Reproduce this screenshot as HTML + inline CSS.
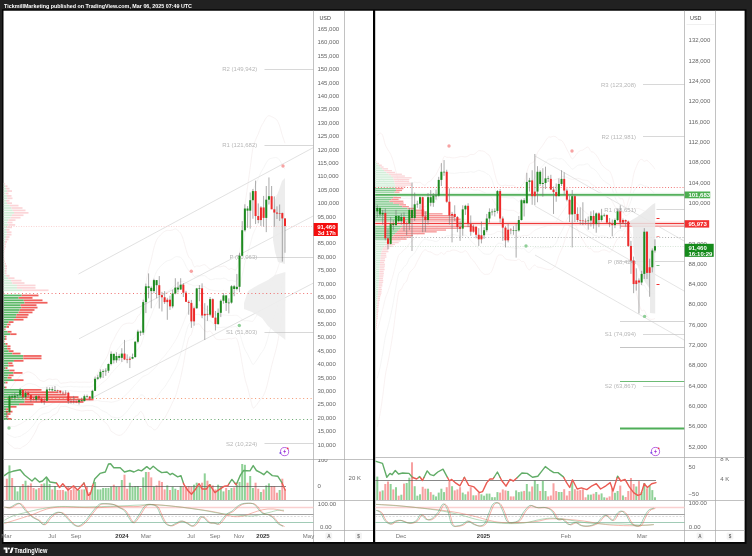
<!DOCTYPE html>
<html><head><meta charset="utf-8"><title>chart</title>
<style>html,body{margin:0;padding:0;background:#212121;}svg{display:block;font-family:"Liberation Sans",sans-serif;filter:blur(0.3px);}</style></head>
<body><svg width="752" height="556" viewBox="0 0 752 556">
<rect x="0" y="0" width="752" height="556" fill="#212121"/>
<rect x="2.0" y="9.25" width="744.5" height="534.55" fill="#060606"/>
<rect x="3.5" y="10.75" width="369.5" height="531.25" fill="#fff"/>
<rect x="375.1" y="10.75" width="369.5" height="531.25" fill="#fff"/>
<rect x="373.0" y="10.75" width="2.1000000000000227" height="531.25" fill="#000"/>
<text x="4" y="8" font-size="5.6" fill="#fff" font-weight="bold" text-anchor="start" textLength="188" lengthAdjust="spacingAndGlyphs">TickmillMarketing published on TradingView.com, Mar 06, 2025 07:49 UTC</text>
<clipPath id="cl"><rect x="3.5" y="10.75" width="310.1" height="448.25"/></clipPath>
<g clip-path="url(#cl)">
<path d="M6.8,395.36 C7.25,394.47 8.58,391.57 9.47,390.04 C10.37,388.52 11.26,387.48 12.15,386.21 C13.04,384.93 13.93,383.52 14.82,382.39 C15.72,381.26 16.61,380.58 17.5,379.43 C18.39,378.27 19.28,376.3 20.18,375.45 C21.07,374.6 21.96,374.83 22.85,374.34 C23.74,373.85 24.63,372.94 25.52,372.52 C26.42,372.1 27.31,371.81 28.2,371.82 C29.09,371.83 29.98,372.2 30.88,372.58 C31.77,372.96 32.66,373.5 33.55,374.1 C34.44,374.69 35.33,375.28 36.22,376.18 C37.12,377.08 38.01,378.73 38.9,379.51 C39.79,380.28 40.68,380.52 41.57,380.83 C42.47,381.14 43.36,381.55 44.25,381.38 C45.14,381.2 46.03,380.21 46.92,379.8 C47.82,379.39 48.71,378.94 49.6,378.91 C50.49,378.88 51.38,379.56 52.27,379.61 C53.17,379.66 54.06,379.19 54.95,379.2 C55.84,379.21 56.73,379.02 57.62,379.68 C58.52,380.34 59.41,382.59 60.3,383.14 C61.19,383.69 62.08,383.03 62.97,382.98 C63.87,382.92 64.76,382.92 65.65,382.82 C66.54,382.71 67.43,382.5 68.33,382.36 C69.22,382.21 70.11,381.95 71,381.95 C71.89,381.96 72.78,382.37 73.67,382.38 C74.57,382.39 75.46,382.02 76.35,382 C77.24,381.98 78.13,382.21 79.02,382.25 C79.92,382.29 80.81,382.25 81.7,382.24 C82.59,382.23 83.48,382.21 84.37,382.2 C85.27,382.2 86.16,382.21 87.05,382.22 C87.94,382.22 88.83,382.37 89.72,382.25 C90.62,382.14 91.51,382.37 92.4,381.5 C93.29,380.64 94.18,378.46 95.07,377.05 C95.97,375.64 96.86,374.6 97.75,373.05 C98.64,371.51 99.53,369.43 100.42,367.77 C101.32,366.12 102.21,364.59 103.1,363.13 C103.99,361.66 104.88,360.65 105.77,358.99 C106.67,357.32 107.56,355.57 108.45,353.15 C109.34,350.73 110.23,346.76 111.12,344.48 C112.02,342.19 112.91,341.21 113.8,339.46 C114.69,337.7 115.58,335.55 116.47,333.93 C117.37,332.3 118.26,331.08 119.15,329.71 C120.04,328.34 120.93,326.66 121.82,325.72 C122.72,324.78 123.61,324.47 124.5,324.06 C125.39,323.65 126.28,323.39 127.17,323.24 C128.07,323.09 128.96,323.13 129.85,323.14 C130.74,323.14 131.63,323.64 132.53,323.29 C133.42,322.93 134.31,322.24 135.2,321 C136.09,319.76 136.98,317.18 137.88,315.86 C138.77,314.54 139.66,315.63 140.55,313.06 C141.44,310.5 142.33,305.45 143.22,300.46 C144.12,295.46 145.01,288.27 145.9,283.08 C146.79,277.89 147.68,273.23 148.57,269.31 C149.47,265.4 150.36,263.17 151.25,259.6 C152.14,256.03 153.03,251.14 153.93,247.87 C154.82,244.61 155.71,241.95 156.6,240.03 C157.49,238.11 158.38,237.44 159.28,236.36 C160.17,235.28 161.06,234.36 161.95,233.54 C162.84,232.71 163.73,231.95 164.62,231.42 C165.52,230.89 166.41,230.51 167.3,230.37 C168.19,230.22 169.08,230.6 169.97,230.53 C170.87,230.46 171.76,230.25 172.65,229.97 C173.54,229.68 174.43,228.73 175.32,228.83 C176.22,228.92 177.11,229.77 178,230.54 C178.89,231.31 179.78,231.89 180.68,233.42 C181.57,234.96 182.46,237.05 183.35,239.75 C184.24,242.46 185.13,246.79 186.03,249.66 C186.92,252.52 187.81,255.25 188.7,256.95 C189.59,258.66 190.48,258.28 191.38,259.89 C192.27,261.51 193.16,265.65 194.05,266.65 C194.94,267.66 195.83,265.99 196.72,265.93 C197.62,265.87 198.51,266.39 199.4,266.28 C200.29,266.16 201.18,265.53 202.07,265.26 C202.97,265 203.86,264.41 204.75,264.7 C205.64,264.98 206.53,266.24 207.43,266.99 C208.32,267.74 209.21,268.94 210.1,269.19 C210.99,269.45 211.88,268.91 212.78,268.51 C213.67,268.11 214.56,267.08 215.45,266.78 C216.34,266.48 217.23,266.7 218.12,266.7 C219.02,266.71 219.91,266.92 220.8,266.8 C221.69,266.67 222.58,265.94 223.47,265.97 C224.37,266 225.26,266.42 226.15,266.98 C227.04,267.54 227.93,269.08 228.82,269.33 C229.72,269.59 230.61,268.46 231.5,268.51 C232.39,268.57 233.28,269.71 234.17,269.67 C235.07,269.64 235.96,270.91 236.85,268.31 C237.74,265.71 238.63,260.23 239.53,254.09 C240.42,247.95 241.31,239.5 242.2,231.47 C243.09,223.44 243.98,213.33 244.88,205.89 C245.77,198.45 246.66,193.22 247.55,186.82 C248.44,180.41 249.33,173.9 250.22,167.45 C251.12,160.99 252.01,152.69 252.9,148.09 C253.79,143.48 254.68,142.18 255.57,139.83 C256.47,137.48 257.36,136.13 258.25,134 C259.14,131.87 260.03,128.98 260.92,127.04 C261.82,125.1 262.71,123.93 263.6,122.35 C264.49,120.77 265.38,118.67 266.27,117.55 C267.17,116.43 268.06,115.8 268.95,115.66 C269.84,115.53 270.73,116.34 271.62,116.74 C272.52,117.13 273.41,117.46 274.3,118.04 C275.19,118.61 276.08,118.86 276.97,120.18 C277.87,121.51 278.76,123.46 279.65,125.99 C280.54,128.52 281.43,132.5 282.32,135.37 C283.22,138.25 284.55,141.95 285,143.27" fill="none" stroke="#f3eded" stroke-width="0.7" />
<path d="M6.8,403.04 C7.25,402.39 8.58,400.25 9.47,399.12 C10.37,397.99 11.26,397.21 12.15,396.26 C13.04,395.31 13.93,394.3 14.82,393.4 C15.72,392.51 16.61,391.86 17.5,390.89 C18.39,389.93 19.28,388.39 20.18,387.64 C21.07,386.89 21.96,386.89 22.85,386.39 C23.74,385.89 24.63,385.09 25.52,384.64 C26.42,384.18 27.31,383.82 28.2,383.67 C29.09,383.51 29.98,383.62 30.88,383.73 C31.77,383.83 32.66,384.05 33.55,384.29 C34.44,384.53 35.33,384.73 36.22,385.17 C37.12,385.61 38.01,386.54 38.9,386.94 C39.79,387.35 40.68,387.46 41.57,387.6 C42.47,387.75 43.36,388 44.25,387.8 C45.14,387.61 46.03,386.83 46.92,386.45 C47.82,386.07 48.71,385.65 49.6,385.51 C50.49,385.37 51.38,385.68 52.27,385.61 C53.17,385.53 54.06,385.15 54.95,385.06 C55.84,384.98 56.73,384.76 57.62,385.09 C58.52,385.43 59.41,386.77 60.3,387.07 C61.19,387.38 62.08,386.97 62.97,386.92 C63.87,386.86 64.76,386.8 65.65,386.73 C66.54,386.66 67.43,386.58 68.33,386.51 C69.22,386.45 70.11,386.29 71,386.34 C71.89,386.39 72.78,386.77 73.67,386.82 C74.57,386.87 75.46,386.63 76.35,386.65 C77.24,386.67 78.13,386.87 79.02,386.93 C79.92,387 80.81,387.02 81.7,387.03 C82.59,387.03 83.48,386.97 84.37,386.95 C85.27,386.93 86.16,386.9 87.05,386.91 C87.94,386.91 88.83,387.07 89.72,386.97 C90.62,386.88 91.51,387 92.4,386.34 C93.29,385.68 94.18,384.06 95.07,382.99 C95.97,381.92 96.86,381.08 97.75,379.93 C98.64,378.79 99.53,377.32 100.42,376.12 C101.32,374.92 102.21,373.8 103.1,372.72 C103.99,371.64 104.88,370.87 105.77,369.63 C106.67,368.4 107.56,367.09 108.45,365.3 C109.34,363.52 110.23,360.62 111.12,358.91 C112.02,357.2 112.91,356.39 113.8,355.02 C114.69,353.66 115.58,352 116.47,350.72 C117.37,349.43 118.26,348.47 119.15,347.32 C120.04,346.18 120.93,344.75 121.82,343.87 C122.72,343 123.61,342.58 124.5,342.07 C125.39,341.56 126.28,341.17 127.17,340.83 C128.07,340.49 128.96,340.27 129.85,340.03 C130.74,339.8 131.63,339.94 132.53,339.41 C133.42,338.89 134.31,338.07 135.2,336.9 C136.09,335.73 136.98,333.63 137.88,332.4 C138.77,331.16 139.66,331.63 140.55,329.47 C141.44,327.31 142.33,323.35 143.22,319.46 C144.12,315.57 145.01,310.13 145.9,306.13 C146.79,302.13 147.68,298.54 148.57,295.44 C149.47,292.34 150.36,290.4 151.25,287.52 C152.14,284.65 153.03,280.84 153.93,278.18 C154.82,275.51 155.71,273.24 156.6,271.52 C157.49,269.79 158.38,268.93 159.28,267.81 C160.17,266.7 161.06,265.69 161.95,264.82 C162.84,263.94 163.73,263.21 164.62,262.54 C165.52,261.88 166.41,261.24 167.3,260.83 C168.19,260.43 169.08,260.47 169.97,260.11 C170.87,259.75 171.76,259.22 172.65,258.66 C173.54,258.11 174.43,257.12 175.32,256.81 C176.22,256.49 177.11,256.67 178,256.78 C178.89,256.89 179.78,256.82 180.68,257.45 C181.57,258.08 182.46,259.11 183.35,260.57 C184.24,262.04 185.13,264.61 186.03,266.26 C186.92,267.91 187.81,269.47 188.7,270.47 C189.59,271.47 190.48,271.28 191.38,272.26 C192.27,273.24 193.16,275.8 194.05,276.36 C194.94,276.93 195.83,275.73 196.72,275.65 C197.62,275.58 198.51,275.91 199.4,275.92 C200.29,275.92 201.18,275.74 202.07,275.7 C202.97,275.66 203.86,275.35 204.75,275.7 C205.64,276.05 206.53,277.17 207.43,277.81 C208.32,278.44 209.21,279.24 210.1,279.51 C210.99,279.78 211.88,279.56 212.78,279.43 C213.67,279.3 214.56,278.82 215.45,278.72 C216.34,278.63 217.23,278.82 218.12,278.85 C219.02,278.89 219.91,279.04 220.8,278.93 C221.69,278.82 222.58,278.18 223.47,278.2 C224.37,278.21 225.26,278.59 226.15,279.03 C227.04,279.47 227.93,280.64 228.82,280.85 C229.72,281.05 230.61,280.2 231.5,280.25 C232.39,280.29 233.28,281.12 234.17,281.09 C235.07,281.06 235.96,281.96 236.85,280.08 C237.74,278.21 238.63,274.25 239.53,269.83 C240.42,265.41 241.31,259.41 242.2,253.54 C243.09,247.67 243.98,240.15 244.88,234.61 C245.77,229.06 246.66,225.05 247.55,220.27 C248.44,215.48 249.33,210.7 250.22,205.88 C251.12,201.06 252.01,194.97 252.9,191.36 C253.79,187.74 254.68,186.3 255.57,184.19 C256.47,182.09 257.36,180.72 258.25,178.74 C259.14,176.76 260.03,174.13 260.92,172.31 C261.82,170.5 262.71,169.45 263.6,167.84 C264.49,166.23 265.38,164.1 266.27,162.67 C267.17,161.24 268.06,160.01 268.95,159.28 C269.84,158.55 270.73,158.54 271.62,158.27 C272.52,158 273.41,157.76 274.3,157.67 C275.19,157.58 276.08,157.33 276.97,157.74 C277.87,158.14 278.76,158.91 279.65,160.11 C280.54,161.32 281.43,163.45 282.32,164.96 C283.22,166.48 284.55,168.51 285,169.22" fill="none" stroke="#f0f0f0" stroke-width="0.7" />
<path d="M6.8,410.73 C7.25,410.3 8.58,408.94 9.47,408.2 C10.37,407.47 11.26,406.94 12.15,406.31 C13.04,405.68 13.93,405.08 14.82,404.42 C15.72,403.76 16.61,403.13 17.5,402.36 C18.39,401.59 19.28,400.47 20.18,399.82 C21.07,399.17 21.96,398.96 22.85,398.45 C23.74,397.94 24.63,397.25 25.52,396.76 C26.42,396.27 27.31,395.83 28.2,395.51 C29.09,395.2 29.98,395.04 30.88,394.87 C31.77,394.7 32.66,394.6 33.55,394.49 C34.44,394.37 35.33,394.18 36.22,394.16 C37.12,394.14 38.01,394.34 38.9,394.38 C39.79,394.41 40.68,394.4 41.57,394.37 C42.47,394.35 43.36,394.44 44.25,394.23 C45.14,394.02 46.03,393.45 46.92,393.1 C47.82,392.75 48.71,392.37 49.6,392.12 C50.49,391.87 51.38,391.8 52.27,391.6 C53.17,391.4 54.06,391.11 54.95,390.93 C55.84,390.75 56.73,390.49 57.62,390.51 C58.52,390.52 59.41,390.95 60.3,391.01 C61.19,391.07 62.08,390.92 62.97,390.86 C63.87,390.79 64.76,390.67 65.65,390.64 C66.54,390.61 67.43,390.65 68.33,390.67 C69.22,390.68 70.11,390.63 71,390.73 C71.89,390.83 72.78,391.16 73.67,391.26 C74.57,391.35 75.46,391.23 76.35,391.29 C77.24,391.35 78.13,391.53 79.02,391.62 C79.92,391.7 80.81,391.8 81.7,391.81 C82.59,391.82 83.48,391.73 84.37,391.7 C85.27,391.66 86.16,391.6 87.05,391.59 C87.94,391.59 88.83,391.76 89.72,391.69 C90.62,391.62 91.51,391.64 92.4,391.18 C93.29,390.72 94.18,389.65 95.07,388.93 C95.97,388.2 96.86,387.56 97.75,386.82 C98.64,386.07 99.53,385.22 100.42,384.47 C101.32,383.71 102.21,383.01 103.1,382.31 C103.99,381.61 104.88,381.09 105.77,380.28 C106.67,379.47 107.56,378.62 108.45,377.46 C109.34,376.3 110.23,374.49 111.12,373.34 C112.02,372.2 112.91,371.56 113.8,370.59 C114.69,369.62 115.58,368.45 116.47,367.5 C117.37,366.56 118.26,365.85 119.15,364.94 C120.04,364.02 120.93,362.83 121.82,362.03 C122.72,361.22 123.61,360.68 124.5,360.08 C125.39,359.48 126.28,358.94 127.17,358.41 C128.07,357.89 128.96,357.41 129.85,356.93 C130.74,356.45 131.63,356.23 132.53,355.54 C133.42,354.85 134.31,353.9 135.2,352.8 C136.09,351.7 136.98,350.09 137.88,348.93 C138.77,347.78 139.66,347.62 140.55,345.88 C141.44,344.13 142.33,341.24 143.22,338.46 C144.12,335.67 145.01,331.99 145.9,329.18 C146.79,326.36 147.68,323.85 148.57,321.56 C149.47,319.27 150.36,317.63 151.25,315.45 C152.14,313.27 153.03,310.55 153.93,308.48 C154.82,306.41 155.71,304.54 156.6,303 C157.49,301.47 158.38,300.41 159.28,299.26 C160.17,298.11 161.06,297.03 161.95,296.1 C162.84,295.16 163.73,294.47 164.62,293.66 C165.52,292.86 166.41,291.96 167.3,291.29 C168.19,290.63 169.08,290.35 169.97,289.7 C170.87,289.04 171.76,288.18 172.65,287.36 C173.54,286.54 174.43,285.51 175.32,284.78 C176.22,284.06 177.11,283.57 178,283.02 C178.89,282.47 179.78,281.75 180.68,281.48 C181.57,281.21 182.46,281.17 183.35,281.39 C184.24,281.62 185.13,282.42 186.03,282.85 C186.92,283.29 187.81,283.69 188.7,283.99 C189.59,284.29 190.48,284.28 191.38,284.63 C192.27,284.98 193.16,285.95 194.05,286.07 C194.94,286.19 195.83,285.46 196.72,285.37 C197.62,285.29 198.51,285.43 199.4,285.56 C200.29,285.68 201.18,285.95 202.07,286.14 C202.97,286.33 203.86,286.3 204.75,286.71 C205.64,287.12 206.53,288.11 207.43,288.63 C208.32,289.15 209.21,289.54 210.1,289.83 C210.99,290.11 211.88,290.21 212.78,290.35 C213.67,290.49 214.56,290.56 215.45,290.67 C216.34,290.77 217.23,290.93 218.12,291 C219.02,291.07 219.91,291.16 220.8,291.07 C221.69,290.97 222.58,290.42 223.47,290.42 C224.37,290.43 225.26,290.75 226.15,291.07 C227.04,291.4 227.93,292.21 228.82,292.36 C229.72,292.51 230.61,291.95 231.5,291.98 C232.39,292 233.28,292.53 234.17,292.51 C235.07,292.49 235.96,293.01 236.85,291.86 C237.74,290.7 238.63,288.28 239.53,285.58 C240.42,282.87 241.31,279.33 242.2,275.62 C243.09,271.91 243.98,266.98 244.88,263.33 C245.77,259.68 246.66,256.89 247.55,253.72 C248.44,250.55 249.33,247.5 250.22,244.32 C251.12,241.14 252.01,237.25 252.9,234.63 C253.79,232 254.68,230.42 255.57,228.56 C256.47,226.7 257.36,225.32 258.25,223.49 C259.14,221.66 260.03,219.29 260.92,217.59 C261.82,215.9 262.71,214.96 263.6,213.32 C264.49,211.69 265.38,209.53 266.27,207.79 C267.17,206.05 268.06,204.23 268.95,202.9 C269.84,201.57 270.73,200.74 271.62,199.81 C272.52,198.87 273.41,198.05 274.3,197.3 C275.19,196.55 276.08,195.8 276.97,195.29 C277.87,194.78 278.76,194.36 279.65,194.23 C280.54,194.11 281.43,194.4 282.32,194.55 C283.22,194.71 284.55,195.07 285,195.18" fill="none" stroke="#f4f0f0" stroke-width="0.7" />
<path d="M6.8,426.09 C7.25,426.14 8.58,426.31 9.47,426.36 C10.37,426.42 11.26,426.39 12.15,426.41 C13.04,426.42 13.93,426.63 14.82,426.45 C15.72,426.26 16.61,425.67 17.5,425.29 C18.39,424.91 19.28,424.64 20.18,424.18 C21.07,423.73 21.96,423.09 22.85,422.55 C23.74,422.02 24.63,421.56 25.52,421 C26.42,420.44 27.31,419.85 28.2,419.21 C29.09,418.57 29.98,417.87 30.88,417.15 C31.77,416.43 32.66,415.71 33.55,414.88 C34.44,414.04 35.33,413.08 36.22,412.15 C37.12,411.21 38.01,409.95 38.9,409.25 C39.79,408.54 40.68,408.27 41.57,407.91 C42.47,407.55 43.36,407.34 44.25,407.09 C45.14,406.84 46.03,406.7 46.92,406.4 C47.82,406.11 48.71,405.79 49.6,405.32 C50.49,404.85 51.38,404.03 52.27,403.58 C53.17,403.14 54.06,403.03 54.95,402.66 C55.84,402.28 56.73,401.97 57.62,401.34 C58.52,400.71 59.41,399.31 60.3,398.88 C61.19,398.45 62.08,398.81 62.97,398.74 C63.87,398.67 64.76,398.43 65.65,398.47 C66.54,398.51 67.43,398.81 68.33,398.98 C69.22,399.15 70.11,399.31 71,399.51 C71.89,399.7 72.78,399.95 73.67,400.13 C74.57,400.31 75.46,400.44 76.35,400.58 C77.24,400.72 78.13,400.85 79.02,400.98 C79.92,401.11 80.81,401.34 81.7,401.38 C82.59,401.41 83.48,401.26 84.37,401.19 C85.27,401.13 86.16,400.99 87.05,400.97 C87.94,400.96 88.83,401.14 89.72,401.12 C90.62,401.1 91.51,400.91 92.4,400.85 C93.29,400.8 94.18,400.85 95.07,400.8 C95.97,400.76 96.86,400.52 97.75,400.58 C98.64,400.64 99.53,401.01 100.42,401.16 C101.32,401.31 102.21,401.42 103.1,401.49 C103.99,401.56 104.88,401.52 105.77,401.57 C106.67,401.61 107.56,401.66 108.45,401.77 C109.34,401.88 110.23,402.22 111.12,402.21 C112.02,402.2 112.91,401.91 113.8,401.72 C114.69,401.54 115.58,401.34 116.47,401.08 C117.37,400.82 118.26,400.62 119.15,400.16 C120.04,399.71 120.93,399.01 121.82,398.33 C122.72,397.65 123.61,396.89 124.5,396.1 C125.39,395.3 126.28,394.48 127.17,393.58 C128.07,392.68 128.96,391.69 129.85,390.72 C130.74,389.76 131.63,388.81 132.53,387.79 C133.42,386.77 134.31,385.57 135.2,384.6 C136.09,383.64 136.98,383 137.88,382.01 C138.77,381.03 139.66,379.61 140.55,378.69 C141.44,377.76 142.33,377.03 143.22,376.46 C144.12,375.89 145.01,375.72 145.9,375.28 C146.79,374.84 147.68,374.47 148.57,373.81 C149.47,373.14 150.36,372.08 151.25,371.29 C152.14,370.5 153.03,369.97 153.93,369.09 C154.82,368.2 155.71,367.14 156.6,365.98 C157.49,364.83 158.38,363.39 159.28,362.16 C160.17,360.94 161.06,359.7 161.95,358.66 C162.84,357.61 163.73,356.98 164.62,355.91 C165.52,354.84 166.41,353.4 167.3,352.22 C168.19,351.05 169.08,350.11 169.97,348.86 C170.87,347.62 171.76,346.11 172.65,344.76 C173.54,343.41 174.43,342.29 175.32,340.74 C176.22,339.2 177.11,337.37 178,335.51 C178.89,333.64 179.78,331.62 180.68,329.54 C181.57,327.46 182.46,325.28 183.35,323.04 C184.24,320.79 185.13,318.05 186.03,316.05 C186.92,314.05 187.81,312.14 188.7,311.03 C189.59,309.92 190.48,310.29 191.38,309.37 C192.27,308.45 193.16,306.25 194.05,305.49 C194.94,304.73 195.83,304.93 196.72,304.82 C197.62,304.71 198.51,304.47 199.4,304.84 C200.29,305.2 201.18,306.37 202.07,307.02 C202.97,307.66 203.86,308.18 204.75,308.72 C205.64,309.27 206.53,309.98 207.43,310.27 C208.32,310.56 209.21,310.14 210.1,310.46 C210.99,310.78 211.88,311.51 212.78,312.19 C213.67,312.87 214.56,314.04 215.45,314.55 C216.34,315.07 217.23,315.16 218.12,315.29 C219.02,315.42 219.91,315.4 220.8,315.33 C221.69,315.26 222.58,314.9 223.47,314.88 C224.37,314.85 225.26,315.08 226.15,315.16 C227.04,315.25 227.93,315.34 228.82,315.38 C229.72,315.43 230.61,315.45 231.5,315.44 C232.39,315.43 233.28,315.35 234.17,315.34 C235.07,315.33 235.96,315.11 236.85,315.4 C237.74,315.69 238.63,316.34 239.53,317.07 C240.42,317.8 241.31,319.15 242.2,319.76 C243.09,320.38 243.98,320.62 244.88,320.77 C245.77,320.91 246.66,320.55 247.55,320.62 C248.44,320.69 249.33,321.1 250.22,321.19 C251.12,321.29 252.01,321.82 252.9,321.17 C253.79,320.52 254.68,318.65 255.57,317.29 C256.47,315.92 257.36,314.5 258.25,312.98 C259.14,311.45 260.03,309.6 260.92,308.15 C261.82,306.7 262.71,305.98 263.6,304.29 C264.49,302.61 265.38,300.39 266.27,298.03 C267.17,295.67 268.06,292.66 268.95,290.14 C269.84,287.61 270.73,285.14 271.62,282.88 C272.52,280.62 273.41,278.64 274.3,276.56 C275.19,274.48 276.08,272.75 276.97,270.4 C277.87,268.05 278.76,265.25 279.65,262.47 C280.54,259.7 281.43,256.3 282.32,253.73 C283.22,251.17 284.55,248.2 285,247.09" fill="none" stroke="#f4f0f0" stroke-width="0.7" />
<path d="M6.8,433.78 C7.25,434.05 8.58,435 9.47,435.44 C10.37,435.89 11.26,436.12 12.15,436.46 C13.04,436.79 13.93,437.41 14.82,437.46 C15.72,437.51 16.61,436.94 17.5,436.76 C18.39,436.57 19.28,436.72 20.18,436.37 C21.07,436.01 21.96,435.15 22.85,434.61 C23.74,434.07 24.63,433.71 25.52,433.12 C26.42,432.53 27.31,431.86 28.2,431.06 C29.09,430.26 29.98,429.29 30.88,428.29 C31.77,427.3 32.66,426.27 33.55,425.07 C34.44,423.88 35.33,422.53 36.22,421.14 C37.12,419.74 38.01,417.76 38.9,416.69 C39.79,415.61 40.68,415.21 41.57,414.68 C42.47,414.16 43.36,413.79 44.25,413.52 C45.14,413.25 46.03,413.32 46.92,413.05 C47.82,412.78 48.71,412.5 49.6,411.92 C50.49,411.34 51.38,410.14 52.27,409.58 C53.17,409.01 54.06,409 54.95,408.52 C55.84,408.05 56.73,407.7 57.62,406.75 C58.52,405.8 59.41,403.49 60.3,402.81 C61.19,402.13 62.08,402.75 62.97,402.68 C63.87,402.6 64.76,402.3 65.65,402.38 C66.54,402.46 67.43,402.88 68.33,403.13 C69.22,403.39 70.11,403.65 71,403.89 C71.89,404.13 72.78,404.35 73.67,404.57 C74.57,404.79 75.46,405.04 76.35,405.22 C77.24,405.41 78.13,405.51 79.02,405.66 C79.92,405.82 80.81,406.11 81.7,406.16 C82.59,406.21 83.48,406.02 84.37,405.94 C85.27,405.86 86.16,405.68 87.05,405.66 C87.94,405.65 88.83,405.83 89.72,405.84 C90.62,405.84 91.51,405.54 92.4,405.69 C93.29,405.84 94.18,406.44 95.07,406.74 C95.97,407.03 96.86,407 97.75,407.46 C98.64,407.92 99.53,408.9 100.42,409.51 C101.32,410.11 102.21,410.63 103.1,411.08 C103.99,411.53 104.88,411.74 105.77,412.21 C106.67,412.69 107.56,413.19 108.45,413.93 C109.34,414.67 110.23,416.09 111.12,416.65 C112.02,417.21 112.91,417.09 113.8,417.29 C114.69,417.49 115.58,417.79 116.47,417.87 C117.37,417.95 118.26,418.01 119.15,417.78 C120.04,417.55 120.93,417.1 121.82,416.48 C122.72,415.87 123.61,414.99 124.5,414.1 C125.39,413.22 126.28,412.25 127.17,411.17 C128.07,410.08 128.96,408.82 129.85,407.62 C130.74,406.41 131.63,405.1 132.53,403.92 C133.42,402.73 134.31,401.4 135.2,400.51 C136.09,399.61 136.98,399.45 137.88,398.55 C138.77,397.65 139.66,395.61 140.55,395.09 C141.44,394.58 142.33,394.92 143.22,395.46 C144.12,396 145.01,397.58 145.9,398.33 C146.79,399.07 147.68,399.78 148.57,399.93 C149.47,400.08 150.36,399.3 151.25,399.21 C152.14,399.12 153.03,399.68 153.93,399.39 C154.82,399.1 155.71,398.43 156.6,397.47 C157.49,396.51 158.38,394.87 159.28,393.61 C160.17,392.36 161.06,391.03 161.95,389.94 C162.84,388.84 163.73,388.24 164.62,387.04 C165.52,385.83 166.41,384.12 167.3,382.69 C168.19,381.26 169.08,379.98 169.97,378.45 C170.87,376.91 171.76,375.08 172.65,373.46 C173.54,371.84 174.43,370.67 175.32,368.72 C176.22,366.77 177.11,364.27 178,361.75 C178.89,359.22 179.78,356.55 180.68,353.57 C181.57,350.59 182.46,347.34 183.35,343.86 C184.24,340.37 185.13,335.87 186.03,332.65 C186.92,329.43 187.81,326.37 188.7,324.55 C189.59,322.73 190.48,323.3 191.38,321.74 C192.27,320.18 193.16,316.4 194.05,315.2 C194.94,314 195.83,314.66 196.72,314.54 C197.62,314.42 198.51,313.99 199.4,314.48 C200.29,314.96 201.18,316.58 202.07,317.46 C202.97,318.33 203.86,319.13 204.75,319.73 C205.64,320.34 206.53,320.91 207.43,321.09 C208.32,321.26 209.21,320.44 210.1,320.78 C210.99,321.12 211.88,322.16 212.78,323.11 C213.67,324.06 214.56,325.78 215.45,326.5 C216.34,327.22 217.23,327.28 218.12,327.44 C219.02,327.6 219.91,327.52 220.8,327.47 C221.69,327.41 222.58,327.15 223.47,327.1 C224.37,327.06 225.26,327.24 226.15,327.21 C227.04,327.18 227.93,326.9 228.82,326.89 C229.72,326.89 230.61,327.2 231.5,327.17 C232.39,327.15 233.28,326.76 234.17,326.76 C235.07,326.76 235.96,326.17 236.85,327.18 C237.74,328.18 238.63,330.37 239.53,332.81 C240.42,335.26 241.31,339.06 242.2,341.84 C243.09,344.62 243.98,347.45 244.88,349.48 C245.77,351.52 246.66,352.38 247.55,354.07 C248.44,355.76 249.33,357.9 250.22,359.63 C251.12,361.36 252.01,364.1 252.9,364.44 C253.79,364.78 254.68,362.77 255.57,361.65 C256.47,360.54 257.36,359.09 258.25,357.72 C259.14,356.35 260.03,354.75 260.92,353.43 C261.82,352.1 262.71,351.49 263.6,349.78 C264.49,348.07 265.38,345.82 266.27,343.15 C267.17,340.48 268.06,336.88 268.95,333.75 C269.84,330.63 270.73,327.34 271.62,324.41 C272.52,321.49 273.41,318.94 274.3,316.2 C275.19,313.45 276.08,311.22 276.97,307.95 C277.87,304.68 278.76,300.7 279.65,296.59 C280.54,292.49 281.43,287.25 282.32,283.32 C283.22,279.4 284.55,274.76 285,273.04" fill="none" stroke="#f0f0f0" stroke-width="0.7" />
<path d="M6.8,441.46 C7.25,441.97 8.58,443.68 9.47,444.52 C10.37,445.36 11.26,445.85 12.15,446.51 C13.04,447.17 13.93,448.19 14.82,448.48 C15.72,448.76 16.61,448.21 17.5,448.22 C18.39,448.23 19.28,448.81 20.18,448.55 C21.07,448.29 21.96,447.22 22.85,446.66 C23.74,446.11 24.63,445.87 25.52,445.24 C26.42,444.61 27.31,443.88 28.2,442.91 C29.09,441.94 29.98,440.71 30.88,439.44 C31.77,438.16 32.66,436.82 33.55,435.27 C34.44,433.72 35.33,431.99 36.22,430.13 C37.12,428.27 38.01,425.57 38.9,424.12 C39.79,422.68 40.68,422.15 41.57,421.45 C42.47,420.76 43.36,420.24 44.25,419.95 C45.14,419.65 46.03,419.94 46.92,419.7 C47.82,419.46 48.71,419.21 49.6,418.52 C50.49,417.83 51.38,416.26 52.27,415.57 C53.17,414.88 54.06,414.96 54.95,414.39 C55.84,413.82 56.73,413.44 57.62,412.16 C58.52,410.89 59.41,407.67 60.3,406.75 C61.19,405.82 62.08,406.69 62.97,406.62 C63.87,406.54 64.76,406.18 65.65,406.29 C66.54,406.41 67.43,406.96 68.33,407.29 C69.22,407.62 70.11,408 71,408.28 C71.89,408.57 72.78,408.75 73.67,409.01 C74.57,409.28 75.46,409.65 76.35,409.87 C77.24,410.09 78.13,410.16 79.02,410.34 C79.92,410.52 80.81,410.89 81.7,410.94 C82.59,411 83.48,410.79 84.37,410.69 C85.27,410.59 86.16,410.37 87.05,410.35 C87.94,410.33 88.83,410.53 89.72,410.55 C90.62,410.58 91.51,410.18 92.4,410.53 C93.29,410.88 94.18,412.04 95.07,412.68 C95.97,413.31 96.86,413.48 97.75,414.34 C98.64,415.2 99.53,416.8 100.42,417.85 C101.32,418.91 102.21,419.84 103.1,420.67 C103.99,421.51 104.88,421.96 105.77,422.86 C106.67,423.76 107.56,424.71 108.45,426.08 C109.34,427.45 110.23,429.95 111.12,431.08 C112.02,432.21 112.91,432.26 113.8,432.86 C114.69,433.45 115.58,434.24 116.47,434.66 C117.37,435.08 118.26,435.39 119.15,435.39 C120.04,435.39 120.93,435.18 121.82,434.64 C122.72,434.09 123.61,433.09 124.5,432.11 C125.39,431.13 126.28,430.02 127.17,428.75 C128.07,427.48 128.96,425.96 129.85,424.51 C130.74,423.06 131.63,421.39 132.53,420.04 C133.42,418.69 134.31,417.23 135.2,416.41 C136.09,415.58 136.98,415.91 137.88,415.09 C138.77,414.27 139.66,411.61 140.55,411.5 C141.44,411.4 142.33,412.81 143.22,414.46 C144.12,416.1 145.01,419.45 145.9,421.38 C146.79,423.31 147.68,425.1 148.57,426.06 C149.47,427.01 150.36,426.53 151.25,427.13 C152.14,427.74 153.03,429.39 153.93,429.69 C154.82,430 155.71,429.73 156.6,428.96 C157.49,428.19 158.38,426.36 159.28,425.06 C160.17,423.77 161.06,422.37 161.95,421.22 C162.84,420.06 163.73,419.5 164.62,418.16 C165.52,416.82 166.41,414.84 167.3,413.15 C168.19,411.46 169.08,409.86 169.97,408.03 C170.87,406.2 171.76,404.05 172.65,402.16 C173.54,400.27 174.43,399.06 175.32,396.7 C176.22,394.34 177.11,391.17 178,387.99 C178.89,384.81 179.78,381.49 180.68,377.6 C181.57,373.72 182.46,369.4 183.35,364.68 C184.24,359.95 185.13,353.68 186.03,349.25 C186.92,344.81 187.81,340.59 188.7,338.07 C189.59,335.54 190.48,336.3 191.38,334.11 C192.27,331.91 193.16,326.55 194.05,324.91 C194.94,323.27 195.83,324.39 196.72,324.26 C197.62,324.13 198.51,323.51 199.4,324.12 C200.29,324.72 201.18,326.79 202.07,327.89 C202.97,329 203.86,330.07 204.75,330.74 C205.64,331.41 206.53,331.85 207.43,331.91 C208.32,331.97 209.21,330.74 210.1,331.1 C210.99,331.45 211.88,332.8 212.78,334.03 C213.67,335.25 214.56,337.51 215.45,338.44 C216.34,339.37 217.23,339.39 218.12,339.59 C219.02,339.78 219.91,339.65 220.8,339.6 C221.69,339.56 222.58,339.39 223.47,339.33 C224.37,339.27 225.26,339.41 226.15,339.26 C227.04,339.1 227.93,338.46 228.82,338.41 C229.72,338.35 230.61,338.94 231.5,338.91 C232.39,338.87 233.28,338.17 234.17,338.17 C235.07,338.18 235.96,337.22 236.85,338.95 C237.74,340.68 238.63,344.4 239.53,348.56 C240.42,352.72 241.31,358.97 242.2,363.91 C243.09,368.85 243.98,374.27 244.88,378.2 C245.77,382.14 246.66,384.21 247.55,387.52 C248.44,390.83 249.33,394.7 250.22,398.07 C251.12,401.43 252.01,406.38 252.9,407.71 C253.79,409.03 254.68,406.89 255.57,406.02 C256.47,405.15 257.36,403.69 258.25,402.47 C259.14,401.25 260.03,399.91 260.92,398.71 C261.82,397.51 262.71,397 263.6,395.26 C264.49,393.53 265.38,391.25 266.27,388.27 C267.17,385.29 268.06,381.09 268.95,377.37 C269.84,373.65 270.73,369.54 271.62,365.95 C272.52,362.36 273.41,359.23 274.3,355.83 C275.19,352.42 276.08,349.69 276.97,345.5 C277.87,341.32 278.76,336.15 279.65,330.71 C280.54,325.28 281.43,318.2 282.32,312.91 C283.22,307.63 284.55,301.32 285,299" fill="none" stroke="#f3eded" stroke-width="0.7" />
<line x1="78.5" y1="274" x2="313.5" y2="147.5" stroke="#d9d9d9" stroke-width="0.8" />
<line x1="79" y1="338.8" x2="313.5" y2="215.8" stroke="#dcdcdc" stroke-width="0.8" />
<line x1="92" y1="398" x2="313.5" y2="283" stroke="#d9d9d9" stroke-width="0.8" />
<rect x="3.5" y="182.95" width="0.67" height="1.7" fill="#d3eed9"/>
<rect x="4.17" y="182.95" width="0.93" height="1.7" fill="#fbd5d8"/>
<rect x="3.5" y="185.37" width="1.68" height="1.7" fill="#d3eed9"/>
<rect x="5.18" y="185.37" width="2.32" height="1.7" fill="#fbd5d8"/>
<rect x="3.5" y="187.79" width="2.52" height="1.7" fill="#d3eed9"/>
<rect x="6.02" y="187.79" width="3.48" height="1.7" fill="#fbd5d8"/>
<rect x="3.5" y="190.21" width="3.57" height="1.7" fill="#d3eed9"/>
<rect x="7.07" y="190.21" width="4.93" height="1.7" fill="#fbd5d8"/>
<rect x="3.5" y="192.63" width="2.1" height="1.7" fill="#d3eed9"/>
<rect x="5.6" y="192.63" width="2.9" height="1.7" fill="#fbd5d8"/>
<rect x="3.5" y="195.05" width="3.36" height="1.7" fill="#d3eed9"/>
<rect x="6.86" y="195.05" width="4.64" height="1.7" fill="#fbd5d8"/>
<rect x="3.5" y="197.47" width="3.78" height="1.7" fill="#d3eed9"/>
<rect x="7.28" y="197.47" width="5.22" height="1.7" fill="#fbd5d8"/>
<rect x="3.5" y="199.89" width="2.52" height="1.7" fill="#d3eed9"/>
<rect x="6.02" y="199.89" width="3.48" height="1.7" fill="#fbd5d8"/>
<rect x="3.5" y="202.31" width="3.57" height="1.7" fill="#d3eed9"/>
<rect x="7.07" y="202.31" width="4.93" height="1.7" fill="#fbd5d8"/>
<rect x="3.5" y="204.73" width="6.3" height="1.7" fill="#d3eed9"/>
<rect x="9.8" y="204.73" width="8.7" height="1.7" fill="#fbd5d8"/>
<rect x="3.5" y="207.15" width="7.98" height="1.7" fill="#d3eed9"/>
<rect x="11.48" y="207.15" width="11.02" height="1.7" fill="#fbd5d8"/>
<rect x="3.5" y="209.57" width="9.24" height="1.7" fill="#d3eed9"/>
<rect x="12.74" y="209.57" width="12.76" height="1.7" fill="#fbd5d8"/>
<rect x="3.5" y="211.99" width="10.5" height="1.7" fill="#d3eed9"/>
<rect x="14" y="211.99" width="14.5" height="1.7" fill="#fbd5d8"/>
<rect x="3.5" y="214.41" width="8.4" height="1.7" fill="#d3eed9"/>
<rect x="11.9" y="214.41" width="11.6" height="1.7" fill="#fbd5d8"/>
<rect x="3.5" y="216.83" width="7.14" height="1.7" fill="#d3eed9"/>
<rect x="10.64" y="216.83" width="9.86" height="1.7" fill="#fbd5d8"/>
<rect x="3.5" y="219.25" width="5.04" height="1.7" fill="#d3eed9"/>
<rect x="8.54" y="219.25" width="6.96" height="1.7" fill="#fbd5d8"/>
<rect x="3.5" y="221.67" width="3.78" height="1.7" fill="#d3eed9"/>
<rect x="7.28" y="221.67" width="5.22" height="1.7" fill="#fbd5d8"/>
<rect x="3.5" y="224.09" width="4.91" height="1.7" fill="#d3eed9"/>
<rect x="8.41" y="224.09" width="6.79" height="1.7" fill="#fbd5d8"/>
<rect x="3.5" y="226.51" width="3.57" height="1.7" fill="#d3eed9"/>
<rect x="7.07" y="226.51" width="4.93" height="1.7" fill="#fbd5d8"/>
<rect x="3.5" y="228.93" width="2.52" height="1.7" fill="#d3eed9"/>
<rect x="6.02" y="228.93" width="3.48" height="1.7" fill="#fbd5d8"/>
<rect x="3.5" y="231.35" width="3.36" height="1.7" fill="#d3eed9"/>
<rect x="6.86" y="231.35" width="4.64" height="1.7" fill="#fbd5d8"/>
<rect x="3.5" y="233.77" width="3.36" height="1.7" fill="#d3eed9"/>
<rect x="6.86" y="233.77" width="4.64" height="1.7" fill="#fbd5d8"/>
<rect x="3.5" y="236.19" width="2.52" height="1.7" fill="#d3eed9"/>
<rect x="6.02" y="236.19" width="3.48" height="1.7" fill="#fbd5d8"/>
<rect x="3.5" y="238.61" width="2.1" height="1.7" fill="#d3eed9"/>
<rect x="5.6" y="238.61" width="2.9" height="1.7" fill="#fbd5d8"/>
<rect x="3.5" y="241.03" width="1.47" height="1.7" fill="#d3eed9"/>
<rect x="4.97" y="241.03" width="2.03" height="1.7" fill="#fbd5d8"/>
<rect x="3.5" y="243.45" width="0.97" height="1.7" fill="#d3eed9"/>
<rect x="4.47" y="243.45" width="1.33" height="1.7" fill="#fbd5d8"/>
<rect x="3.5" y="245.87" width="0.97" height="1.7" fill="#d3eed9"/>
<rect x="4.47" y="245.87" width="1.33" height="1.7" fill="#fbd5d8"/>
<rect x="3.5" y="248.29" width="0.63" height="1.7" fill="#d3eed9"/>
<rect x="4.13" y="248.29" width="0.87" height="1.7" fill="#fbd5d8"/>
<rect x="3.5" y="250.71" width="0.42" height="1.7" fill="#d3eed9"/>
<rect x="3.92" y="250.71" width="0.58" height="1.7" fill="#fbd5d8"/>
<rect x="3.5" y="253.13" width="0.34" height="1.7" fill="#d3eed9"/>
<rect x="3.84" y="253.13" width="0.46" height="1.7" fill="#fbd5d8"/>
<rect x="3.5" y="255.55" width="0.34" height="1.7" fill="#d3eed9"/>
<rect x="3.84" y="255.55" width="0.46" height="1.7" fill="#fbd5d8"/>
<rect x="3.5" y="257.97" width="0.42" height="1.7" fill="#d3eed9"/>
<rect x="3.92" y="257.97" width="0.58" height="1.7" fill="#fbd5d8"/>
<rect x="3.5" y="260.39" width="0.63" height="1.7" fill="#d3eed9"/>
<rect x="4.13" y="260.39" width="0.87" height="1.7" fill="#fbd5d8"/>
<rect x="3.5" y="262.81" width="1.05" height="1.7" fill="#d3eed9"/>
<rect x="4.55" y="262.81" width="1.45" height="1.7" fill="#fbd5d8"/>
<rect x="3.5" y="265.23" width="1.47" height="1.7" fill="#d3eed9"/>
<rect x="4.97" y="265.23" width="2.03" height="1.7" fill="#fbd5d8"/>
<rect x="3.5" y="267.65" width="1.47" height="1.7" fill="#d3eed9"/>
<rect x="4.97" y="267.65" width="2.03" height="1.7" fill="#fbd5d8"/>
<rect x="3.5" y="270.07" width="1.26" height="1.7" fill="#d3eed9"/>
<rect x="4.76" y="270.07" width="1.74" height="1.7" fill="#fbd5d8"/>
<rect x="3.5" y="272.49" width="1.26" height="1.7" fill="#d3eed9"/>
<rect x="4.76" y="272.49" width="1.74" height="1.7" fill="#fbd5d8"/>
<rect x="3.5" y="274.91" width="2.52" height="1.7" fill="#d3eed9"/>
<rect x="6.02" y="274.91" width="3.48" height="1.7" fill="#fbd5d8"/>
<rect x="3.5" y="277.33" width="4.62" height="1.7" fill="#d3eed9"/>
<rect x="8.12" y="277.33" width="6.38" height="1.7" fill="#fbd5d8"/>
<rect x="3.5" y="279.75" width="7.56" height="1.7" fill="#d3eed9"/>
<rect x="11.06" y="279.75" width="10.44" height="1.7" fill="#fbd5d8"/>
<rect x="3.5" y="282.17" width="8.82" height="1.7" fill="#d3eed9"/>
<rect x="12.32" y="282.17" width="12.18" height="1.7" fill="#fbd5d8"/>
<rect x="3.5" y="284.59" width="13.44" height="1.7" fill="#d3eed9"/>
<rect x="16.94" y="284.59" width="18.56" height="1.7" fill="#fbd5d8"/>
<rect x="3.5" y="287.01" width="13.44" height="1.7" fill="#d3eed9"/>
<rect x="16.94" y="287.01" width="18.56" height="1.7" fill="#fbd5d8"/>
<rect x="3.5" y="289.43" width="18.9" height="1.7" fill="#d3eed9"/>
<rect x="22.4" y="289.43" width="26.1" height="1.7" fill="#fbd5d8"/>
<rect x="3.5" y="294.6" width="18.2" height="1.75" fill="#5cb868"/>
<rect x="21.7" y="294.6" width="16.8" height="1.75" fill="#f0605c"/>
<rect x="3.5" y="297.02" width="15.08" height="1.75" fill="#5cb868"/>
<rect x="18.58" y="297.02" width="13.92" height="1.75" fill="#f0605c"/>
<rect x="3.5" y="299.44" width="20.28" height="1.75" fill="#5cb868"/>
<rect x="23.78" y="299.44" width="18.72" height="1.75" fill="#f0605c"/>
<rect x="3.5" y="301.86" width="21" height="1.75" fill="#5cb868"/>
<rect x="24.5" y="301.86" width="23" height="1.75" fill="#f0605c"/>
<rect x="3.5" y="304.28" width="17.16" height="1.75" fill="#5cb868"/>
<rect x="20.66" y="304.28" width="15.84" height="1.75" fill="#f0605c"/>
<rect x="3.5" y="306.7" width="17.68" height="1.75" fill="#5cb868"/>
<rect x="21.18" y="306.7" width="16.32" height="1.75" fill="#f0605c"/>
<rect x="3.5" y="309.12" width="16.12" height="1.75" fill="#5cb868"/>
<rect x="19.62" y="309.12" width="14.88" height="1.75" fill="#f0605c"/>
<rect x="3.5" y="311.54" width="15.08" height="1.75" fill="#5cb868"/>
<rect x="18.58" y="311.54" width="13.92" height="1.75" fill="#f0605c"/>
<rect x="3.5" y="313.96" width="13" height="1.75" fill="#5cb868"/>
<rect x="16.5" y="313.96" width="12" height="1.75" fill="#f0605c"/>
<rect x="3.5" y="316.38" width="12.48" height="1.75" fill="#5cb868"/>
<rect x="15.98" y="316.38" width="11.52" height="1.75" fill="#f0605c"/>
<rect x="3.5" y="318.8" width="10.4" height="1.75" fill="#5cb868"/>
<rect x="13.9" y="318.8" width="9.6" height="1.75" fill="#f0605c"/>
<rect x="3.5" y="321.22" width="5.2" height="1.75" fill="#5cb868"/>
<rect x="8.7" y="321.22" width="4.8" height="1.75" fill="#f0605c"/>
<rect x="3.5" y="323.64" width="3.64" height="1.75" fill="#5cb868"/>
<rect x="7.14" y="323.64" width="3.36" height="1.75" fill="#f0605c"/>
<rect x="3.5" y="326.06" width="2.86" height="1.75" fill="#5cb868"/>
<rect x="6.36" y="326.06" width="2.64" height="1.75" fill="#f0605c"/>
<rect x="3.5" y="328.48" width="1.04" height="1.75" fill="#5cb868"/>
<rect x="4.54" y="328.48" width="0.96" height="1.75" fill="#f0605c"/>
<rect x="3.5" y="330.9" width="4.16" height="1.75" fill="#5cb868"/>
<rect x="7.66" y="330.9" width="3.84" height="1.75" fill="#f0605c"/>
<rect x="3.5" y="333.32" width="6.76" height="1.75" fill="#5cb868"/>
<rect x="10.26" y="333.32" width="6.24" height="1.75" fill="#f0605c"/>
<rect x="3.5" y="335.74" width="1.56" height="1.75" fill="#5cb868"/>
<rect x="5.06" y="335.74" width="1.44" height="1.75" fill="#f0605c"/>
<rect x="3.5" y="338.16" width="1.56" height="1.75" fill="#5cb868"/>
<rect x="5.06" y="338.16" width="1.44" height="1.75" fill="#f0605c"/>
<rect x="3.5" y="340.58" width="0.52" height="1.75" fill="#5cb868"/>
<rect x="4.02" y="340.58" width="0.48" height="1.75" fill="#f0605c"/>
<rect x="3.5" y="343" width="2.08" height="1.75" fill="#5cb868"/>
<rect x="5.58" y="343" width="1.92" height="1.75" fill="#f0605c"/>
<rect x="3.5" y="345.42" width="3.64" height="1.75" fill="#5cb868"/>
<rect x="7.14" y="345.42" width="3.36" height="1.75" fill="#f0605c"/>
<rect x="3.5" y="347.84" width="3.64" height="1.75" fill="#5cb868"/>
<rect x="7.14" y="347.84" width="3.36" height="1.75" fill="#f0605c"/>
<rect x="3.5" y="350.26" width="5.2" height="1.75" fill="#5cb868"/>
<rect x="8.7" y="350.26" width="4.8" height="1.75" fill="#f0605c"/>
<rect x="3.5" y="352.68" width="8.84" height="1.75" fill="#5cb868"/>
<rect x="12.34" y="352.68" width="8.16" height="1.75" fill="#f0605c"/>
<rect x="3.5" y="355.1" width="19.76" height="1.75" fill="#5cb868"/>
<rect x="23.26" y="355.1" width="18.24" height="1.75" fill="#f0605c"/>
<rect x="3.5" y="357.52" width="19.76" height="1.75" fill="#5cb868"/>
<rect x="23.26" y="357.52" width="18.24" height="1.75" fill="#f0605c"/>
<rect x="3.5" y="359.94" width="10.4" height="1.75" fill="#5cb868"/>
<rect x="13.9" y="359.94" width="9.6" height="1.75" fill="#f0605c"/>
<rect x="3.5" y="362.36" width="4.68" height="1.75" fill="#5cb868"/>
<rect x="8.18" y="362.36" width="4.32" height="1.75" fill="#f0605c"/>
<rect x="3.5" y="364.78" width="5.2" height="1.75" fill="#5cb868"/>
<rect x="8.7" y="364.78" width="4.8" height="1.75" fill="#f0605c"/>
<rect x="3.5" y="367.2" width="2.08" height="1.75" fill="#5cb868"/>
<rect x="5.58" y="367.2" width="1.92" height="1.75" fill="#f0605c"/>
<rect x="3.5" y="369.62" width="5.72" height="1.75" fill="#5cb868"/>
<rect x="9.22" y="369.62" width="5.28" height="1.75" fill="#f0605c"/>
<rect x="3.5" y="372.04" width="9.88" height="1.75" fill="#5cb868"/>
<rect x="13.38" y="372.04" width="9.12" height="1.75" fill="#f0605c"/>
<rect x="3.5" y="374.46" width="5.2" height="1.75" fill="#5cb868"/>
<rect x="8.7" y="374.46" width="4.8" height="1.75" fill="#f0605c"/>
<rect x="3.5" y="376.88" width="4.16" height="1.75" fill="#5cb868"/>
<rect x="7.66" y="376.88" width="3.84" height="1.75" fill="#f0605c"/>
<rect x="3.5" y="379.3" width="10.4" height="1.75" fill="#5cb868"/>
<rect x="13.9" y="379.3" width="9.6" height="1.75" fill="#f0605c"/>
<rect x="3.5" y="381.72" width="2.08" height="1.75" fill="#5cb868"/>
<rect x="5.58" y="381.72" width="1.92" height="1.75" fill="#f0605c"/>
<rect x="3.5" y="384.14" width="0.31" height="1.75" fill="#5cb868"/>
<rect x="3.81" y="384.14" width="0.29" height="1.75" fill="#f0605c"/>
<rect x="3.5" y="386.56" width="1.56" height="1.75" fill="#5cb868"/>
<rect x="5.06" y="386.56" width="1.44" height="1.75" fill="#f0605c"/>
<rect x="3.5" y="388.98" width="19.76" height="1.75" fill="#5cb868"/>
<rect x="23.26" y="388.98" width="18.24" height="1.75" fill="#f0605c"/>
<rect x="3.5" y="391.4" width="21" height="1.75" fill="#5cb868"/>
<rect x="24.5" y="391.4" width="34" height="1.75" fill="#f0605c"/>
<rect x="3.5" y="393.82" width="21" height="1.75" fill="#5cb868"/>
<rect x="24.5" y="393.82" width="42" height="1.75" fill="#f0605c"/>
<rect x="3.5" y="396.24" width="21" height="1.75" fill="#5cb868"/>
<rect x="24.5" y="396.24" width="54" height="1.75" fill="#f0605c"/>
<rect x="3.5" y="398.66" width="21" height="1.75" fill="#5cb868"/>
<rect x="24.5" y="398.66" width="69" height="1.75" fill="#f0605c"/>
<rect x="3.5" y="401.08" width="21" height="1.75" fill="#5cb868"/>
<rect x="24.5" y="401.08" width="59" height="1.75" fill="#f0605c"/>
<rect x="3.5" y="403.5" width="15.6" height="1.75" fill="#5cb868"/>
<rect x="19.1" y="403.5" width="14.4" height="1.75" fill="#f0605c"/>
<rect x="3.5" y="405.92" width="6.76" height="1.75" fill="#5cb868"/>
<rect x="10.26" y="405.92" width="6.24" height="1.75" fill="#f0605c"/>
<rect x="3.5" y="408.34" width="2.6" height="1.75" fill="#5cb868"/>
<rect x="6.1" y="408.34" width="2.4" height="1.75" fill="#f0605c"/>
<rect x="3.5" y="410.76" width="4.68" height="1.75" fill="#5cb868"/>
<rect x="8.18" y="410.76" width="4.32" height="1.75" fill="#f0605c"/>
<rect x="3.5" y="413.18" width="3.64" height="1.75" fill="#5cb868"/>
<rect x="7.14" y="413.18" width="3.36" height="1.75" fill="#f0605c"/>
<rect x="3.5" y="415.6" width="2.6" height="1.75" fill="#5cb868"/>
<rect x="6.1" y="415.6" width="2.4" height="1.75" fill="#f0605c"/>
<rect x="3.5" y="418.02" width="4.16" height="1.75" fill="#5cb868"/>
<rect x="7.66" y="418.02" width="3.84" height="1.75" fill="#f0605c"/>
<polygon points="285.3,272 275,275 268,280 258,285 248,291 246,297 244,303 244,309 252,312 262,318 268,326 276,333 283,338 285.3,340" fill="#ededed" opacity="0.9"/>
<polygon points="285,178 282,181 279,190 275,200 273.5,210 273,240 275,252 278,262 285,264" fill="#ebebeb" opacity="0.9"/>
<line x1="3.5" y1="226.5" x2="313.6" y2="226.5" stroke="#f8c4c4" stroke-width="0.75" stroke-dasharray="1 1.5"/>
<line x1="3.5" y1="293.5" x2="313.6" y2="293.5" stroke="#ee5f5f" stroke-width="0.9" stroke-dasharray="1 2.7"/>
<line x1="3.5" y1="398.5" x2="313.6" y2="398.5" stroke="#f28a60" stroke-width="0.9" stroke-dasharray="1 2.7"/>
<line x1="3.5" y1="419.5" x2="313.6" y2="419.5" stroke="#4f9858" stroke-width="0.9" stroke-dasharray="1 2.7"/>
<line x1="264.5" y1="69.5" x2="313.6" y2="69.5" stroke="#bdbdbd" stroke-width="0.6" />
<text x="257.3" y="71.37" font-size="6" fill="#b7b7b7" font-weight="normal" text-anchor="end" >R2 (149,942)</text>
<line x1="264.5" y1="145.5" x2="313.6" y2="145.5" stroke="#bdbdbd" stroke-width="0.6" />
<text x="257.3" y="147.14" font-size="6" fill="#b7b7b7" font-weight="normal" text-anchor="end" >R1 (121,682)</text>
<line x1="246" y1="257.5" x2="313.6" y2="257.5" stroke="#bdbdbd" stroke-width="0.6" />
<text x="257.3" y="259.42" font-size="6" fill="#b7b7b7" font-weight="normal" text-anchor="end" >P (80,063)</text>
<line x1="264.5" y1="332.5" x2="313.6" y2="332.5" stroke="#bdbdbd" stroke-width="0.6" />
<text x="257.3" y="334.48" font-size="6" fill="#b7b7b7" font-weight="normal" text-anchor="end" >S1 (51,803)</text>
<line x1="264.5" y1="443.5" x2="313.6" y2="443.5" stroke="#bdbdbd" stroke-width="0.6" />
<text x="257.3" y="445.95" font-size="6" fill="#b7b7b7" font-weight="normal" text-anchor="end" >S2 (10,224)</text>
<line x1="6.8" y1="410.67" x2="6.8" y2="418.99" stroke="#727272" stroke-width="0.6" />
<rect x="5.8" y="411.21" width="2" height="1.07" fill="#ee2a2a"/>
<line x1="9.47" y1="395.12" x2="9.47" y2="412.55" stroke="#727272" stroke-width="0.6" />
<rect x="8.47" y="396.2" width="2" height="16.09" fill="#1d8a1f"/>
<line x1="12.15" y1="393.78" x2="12.15" y2="399.95" stroke="#727272" stroke-width="0.6" />
<rect x="11.15" y="396.2" width="2" height="1.34" fill="#1d8a1f"/>
<line x1="14.82" y1="392.98" x2="14.82" y2="400.22" stroke="#727272" stroke-width="0.6" />
<rect x="13.82" y="395.66" width="2" height="1.88" fill="#1d8a1f"/>
<line x1="17.5" y1="394.05" x2="17.5" y2="398.34" stroke="#727272" stroke-width="0.6" />
<rect x="16.5" y="395.39" width="2" height="0.6" fill="#1d8a1f"/>
<line x1="20.18" y1="388.15" x2="20.18" y2="395.66" stroke="#727272" stroke-width="0.6" />
<rect x="19.18" y="390.03" width="2" height="5.36" fill="#1d8a1f"/>
<line x1="22.85" y1="389.49" x2="22.85" y2="398.61" stroke="#727272" stroke-width="0.6" />
<rect x="21.85" y="390.03" width="2" height="7.24" fill="#ee2a2a"/>
<line x1="25.52" y1="390.83" x2="25.52" y2="398.88" stroke="#727272" stroke-width="0.6" />
<rect x="24.52" y="392.98" width="2" height="4.29" fill="#1d8a1f"/>
<line x1="28.2" y1="391.37" x2="28.2" y2="397" stroke="#727272" stroke-width="0.6" />
<rect x="27.2" y="392.98" width="2" height="2.14" fill="#ee2a2a"/>
<line x1="30.88" y1="394.59" x2="30.88" y2="402.1" stroke="#727272" stroke-width="0.6" />
<rect x="29.88" y="395.12" width="2" height="4.02" fill="#ee2a2a"/>
<line x1="33.55" y1="397" x2="33.55" y2="400.49" stroke="#727272" stroke-width="0.6" />
<rect x="32.55" y="399.15" width="2" height="0.6" fill="#ee2a2a"/>
<line x1="36.22" y1="395.12" x2="36.22" y2="401.83" stroke="#727272" stroke-width="0.6" />
<rect x="35.22" y="396.2" width="2" height="3.49" fill="#1d8a1f"/>
<line x1="38.9" y1="395.12" x2="38.9" y2="400.22" stroke="#727272" stroke-width="0.6" />
<rect x="37.9" y="396.2" width="2" height="2.41" fill="#ee2a2a"/>
<line x1="41.57" y1="397.81" x2="41.57" y2="403.17" stroke="#727272" stroke-width="0.6" />
<rect x="40.57" y="398.61" width="2" height="3.22" fill="#ee2a2a"/>
<line x1="44.25" y1="399.41" x2="44.25" y2="404.78" stroke="#727272" stroke-width="0.6" />
<rect x="43.25" y="400.75" width="2" height="1.07" fill="#ee2a2a"/>
<line x1="46.92" y1="387.08" x2="46.92" y2="401.02" stroke="#727272" stroke-width="0.6" />
<rect x="45.92" y="389.49" width="2" height="11.26" fill="#1d8a1f"/>
<line x1="49.6" y1="387.35" x2="49.6" y2="391.1" stroke="#727272" stroke-width="0.6" />
<rect x="48.6" y="389.23" width="2" height="0.6" fill="#1d8a1f"/>
<line x1="52.27" y1="386.81" x2="52.27" y2="391.64" stroke="#727272" stroke-width="0.6" />
<rect x="51.27" y="389.23" width="2" height="1.07" fill="#1d8a1f"/>
<line x1="54.95" y1="386.01" x2="54.95" y2="391.1" stroke="#727272" stroke-width="0.6" />
<rect x="53.95" y="390.16" width="2" height="0.6" fill="#1d8a1f"/>
<line x1="57.62" y1="389.76" x2="57.62" y2="392.18" stroke="#727272" stroke-width="0.6" />
<rect x="56.62" y="390.16" width="2" height="0.6" fill="#ee2a2a"/>
<line x1="60.3" y1="390.57" x2="60.3" y2="393.78" stroke="#727272" stroke-width="0.6" />
<rect x="59.3" y="390.57" width="2" height="2.14" fill="#ee2a2a"/>
<line x1="62.97" y1="390.83" x2="62.97" y2="394.59" stroke="#727272" stroke-width="0.6" />
<rect x="61.97" y="392.71" width="2" height="0.6" fill="#ee2a2a"/>
<line x1="65.65" y1="390.3" x2="65.65" y2="394.32" stroke="#727272" stroke-width="0.6" />
<rect x="64.65" y="392.71" width="2" height="0.6" fill="#ee2a2a"/>
<line x1="68.33" y1="391.64" x2="68.33" y2="403.7" stroke="#727272" stroke-width="0.6" />
<rect x="67.33" y="392.71" width="2" height="8.31" fill="#ee2a2a"/>
<line x1="71" y1="399.41" x2="71" y2="403.44" stroke="#727272" stroke-width="0.6" />
<rect x="70" y="401.02" width="2" height="0.6" fill="#ee2a2a"/>
<line x1="73.67" y1="395.93" x2="73.67" y2="403.44" stroke="#727272" stroke-width="0.6" />
<rect x="72.67" y="401.29" width="2" height="0.6" fill="#ee2a2a"/>
<line x1="76.35" y1="400.49" x2="76.35" y2="403.17" stroke="#727272" stroke-width="0.6" />
<rect x="75.35" y="401.56" width="2" height="0.6" fill="#ee2a2a"/>
<line x1="79.02" y1="399.15" x2="79.02" y2="404.51" stroke="#727272" stroke-width="0.6" />
<rect x="78.02" y="400.22" width="2" height="1.88" fill="#1d8a1f"/>
<line x1="81.7" y1="397.54" x2="81.7" y2="401.56" stroke="#727272" stroke-width="0.6" />
<rect x="80.7" y="400.22" width="2" height="0.8" fill="#1d8a1f"/>
<line x1="84.37" y1="394.59" x2="84.37" y2="401.56" stroke="#727272" stroke-width="0.6" />
<rect x="83.37" y="396.2" width="2" height="4.83" fill="#1d8a1f"/>
<line x1="87.05" y1="394.59" x2="87.05" y2="398.34" stroke="#727272" stroke-width="0.6" />
<rect x="86.05" y="396.2" width="2" height="0.6" fill="#1d8a1f"/>
<line x1="89.72" y1="396.2" x2="89.72" y2="400.22" stroke="#727272" stroke-width="0.6" />
<rect x="88.72" y="396.47" width="2" height="2.14" fill="#ee2a2a"/>
<line x1="92.4" y1="389.76" x2="92.4" y2="398.61" stroke="#727272" stroke-width="0.6" />
<rect x="91.4" y="390.83" width="2" height="7.77" fill="#1d8a1f"/>
<line x1="95.07" y1="376.63" x2="95.07" y2="391.1" stroke="#727272" stroke-width="0.6" />
<rect x="94.07" y="378.77" width="2" height="12.06" fill="#1d8a1f"/>
<line x1="97.75" y1="374.75" x2="97.75" y2="379.84" stroke="#727272" stroke-width="0.6" />
<rect x="96.75" y="377.43" width="2" height="1.34" fill="#1d8a1f"/>
<line x1="100.42" y1="369.39" x2="100.42" y2="378.77" stroke="#727272" stroke-width="0.6" />
<rect x="99.42" y="371.8" width="2" height="5.63" fill="#1d8a1f"/>
<line x1="103.1" y1="369.39" x2="103.1" y2="377.97" stroke="#727272" stroke-width="0.6" />
<rect x="102.1" y="371" width="2" height="0.8" fill="#1d8a1f"/>
<line x1="105.77" y1="368.31" x2="105.77" y2="375.82" stroke="#727272" stroke-width="0.6" />
<rect x="104.77" y="370.73" width="2" height="0.6" fill="#1d8a1f"/>
<line x1="108.45" y1="363.49" x2="108.45" y2="372.87" stroke="#727272" stroke-width="0.6" />
<rect x="107.45" y="364.02" width="2" height="6.7" fill="#1d8a1f"/>
<line x1="111.12" y1="351.42" x2="111.12" y2="365.37" stroke="#727272" stroke-width="0.6" />
<rect x="110.12" y="353.84" width="2" height="10.19" fill="#1d8a1f"/>
<line x1="113.8" y1="353.84" x2="113.8" y2="363.49" stroke="#727272" stroke-width="0.6" />
<rect x="112.8" y="353.84" width="2" height="6.43" fill="#1d8a1f"/>
<line x1="116.47" y1="352.23" x2="116.47" y2="362.68" stroke="#727272" stroke-width="0.6" />
<rect x="115.47" y="355.98" width="2" height="4.29" fill="#1d8a1f"/>
<line x1="119.15" y1="353.84" x2="119.15" y2="360.54" stroke="#727272" stroke-width="0.6" />
<rect x="118.15" y="355.98" width="2" height="1.88" fill="#1d8a1f"/>
<line x1="121.82" y1="348.21" x2="121.82" y2="361.88" stroke="#727272" stroke-width="0.6" />
<rect x="120.82" y="353.57" width="2" height="4.29" fill="#1d8a1f"/>
<line x1="124.5" y1="339.9" x2="124.5" y2="360" stroke="#727272" stroke-width="0.6" />
<rect x="123.5" y="353.57" width="2" height="5.9" fill="#ee2a2a"/>
<line x1="127.17" y1="354.37" x2="127.17" y2="363.22" stroke="#727272" stroke-width="0.6" />
<rect x="126.17" y="359.47" width="2" height="0.6" fill="#ee2a2a"/>
<line x1="129.85" y1="356.52" x2="129.85" y2="368.05" stroke="#727272" stroke-width="0.6" />
<rect x="128.85" y="358.66" width="2" height="1.07" fill="#ee2a2a"/>
<line x1="132.53" y1="353.57" x2="132.53" y2="359.2" stroke="#727272" stroke-width="0.6" />
<rect x="131.53" y="357.05" width="2" height="1.61" fill="#1d8a1f"/>
<line x1="135.2" y1="340.97" x2="135.2" y2="357.86" stroke="#727272" stroke-width="0.6" />
<rect x="134.2" y="341.77" width="2" height="15.28" fill="#1d8a1f"/>
<line x1="137.88" y1="329.71" x2="137.88" y2="343.38" stroke="#727272" stroke-width="0.6" />
<rect x="136.88" y="331.58" width="2" height="10.19" fill="#1d8a1f"/>
<line x1="140.55" y1="330.51" x2="140.55" y2="335.87" stroke="#727272" stroke-width="0.6" />
<rect x="139.55" y="331.58" width="2" height="1.07" fill="#1d8a1f"/>
<line x1="143.22" y1="299.68" x2="143.22" y2="334.8" stroke="#727272" stroke-width="0.6" />
<rect x="142.22" y="302.09" width="2" height="30.56" fill="#1d8a1f"/>
<line x1="145.9" y1="283.59" x2="145.9" y2="313.09" stroke="#727272" stroke-width="0.6" />
<rect x="144.9" y="286.28" width="2" height="15.82" fill="#1d8a1f"/>
<line x1="148.57" y1="273.41" x2="148.57" y2="298.34" stroke="#727272" stroke-width="0.6" />
<rect x="147.57" y="286.28" width="2" height="1.61" fill="#1d8a1f"/>
<line x1="151.25" y1="286.54" x2="151.25" y2="308.26" stroke="#727272" stroke-width="0.6" />
<rect x="150.25" y="287.88" width="2" height="3.22" fill="#1d8a1f"/>
<line x1="153.93" y1="278.77" x2="153.93" y2="293.25" stroke="#727272" stroke-width="0.6" />
<rect x="152.93" y="280.11" width="2" height="10.99" fill="#1d8a1f"/>
<line x1="156.6" y1="280.11" x2="156.6" y2="298.34" stroke="#727272" stroke-width="0.6" />
<rect x="155.6" y="280.11" width="2" height="5.09" fill="#1d8a1f"/>
<line x1="159.28" y1="276.09" x2="159.28" y2="308.53" stroke="#727272" stroke-width="0.6" />
<rect x="158.28" y="285.2" width="2" height="9.92" fill="#ee2a2a"/>
<line x1="161.95" y1="291.91" x2="161.95" y2="311.48" stroke="#727272" stroke-width="0.6" />
<rect x="160.95" y="295.12" width="2" height="2.14" fill="#ee2a2a"/>
<line x1="164.62" y1="291.1" x2="164.62" y2="303.97" stroke="#727272" stroke-width="0.6" />
<rect x="163.62" y="297.27" width="2" height="4.83" fill="#ee2a2a"/>
<line x1="167.3" y1="297.8" x2="167.3" y2="319.79" stroke="#727272" stroke-width="0.6" />
<rect x="166.3" y="299.68" width="2" height="2.41" fill="#ee2a2a"/>
<line x1="169.97" y1="295.66" x2="169.97" y2="309.87" stroke="#727272" stroke-width="0.6" />
<rect x="168.97" y="299.68" width="2" height="6.7" fill="#ee2a2a"/>
<line x1="172.65" y1="289.76" x2="172.65" y2="308.26" stroke="#727272" stroke-width="0.6" />
<rect x="171.65" y="293.51" width="2" height="12.87" fill="#1d8a1f"/>
<line x1="175.32" y1="278.23" x2="175.32" y2="294.32" stroke="#727272" stroke-width="0.6" />
<rect x="174.32" y="287.62" width="2" height="5.9" fill="#1d8a1f"/>
<line x1="178" y1="281.72" x2="178" y2="292.44" stroke="#727272" stroke-width="0.6" />
<rect x="177" y="287.62" width="2" height="1.88" fill="#1d8a1f"/>
<line x1="180.68" y1="278.23" x2="180.68" y2="290.03" stroke="#727272" stroke-width="0.6" />
<rect x="179.68" y="284.67" width="2" height="4.83" fill="#1d8a1f"/>
<line x1="183.35" y1="283.06" x2="183.35" y2="297" stroke="#727272" stroke-width="0.6" />
<rect x="182.35" y="284.67" width="2" height="8.04" fill="#ee2a2a"/>
<line x1="186.03" y1="290.83" x2="186.03" y2="301.83" stroke="#727272" stroke-width="0.6" />
<rect x="185.03" y="292.71" width="2" height="9.12" fill="#ee2a2a"/>
<line x1="188.7" y1="300.22" x2="188.7" y2="314.69" stroke="#727272" stroke-width="0.6" />
<rect x="187.7" y="301.83" width="2" height="1.07" fill="#ee2a2a"/>
<line x1="191.38" y1="299.95" x2="191.38" y2="327.83" stroke="#727272" stroke-width="0.6" />
<rect x="190.38" y="302.9" width="2" height="18.5" fill="#ee2a2a"/>
<line x1="194.05" y1="306.65" x2="194.05" y2="325.69" stroke="#727272" stroke-width="0.6" />
<rect x="193.05" y="308.26" width="2" height="13.14" fill="#ee2a2a"/>
<line x1="196.72" y1="287.88" x2="196.72" y2="308.8" stroke="#727272" stroke-width="0.6" />
<rect x="195.72" y="288.42" width="2" height="19.84" fill="#1d8a1f"/>
<line x1="199.4" y1="285.2" x2="199.4" y2="301.29" stroke="#727272" stroke-width="0.6" />
<rect x="198.4" y="288.29" width="2" height="0.6" fill="#1d8a1f"/>
<line x1="202.07" y1="283.33" x2="202.07" y2="318.18" stroke="#727272" stroke-width="0.6" />
<rect x="201.07" y="288.29" width="2" height="27.21" fill="#ee2a2a"/>
<line x1="204.75" y1="303.17" x2="204.75" y2="339.9" stroke="#727272" stroke-width="0.6" />
<rect x="203.75" y="313.89" width="2" height="1.61" fill="#ee2a2a"/>
<line x1="207.43" y1="305.58" x2="207.43" y2="320.86" stroke="#727272" stroke-width="0.6" />
<rect x="206.43" y="313.89" width="2" height="0.8" fill="#ee2a2a"/>
<line x1="210.1" y1="297" x2="210.1" y2="316.3" stroke="#727272" stroke-width="0.6" />
<rect x="209.1" y="299.14" width="2" height="15.55" fill="#1d8a1f"/>
<line x1="212.78" y1="298.34" x2="212.78" y2="317.91" stroke="#727272" stroke-width="0.6" />
<rect x="211.78" y="299.14" width="2" height="18.5" fill="#ee2a2a"/>
<line x1="215.45" y1="310.94" x2="215.45" y2="330.51" stroke="#727272" stroke-width="0.6" />
<rect x="214.45" y="317.64" width="2" height="6.43" fill="#ee2a2a"/>
<line x1="218.12" y1="308.53" x2="218.12" y2="324.88" stroke="#727272" stroke-width="0.6" />
<rect x="217.12" y="312.82" width="2" height="11.26" fill="#1d8a1f"/>
<line x1="220.8" y1="299.41" x2="220.8" y2="317.11" stroke="#727272" stroke-width="0.6" />
<rect x="219.8" y="300.75" width="2" height="12.06" fill="#1d8a1f"/>
<line x1="223.47" y1="292.98" x2="223.47" y2="303.7" stroke="#727272" stroke-width="0.6" />
<rect x="222.47" y="295.39" width="2" height="5.36" fill="#1d8a1f"/>
<line x1="226.15" y1="295.39" x2="226.15" y2="310.94" stroke="#727272" stroke-width="0.6" />
<rect x="225.15" y="295.39" width="2" height="7.51" fill="#1d8a1f"/>
<line x1="228.82" y1="298.34" x2="228.82" y2="313.35" stroke="#727272" stroke-width="0.6" />
<rect x="227.82" y="302.63" width="2" height="0.6" fill="#1d8a1f"/>
<line x1="231.5" y1="285.2" x2="231.5" y2="303.7" stroke="#727272" stroke-width="0.6" />
<rect x="230.5" y="286.28" width="2" height="16.35" fill="#1d8a1f"/>
<line x1="234.17" y1="284.94" x2="234.17" y2="296.2" stroke="#727272" stroke-width="0.6" />
<rect x="233.17" y="286.28" width="2" height="2.68" fill="#1d8a1f"/>
<line x1="236.85" y1="273.94" x2="236.85" y2="290.3" stroke="#727272" stroke-width="0.6" />
<rect x="235.85" y="286.81" width="2" height="2.14" fill="#1d8a1f"/>
<line x1="239.53" y1="252.76" x2="239.53" y2="292.17" stroke="#727272" stroke-width="0.6" />
<rect x="238.53" y="255.71" width="2" height="31.1" fill="#1d8a1f"/>
<line x1="242.2" y1="221.13" x2="242.2" y2="256.25" stroke="#727272" stroke-width="0.6" />
<rect x="241.2" y="230.24" width="2" height="25.47" fill="#1d8a1f"/>
<line x1="244.88" y1="204.24" x2="244.88" y2="231.58" stroke="#727272" stroke-width="0.6" />
<rect x="243.88" y="208.53" width="2" height="21.72" fill="#1d8a1f"/>
<line x1="247.55" y1="206.11" x2="247.55" y2="227.83" stroke="#727272" stroke-width="0.6" />
<rect x="246.55" y="208.53" width="2" height="2.14" fill="#1d8a1f"/>
<line x1="250.22" y1="192.44" x2="250.22" y2="228.63" stroke="#727272" stroke-width="0.6" />
<rect x="249.22" y="200.22" width="2" height="10.46" fill="#1d8a1f"/>
<line x1="252.9" y1="188.96" x2="252.9" y2="218.71" stroke="#727272" stroke-width="0.6" />
<rect x="251.9" y="191.1" width="2" height="9.12" fill="#1d8a1f"/>
<line x1="255.57" y1="180.64" x2="255.57" y2="224.08" stroke="#727272" stroke-width="0.6" />
<rect x="254.57" y="191.1" width="2" height="24.93" fill="#ee2a2a"/>
<line x1="258.25" y1="203.43" x2="258.25" y2="223.27" stroke="#727272" stroke-width="0.6" />
<rect x="257.25" y="216.03" width="2" height="4.02" fill="#ee2a2a"/>
<line x1="260.92" y1="206.11" x2="260.92" y2="225.95" stroke="#727272" stroke-width="0.6" />
<rect x="259.92" y="207.45" width="2" height="12.6" fill="#ee2a2a"/>
<line x1="263.6" y1="195.93" x2="263.6" y2="226.76" stroke="#727272" stroke-width="0.6" />
<rect x="262.6" y="207.45" width="2" height="10.46" fill="#ee2a2a"/>
<line x1="266.27" y1="186.01" x2="266.27" y2="232.12" stroke="#727272" stroke-width="0.6" />
<rect x="265.27" y="199.68" width="2" height="18.23" fill="#1d8a1f"/>
<line x1="268.95" y1="177.43" x2="268.95" y2="204.51" stroke="#727272" stroke-width="0.6" />
<rect x="267.95" y="196.19" width="2" height="3.49" fill="#1d8a1f"/>
<line x1="271.62" y1="186.01" x2="271.62" y2="209.06" stroke="#727272" stroke-width="0.6" />
<rect x="270.62" y="196.19" width="2" height="13.14" fill="#ee2a2a"/>
<line x1="274.3" y1="196.46" x2="274.3" y2="226.76" stroke="#727272" stroke-width="0.6" />
<rect x="273.3" y="209.33" width="2" height="3.22" fill="#ee2a2a"/>
<line x1="276.97" y1="206.38" x2="276.97" y2="218.98" stroke="#727272" stroke-width="0.6" />
<rect x="275.97" y="212.55" width="2" height="1.07" fill="#ee2a2a"/>
<line x1="279.65" y1="204.51" x2="279.65" y2="220.86" stroke="#727272" stroke-width="0.6" />
<rect x="278.65" y="213.08" width="2" height="0.6" fill="#ee2a2a"/>
<line x1="282.32" y1="212.55" x2="282.32" y2="261.61" stroke="#727272" stroke-width="0.6" />
<rect x="281.32" y="213.08" width="2" height="5.36" fill="#ee2a2a"/>
<line x1="285" y1="218.18" x2="285" y2="252.76" stroke="#727272" stroke-width="0.6" />
<rect x="284" y="218.45" width="2" height="7.61" fill="#ee2a2a"/>
<circle cx="283" cy="166" r="1.7" fill="#f7a3a3"/>
<circle cx="191.3" cy="271.3" r="1.7" fill="#f7a3a3"/>
<circle cx="239.3" cy="325.5" r="1.7" fill="#8fce97"/>
<circle cx="9" cy="428" r="1.7" fill="#8fce97"/>
<g transform="translate(284.6,451.6)"><circle r="4.1" fill="none" stroke="#a032d8" stroke-width="0.75"/><path d="M0.7,-2.5 L-1.5,0.5 L-0.1,0.5 L-0.7,2.5 L1.5,-0.5 L0.1,-0.5 Z" fill="#a032d8"/><circle cx="3.1" cy="-3.2" r="0.9" fill="#f0334a"/><circle cx="-4.2" cy="1.3" r="1" fill="#7a4de8"/></g>
</g>
<text x="319.4" y="20.4" font-size="5.4" fill="#444" font-weight="normal" text-anchor="start" >USD</text>
<text x="317.4" y="446.56" font-size="6" fill="#666" font-weight="normal" text-anchor="start" >10,000</text>
<text x="317.4" y="433.15" font-size="6" fill="#666" font-weight="normal" text-anchor="start" >15,000</text>
<text x="317.4" y="419.75" font-size="6" fill="#666" font-weight="normal" text-anchor="start" >20,000</text>
<text x="317.4" y="406.34" font-size="6" fill="#666" font-weight="normal" text-anchor="start" >25,000</text>
<text x="317.4" y="392.94" font-size="6" fill="#666" font-weight="normal" text-anchor="start" >30,000</text>
<text x="317.4" y="379.53" font-size="6" fill="#666" font-weight="normal" text-anchor="start" >35,000</text>
<text x="317.4" y="366.12" font-size="6" fill="#666" font-weight="normal" text-anchor="start" >40,000</text>
<text x="317.4" y="352.72" font-size="6" fill="#666" font-weight="normal" text-anchor="start" >45,000</text>
<text x="317.4" y="339.31" font-size="6" fill="#666" font-weight="normal" text-anchor="start" >50,000</text>
<text x="317.4" y="325.91" font-size="6" fill="#666" font-weight="normal" text-anchor="start" >55,000</text>
<text x="317.4" y="312.5" font-size="6" fill="#666" font-weight="normal" text-anchor="start" >60,000</text>
<text x="317.4" y="299.1" font-size="6" fill="#666" font-weight="normal" text-anchor="start" >65,000</text>
<text x="317.4" y="285.69" font-size="6" fill="#666" font-weight="normal" text-anchor="start" >70,000</text>
<text x="317.4" y="272.29" font-size="6" fill="#666" font-weight="normal" text-anchor="start" >75,000</text>
<text x="317.4" y="258.88" font-size="6" fill="#666" font-weight="normal" text-anchor="start" >80,000</text>
<text x="317.4" y="245.48" font-size="6" fill="#666" font-weight="normal" text-anchor="start" >85,000</text>
<text x="317.4" y="232.08" font-size="6" fill="#666" font-weight="normal" text-anchor="start" >90,000</text>
<text x="317.4" y="218.67" font-size="6" fill="#666" font-weight="normal" text-anchor="start" >95,000</text>
<text x="317.4" y="205.27" font-size="6" fill="#666" font-weight="normal" text-anchor="start" >100,000</text>
<text x="317.4" y="191.86" font-size="6" fill="#666" font-weight="normal" text-anchor="start" >105,000</text>
<text x="317.4" y="178.46" font-size="6" fill="#666" font-weight="normal" text-anchor="start" >110,000</text>
<text x="317.4" y="165.05" font-size="6" fill="#666" font-weight="normal" text-anchor="start" >115,000</text>
<text x="317.4" y="151.64" font-size="6" fill="#666" font-weight="normal" text-anchor="start" >120,000</text>
<text x="317.4" y="138.24" font-size="6" fill="#666" font-weight="normal" text-anchor="start" >125,000</text>
<text x="317.4" y="124.84" font-size="6" fill="#666" font-weight="normal" text-anchor="start" >130,000</text>
<text x="317.4" y="111.43" font-size="6" fill="#666" font-weight="normal" text-anchor="start" >135,000</text>
<text x="317.4" y="98.03" font-size="6" fill="#666" font-weight="normal" text-anchor="start" >140,000</text>
<text x="317.4" y="84.62" font-size="6" fill="#666" font-weight="normal" text-anchor="start" >145,000</text>
<text x="317.4" y="71.22" font-size="6" fill="#666" font-weight="normal" text-anchor="start" >150,000</text>
<text x="317.4" y="57.81" font-size="6" fill="#666" font-weight="normal" text-anchor="start" >155,000</text>
<text x="317.4" y="44.41" font-size="6" fill="#666" font-weight="normal" text-anchor="start" >160,000</text>
<text x="317.4" y="31" font-size="6" fill="#666" font-weight="normal" text-anchor="start" >165,000</text>
<rect x="313.1" y="223" width="24.7" height="13" fill="#f40d0d"/>
<text x="317.2" y="228.6" font-size="6" fill="#fff" font-weight="bold" text-anchor="start" >91,460</text>
<text x="317.8" y="235" font-size="5.7" fill="#fff" font-weight="bold" text-anchor="start" >3d 17h</text>
<clipPath id="cr"><rect x="375.1" y="10.75" width="309.6" height="448.25"/></clipPath>
<g clip-path="url(#cr)">
<path d="M377.3,135.55 C377.75,135.14 379.08,133.12 379.97,133.1 C380.86,133.08 381.75,133.47 382.64,135.43 C383.53,137.39 384.42,142.44 385.31,144.84 C386.2,147.25 387.09,148.31 387.98,149.87 C388.87,151.44 389.76,152.29 390.65,154.23 C391.54,156.16 392.43,158.58 393.32,161.49 C394.21,164.4 395.1,168.43 395.99,171.69 C396.88,174.95 397.77,179.68 398.66,181.05 C399.55,182.42 400.44,179.86 401.33,179.92 C402.22,179.98 403.11,181.16 404,181.41 C404.89,181.66 405.78,181.1 406.67,181.42 C407.56,181.74 408.45,182.99 409.34,183.35 C410.23,183.71 411.12,183.79 412.01,183.58 C412.9,183.38 413.79,182.26 414.68,182.12 C415.57,181.98 416.46,182.73 417.35,182.75 C418.24,182.77 419.13,181.98 420.02,182.25 C420.91,182.53 421.8,183.91 422.69,184.39 C423.58,184.86 424.47,185.5 425.36,185.1 C426.25,184.69 427.14,182.64 428.03,181.95 C428.92,181.26 429.81,181.7 430.7,180.96 C431.59,180.22 432.48,178.58 433.37,177.5 C434.26,176.42 435.15,175.9 436.04,174.48 C436.93,173.06 437.82,170.75 438.71,168.96 C439.6,167.18 440.49,165.84 441.38,163.79 C442.27,161.73 443.16,157.69 444.05,156.61 C444.94,155.53 445.83,157.18 446.72,157.3 C447.61,157.41 448.5,157.23 449.39,157.32 C450.28,157.42 451.17,157.79 452.06,157.88 C452.95,157.98 453.84,157.96 454.73,157.88 C455.62,157.8 456.51,157.61 457.4,157.4 C458.29,157.19 459.18,156.73 460.07,156.6 C460.96,156.46 461.85,156.55 462.74,156.6 C463.63,156.65 464.52,156.99 465.41,156.89 C466.3,156.8 467.19,156.46 468.08,156.04 C468.97,155.61 469.86,154.61 470.75,154.36 C471.64,154.12 472.53,154.82 473.42,154.57 C474.31,154.31 475.2,153.48 476.09,152.83 C476.98,152.18 477.87,150.98 478.76,150.67 C479.65,150.35 480.54,150.79 481.43,150.92 C482.32,151.04 483.21,150.96 484.1,151.4 C484.99,151.85 485.88,152.89 486.77,153.61 C487.66,154.33 488.55,154.27 489.44,155.72 C490.33,157.17 491.22,159.34 492.11,162.3 C493,165.27 493.89,170.16 494.78,173.51 C495.67,176.87 496.56,180.47 497.45,182.43 C498.34,184.39 499.23,184.74 500.12,185.28 C501.01,185.83 501.9,185.74 502.79,185.71 C503.68,185.68 504.57,185.14 505.46,185.12 C506.35,185.1 507.24,185.53 508.13,185.6 C509.02,185.67 509.91,185.56 510.8,185.53 C511.69,185.51 512.58,185.15 513.47,185.47 C514.36,185.79 515.25,186.64 516.14,187.43 C517.03,188.22 517.92,190.52 518.81,190.2 C519.7,189.87 520.59,186.78 521.48,185.47 C522.37,184.15 523.26,184.49 524.15,182.31 C525.04,180.13 525.93,175.38 526.82,172.38 C527.71,169.39 528.6,165.95 529.49,164.35 C530.38,162.76 531.27,163.47 532.16,162.83 C533.05,162.18 533.94,162.19 534.83,160.48 C535.72,158.78 536.61,154.55 537.5,152.6 C538.39,150.66 539.28,150.04 540.17,148.81 C541.06,147.58 541.95,146.52 542.84,145.21 C543.73,143.9 544.62,142.28 545.51,140.96 C546.4,139.65 547.29,137.95 548.18,137.3 C549.07,136.66 549.96,137.27 550.85,137.09 C551.74,136.91 552.63,136.26 553.52,136.24 C554.41,136.23 555.3,136.44 556.19,137.01 C557.08,137.58 557.97,139.12 558.86,139.68 C559.75,140.24 560.64,139.65 561.53,140.37 C562.42,141.08 563.31,142.47 564.2,143.98 C565.09,145.49 565.98,147.7 566.87,149.43 C567.76,151.16 568.65,152.79 569.54,154.37 C570.43,155.95 571.32,158.6 572.21,158.93 C573.1,159.26 573.99,157.35 574.88,156.33 C575.77,155.31 576.66,153.71 577.55,152.78 C578.44,151.85 579.33,151.21 580.22,150.75 C581.11,150.29 582,150.45 582.89,150.02 C583.78,149.59 584.67,148.62 585.56,148.15 C586.45,147.68 587.34,146.66 588.23,147.2 C589.12,147.74 590.01,150.56 590.9,151.4 C591.79,152.25 592.68,151.66 593.57,152.27 C594.46,152.88 595.35,153.89 596.24,155.05 C597.13,156.21 598.02,157.66 598.91,159.23 C599.8,160.8 600.69,163.14 601.58,164.49 C602.47,165.84 603.36,166.48 604.25,167.32 C605.14,168.16 606.03,168.9 606.92,169.54 C607.81,170.18 608.7,169.9 609.59,171.16 C610.48,172.42 611.37,174.31 612.26,177.1 C613.15,179.89 614.04,184.97 614.93,187.9 C615.82,190.83 616.71,192.84 617.6,194.67 C618.49,196.5 619.38,198.13 620.27,198.89 C621.16,199.66 622.05,197.75 622.94,199.27 C623.83,200.8 624.72,207.79 625.61,208.04 C626.5,208.3 627.39,203.75 628.28,200.78 C629.17,197.8 630.06,194.54 630.95,190.18 C631.84,185.83 632.73,178.53 633.62,174.64 C634.51,170.74 635.4,169.06 636.29,166.81 C637.18,164.57 638.07,162.4 638.96,161.17 C639.85,159.93 640.74,159.37 641.63,159.38 C642.52,159.4 643.41,161.09 644.3,161.25 C645.19,161.42 646.08,160.11 646.97,160.37 C647.86,160.63 648.75,161.95 649.64,162.8 C650.53,163.65 651.42,164.38 652.31,165.45 C653.2,166.52 654.53,168.6 654.98,169.23" fill="none" stroke="#f6ecec" stroke-width="0.7" />
<path d="M377.3,184.09 C377.75,183.41 379.08,180.85 379.97,180 C380.86,179.15 381.75,178.45 382.64,179 C383.53,179.54 384.42,182.23 385.31,183.28 C386.2,184.32 387.09,184.72 387.98,185.25 C388.87,185.78 389.76,185.72 390.65,186.46 C391.54,187.2 392.43,188.3 393.32,189.68 C394.21,191.06 395.1,193.07 395.99,194.73 C396.88,196.38 397.77,199.05 398.66,199.62 C399.55,200.18 400.44,198.33 401.33,198.14 C402.22,197.95 403.11,198.5 404,198.47 C404.89,198.45 405.78,198.04 406.67,198.02 C407.56,197.99 408.45,198.35 409.34,198.34 C410.23,198.34 411.12,198.34 412.01,197.99 C412.9,197.64 413.79,196.61 414.68,196.25 C415.57,195.89 416.46,196.1 417.35,195.83 C418.24,195.56 419.13,194.64 420.02,194.6 C420.91,194.56 421.8,195.39 422.69,195.6 C423.58,195.81 424.47,196.22 425.36,195.88 C426.25,195.54 427.14,194.05 428.03,193.54 C428.92,193.03 429.81,193.36 430.7,192.8 C431.59,192.24 432.48,191 433.37,190.18 C434.26,189.36 435.15,189.04 436.04,187.88 C436.93,186.72 437.82,184.78 438.71,183.23 C439.6,181.67 440.49,180.29 441.38,178.57 C442.27,176.86 443.16,173.86 444.05,172.93 C444.94,172 445.83,172.98 446.72,172.99 C447.61,173 448.5,172.96 449.39,173 C450.28,173.05 451.17,173.22 452.06,173.26 C452.95,173.3 453.84,173.3 454.73,173.26 C455.62,173.21 456.51,173.11 457.4,172.99 C458.29,172.87 459.18,172.61 460.07,172.54 C460.96,172.46 461.85,172.53 462.74,172.53 C463.63,172.52 464.52,172.56 465.41,172.52 C466.3,172.48 467.19,172.43 468.08,172.28 C468.97,172.13 469.86,171.63 470.75,171.63 C471.64,171.62 472.53,172.3 473.42,172.26 C474.31,172.22 475.2,171.73 476.09,171.4 C476.98,171.08 477.87,170.34 478.76,170.28 C479.65,170.23 480.54,170.82 481.43,171.09 C482.32,171.35 483.21,171.43 484.1,171.87 C484.99,172.31 485.88,173.13 486.77,173.72 C487.66,174.31 488.55,174.3 489.44,175.39 C490.33,176.49 491.22,178.14 492.11,180.31 C493,182.49 493.89,186.04 494.78,188.44 C495.67,190.84 496.56,193.3 497.45,194.71 C498.34,196.11 499.23,196.44 500.12,196.89 C501.01,197.33 501.9,197.29 502.79,197.37 C503.68,197.46 504.57,197.32 505.46,197.42 C506.35,197.52 507.24,197.86 508.13,197.95 C509.02,198.04 509.91,197.96 510.8,197.96 C511.69,197.96 512.58,197.68 513.47,197.95 C514.36,198.23 515.25,198.99 516.14,199.61 C517.03,200.23 517.92,201.94 518.81,201.69 C519.7,201.45 520.59,199.16 521.48,198.14 C522.37,197.12 523.26,197.22 524.15,195.56 C525.04,193.9 525.93,190.47 526.82,188.2 C527.71,185.93 528.6,183.27 529.49,181.94 C530.38,180.61 531.27,180.87 532.16,180.2 C533.05,179.53 533.94,179.33 534.83,177.91 C535.72,176.49 536.61,173.24 537.5,171.69 C538.39,170.13 539.28,169.58 540.17,168.58 C541.06,167.58 541.95,166.74 542.84,165.7 C543.73,164.65 544.62,163.37 545.51,162.31 C546.4,161.25 547.29,159.86 548.18,159.34 C549.07,158.81 549.96,159.37 550.85,159.17 C551.74,158.98 552.63,158.34 553.52,158.17 C554.41,158 555.3,158.01 556.19,158.15 C557.08,158.29 557.97,158.92 558.86,158.99 C559.75,159.07 560.64,158.38 561.53,158.6 C562.42,158.83 563.31,159.54 564.2,160.35 C565.09,161.16 565.98,162.44 566.87,163.47 C567.76,164.49 568.65,165.55 569.54,166.49 C570.43,167.44 571.32,168.95 572.21,169.14 C573.1,169.33 573.99,168.23 574.88,167.63 C575.77,167.03 576.66,166.01 577.55,165.55 C578.44,165.08 579.33,164.92 580.22,164.83 C581.11,164.75 582,165.13 582.89,165.02 C583.78,164.92 584.67,164.35 585.56,164.19 C586.45,164.03 587.34,163.48 588.23,164.04 C589.12,164.61 590.01,166.78 590.9,167.58 C591.79,168.37 592.68,168.22 593.57,168.82 C594.46,169.43 595.35,170.21 596.24,171.19 C597.13,172.16 598.02,173.4 598.91,174.67 C599.8,175.93 600.69,177.71 601.58,178.78 C602.47,179.85 603.36,180.38 604.25,181.09 C605.14,181.81 606.03,182.49 606.92,183.08 C607.81,183.67 608.7,183.6 609.59,184.63 C610.48,185.66 611.37,187.18 612.26,189.27 C613.15,191.36 614.04,195.04 614.93,197.16 C615.82,199.28 616.71,200.67 617.6,202.02 C618.49,203.36 619.38,204.62 620.27,205.22 C621.16,205.81 622.05,204.46 622.94,205.56 C623.83,206.67 624.72,211.51 625.61,211.83 C626.5,212.16 627.39,209.3 628.28,207.52 C629.17,205.74 630.06,203.75 630.95,201.14 C631.84,198.52 632.73,194.08 633.62,191.83 C634.51,189.58 635.4,188.77 636.29,187.61 C637.18,186.45 638.07,185.38 638.96,184.87 C639.85,184.36 640.74,184.37 641.63,184.57 C642.52,184.77 643.41,185.79 644.3,186.08 C645.19,186.37 646.08,185.84 646.97,186.3 C647.86,186.76 648.75,188.02 649.64,188.82 C650.53,189.62 651.42,190.21 652.31,191.09 C653.2,191.98 654.53,193.62 654.98,194.13" fill="none" stroke="#f0f0f0" stroke-width="0.7" />
<path d="M377.3,232.63 C377.75,231.68 379.08,228.58 379.97,226.9 C380.86,225.23 381.75,223.43 382.64,222.57 C383.53,221.7 384.42,222.03 385.31,221.71 C386.2,221.38 387.09,221.13 387.98,220.62 C388.87,220.12 389.76,219.15 390.65,218.69 C391.54,218.23 392.43,218.03 393.32,217.87 C394.21,217.72 395.1,217.72 395.99,217.77 C396.88,217.82 397.77,218.41 398.66,218.18 C399.55,217.95 400.44,216.8 401.33,216.36 C402.22,215.92 403.11,215.83 404,215.54 C404.89,215.25 405.78,214.98 406.67,214.61 C407.56,214.25 408.45,213.71 409.34,213.34 C410.23,212.97 411.12,212.9 412.01,212.4 C412.9,211.91 413.79,210.96 414.68,210.37 C415.57,209.79 416.46,209.48 417.35,208.91 C418.24,208.34 419.13,207.3 420.02,206.95 C420.91,206.6 421.8,206.86 422.69,206.81 C423.58,206.76 424.47,206.94 425.36,206.66 C426.25,206.38 427.14,205.47 428.03,205.14 C428.92,204.8 429.81,205.02 430.7,204.64 C431.59,204.26 432.48,203.42 433.37,202.86 C434.26,202.3 435.15,202.17 436.04,201.28 C436.93,200.38 437.82,198.81 438.71,197.49 C439.6,196.17 440.49,194.73 441.38,193.36 C442.27,191.98 443.16,190.02 444.05,189.24 C444.94,188.46 445.83,188.78 446.72,188.69 C447.61,188.6 448.5,188.69 449.39,188.68 C450.28,188.67 451.17,188.64 452.06,188.63 C452.95,188.62 453.84,188.64 454.73,188.63 C455.62,188.62 456.51,188.6 457.4,188.57 C458.29,188.55 459.18,188.49 460.07,188.47 C460.96,188.45 461.85,188.51 462.74,188.46 C463.63,188.4 464.52,188.14 465.41,188.15 C466.3,188.16 467.19,188.4 468.08,188.52 C468.97,188.65 469.86,188.66 470.75,188.9 C471.64,189.13 472.53,189.77 473.42,189.95 C474.31,190.13 475.2,189.99 476.09,189.98 C476.98,189.97 477.87,189.69 478.76,189.9 C479.65,190.11 480.54,190.85 481.43,191.25 C482.32,191.66 483.21,191.9 484.1,192.33 C484.99,192.76 485.88,193.37 486.77,193.83 C487.66,194.28 488.55,194.32 489.44,195.07 C490.33,195.82 491.22,196.94 492.11,198.32 C493,199.71 493.89,201.92 494.78,203.37 C495.67,204.81 496.56,206.13 497.45,206.98 C498.34,207.84 499.23,208.15 500.12,208.49 C501.01,208.83 501.9,208.83 502.79,209.04 C503.68,209.25 504.57,209.51 505.46,209.72 C506.35,209.94 507.24,210.2 508.13,210.31 C509.02,210.42 509.91,210.37 510.8,210.39 C511.69,210.41 512.58,210.2 513.47,210.43 C514.36,210.67 515.25,211.33 516.14,211.79 C517.03,212.25 517.92,213.35 518.81,213.19 C519.7,213.02 520.59,211.54 521.48,210.81 C522.37,210.08 523.26,209.95 524.15,208.81 C525.04,207.68 525.93,205.56 526.82,204.01 C527.71,202.47 528.6,200.6 529.49,199.53 C530.38,198.45 531.27,198.28 532.16,197.58 C533.05,196.88 533.94,196.47 534.83,195.34 C535.72,194.2 536.61,191.93 537.5,190.77 C538.39,189.6 539.28,189.11 540.17,188.35 C541.06,187.59 541.95,186.97 542.84,186.19 C543.73,185.4 544.62,184.46 545.51,183.66 C546.4,182.86 547.29,181.77 548.18,181.37 C549.07,180.97 549.96,181.47 550.85,181.25 C551.74,181.04 552.63,180.41 553.52,180.09 C554.41,179.76 555.3,179.59 556.19,179.29 C557.08,179 557.97,178.71 558.86,178.31 C559.75,177.9 560.64,177.1 561.53,176.84 C562.42,176.58 563.31,176.61 564.2,176.72 C565.09,176.83 565.98,177.19 566.87,177.51 C567.76,177.82 568.65,178.31 569.54,178.62 C570.43,178.93 571.32,179.29 572.21,179.35 C573.1,179.4 573.99,179.11 574.88,178.94 C575.77,178.76 576.66,178.31 577.55,178.31 C578.44,178.31 579.33,178.63 580.22,178.92 C581.11,179.21 582,179.81 582.89,180.02 C583.78,180.24 584.67,180.09 585.56,180.23 C586.45,180.37 587.34,180.29 588.23,180.88 C589.12,181.47 590.01,183 590.9,183.75 C591.79,184.5 592.68,184.78 593.57,185.38 C594.46,185.97 595.35,186.54 596.24,187.32 C597.13,188.11 598.02,189.15 598.91,190.1 C599.8,191.06 600.69,192.28 601.58,193.08 C602.47,193.87 603.36,194.28 604.25,194.87 C605.14,195.46 606.03,196.08 606.92,196.62 C607.81,197.16 608.7,197.29 609.59,198.09 C610.48,198.9 611.37,200.06 612.26,201.44 C613.15,202.83 614.04,205.1 614.93,206.42 C615.82,207.74 616.71,208.51 617.6,209.37 C618.49,210.22 619.38,211.12 620.27,211.54 C621.16,211.95 622.05,211.17 622.94,211.85 C623.83,212.53 624.72,215.22 625.61,215.62 C626.5,216.02 627.39,214.85 628.28,214.27 C629.17,213.68 630.06,212.96 630.95,212.09 C631.84,211.22 632.73,209.64 633.62,209.02 C634.51,208.41 635.4,208.48 636.29,208.41 C637.18,208.33 638.07,208.35 638.96,208.57 C639.85,208.8 640.74,209.37 641.63,209.75 C642.52,210.14 643.41,210.49 644.3,210.9 C645.19,211.32 646.08,211.58 646.97,212.23 C647.86,212.89 648.75,214.09 649.64,214.84 C650.53,215.59 651.42,216.04 652.31,216.74 C653.2,217.44 654.53,218.64 654.98,219.02" fill="none" stroke="#f5efef" stroke-width="0.7" />
<path d="M377.3,329.71 C377.75,328.21 379.08,324.04 379.97,320.7 C380.86,317.37 381.75,313.39 382.64,309.7 C383.53,306.01 384.42,301.62 385.31,298.57 C386.2,295.52 387.09,293.94 387.98,291.37 C388.87,288.8 389.76,286 390.65,283.15 C391.54,280.3 392.43,277.48 393.32,274.26 C394.21,271.04 395.1,267.01 395.99,263.85 C396.88,260.69 397.77,257.15 398.66,255.31 C399.55,253.47 400.44,253.75 401.33,252.81 C402.22,251.87 403.11,250.5 404,249.67 C404.89,248.84 405.78,248.86 406.67,247.8 C407.56,246.75 408.45,244.43 409.34,243.33 C410.23,242.24 411.12,242.01 412.01,241.22 C412.9,240.44 413.79,239.66 414.68,238.63 C415.57,237.6 416.46,236.23 417.35,235.07 C418.24,233.9 419.13,232.61 420.02,231.64 C420.91,230.67 421.8,229.81 422.69,229.24 C423.58,228.67 424.47,228.37 425.36,228.22 C426.25,228.07 427.14,228.31 428.03,228.32 C428.92,228.34 429.81,228.33 430.7,228.32 C431.59,228.3 432.48,228.26 433.37,228.22 C434.26,228.18 435.15,228.44 436.04,228.07 C436.93,227.7 437.82,226.87 438.71,226.01 C439.6,225.16 440.49,223.62 441.38,222.93 C442.27,222.24 443.16,222.34 444.05,221.87 C444.94,221.39 445.83,220.39 446.72,220.08 C447.61,219.78 448.5,220.16 449.39,220.04 C450.28,219.92 451.17,219.49 452.06,219.38 C452.95,219.27 453.84,219.32 454.73,219.38 C455.62,219.44 456.51,219.58 457.4,219.74 C458.29,219.9 459.18,220.25 460.07,220.35 C460.96,220.44 461.85,220.47 462.74,220.31 C463.63,220.16 464.52,219.29 465.41,219.4 C466.3,219.52 467.19,220.34 468.08,221.01 C468.97,221.68 469.86,222.71 470.75,223.43 C471.64,224.15 472.53,224.71 473.42,225.33 C474.31,225.94 475.2,226.49 476.09,227.12 C476.98,227.76 477.87,228.39 478.76,229.13 C479.65,229.88 480.54,230.9 481.43,231.59 C482.32,232.28 483.21,232.85 484.1,233.26 C484.99,233.67 485.88,233.85 486.77,234.04 C487.66,234.24 488.55,234.38 489.44,234.43 C490.33,234.48 491.22,234.55 492.11,234.35 C493,234.15 493.89,233.69 494.78,233.22 C495.67,232.75 496.56,231.79 497.45,231.53 C498.34,231.28 499.23,231.56 500.12,231.7 C501.01,231.84 501.9,231.93 502.79,232.37 C503.68,232.81 504.57,233.89 505.46,234.33 C506.35,234.77 507.24,234.86 508.13,235.01 C509.02,235.17 509.91,235.18 510.8,235.24 C511.69,235.3 512.58,235.25 513.47,235.4 C514.36,235.55 515.25,236.02 516.14,236.15 C517.03,236.28 517.92,236.17 518.81,236.17 C519.7,236.18 520.59,236.3 521.48,236.16 C522.37,236.02 523.26,235.4 524.15,235.32 C525.04,235.23 525.93,235.75 526.82,235.64 C527.71,235.54 528.6,235.25 529.49,234.7 C530.38,234.14 531.27,233.08 532.16,232.33 C533.05,231.58 533.94,230.76 534.83,230.2 C535.72,229.63 536.61,229.31 537.5,228.93 C538.39,228.54 539.28,228.18 540.17,227.89 C541.06,227.59 541.95,227.41 542.84,227.16 C543.73,226.9 544.62,226.64 545.51,226.36 C546.4,226.07 547.29,225.6 548.18,225.44 C549.07,225.29 549.96,225.66 550.85,225.41 C551.74,225.16 552.63,224.57 553.52,223.93 C554.41,223.29 555.3,222.75 556.19,221.58 C557.08,220.41 557.97,218.3 558.86,216.93 C559.75,215.55 560.64,214.56 561.53,213.31 C562.42,212.07 563.31,210.75 564.2,209.47 C565.09,208.18 565.98,206.68 566.87,205.59 C567.76,204.49 568.65,203.84 569.54,202.87 C570.43,201.9 571.32,199.98 572.21,199.76 C573.1,199.54 573.99,200.86 574.88,201.54 C575.77,202.22 576.66,202.92 577.55,203.84 C578.44,204.77 579.33,206.06 580.22,207.09 C581.11,208.12 582,209.16 582.89,210.03 C583.78,210.9 584.67,211.56 585.56,212.31 C586.45,213.07 587.34,213.92 588.23,214.56 C589.12,215.19 590.01,215.45 590.9,216.1 C591.79,216.76 592.68,217.91 593.57,218.49 C594.46,219.07 595.35,219.18 596.24,219.59 C597.13,220.01 598.02,220.63 598.91,220.98 C599.8,221.32 600.69,221.42 601.58,221.66 C602.47,221.9 603.36,222.07 604.25,222.41 C605.14,222.75 606.03,223.27 606.92,223.71 C607.81,224.14 608.7,224.68 609.59,225.03 C610.48,225.38 611.37,225.81 612.26,225.79 C613.15,225.78 614.04,225.22 614.93,224.93 C615.82,224.65 616.71,224.19 617.6,224.07 C618.49,223.94 619.38,224.12 620.27,224.18 C621.16,224.24 622.05,224.59 622.94,224.43 C623.83,224.26 624.72,222.64 625.61,223.2 C626.5,223.75 627.39,225.95 628.28,227.75 C629.17,229.55 630.06,231.39 630.95,233.99 C631.84,236.6 632.73,240.74 633.62,243.41 C634.51,246.08 635.4,247.9 636.29,250 C637.18,252.09 638.07,254.29 638.96,255.98 C639.85,257.67 640.74,259.37 641.63,260.13 C642.52,260.89 643.41,259.89 644.3,260.55 C645.19,261.22 646.08,263.05 646.97,264.1 C647.86,265.15 648.75,266.23 649.64,266.88 C650.53,267.53 651.42,267.71 652.31,268.03 C653.2,268.35 654.53,268.68 654.98,268.81" fill="none" stroke="#f5efef" stroke-width="0.7" />
<path d="M377.3,378.25 C377.75,376.48 379.08,371.77 379.97,367.61 C380.86,363.44 381.75,358.37 382.64,353.27 C383.53,348.17 384.42,341.42 385.31,337 C386.2,332.58 387.09,330.35 387.98,326.75 C388.87,323.14 389.76,319.43 390.65,315.38 C391.54,311.33 392.43,307.2 393.32,302.45 C394.21,297.71 395.1,291.65 395.99,286.89 C396.88,282.13 397.77,276.52 398.66,273.87 C399.55,271.23 400.44,272.22 401.33,271.03 C402.22,269.84 403.11,267.84 404,266.74 C404.89,265.63 405.78,265.8 406.67,264.4 C407.56,263 408.45,259.79 409.34,258.33 C410.23,256.87 411.12,256.56 412.01,255.63 C412.9,254.7 413.79,254.01 414.68,252.76 C415.57,251.51 416.46,249.61 417.35,248.15 C418.24,246.68 419.13,245.27 420.02,243.99 C420.91,242.71 421.8,241.28 422.69,240.45 C423.58,239.62 424.47,239.09 425.36,239 C426.25,238.91 427.14,239.73 428.03,239.92 C428.92,240.11 429.81,239.99 430.7,240.16 C431.59,240.32 432.48,240.68 433.37,240.9 C434.26,241.11 435.15,241.57 436.04,241.47 C436.93,241.36 437.82,240.9 438.71,240.28 C439.6,239.65 440.49,238.07 441.38,237.72 C442.27,237.37 443.16,238.51 444.05,238.18 C444.94,237.86 445.83,236.19 446.72,235.78 C447.61,235.37 448.5,235.89 449.39,235.72 C450.28,235.55 451.17,234.91 452.06,234.75 C452.95,234.59 453.84,234.66 454.73,234.75 C455.62,234.85 456.51,235.07 457.4,235.33 C458.29,235.58 459.18,236.13 460.07,236.29 C460.96,236.44 461.85,236.45 462.74,236.24 C463.63,236.03 464.52,234.86 465.41,235.03 C466.3,235.2 467.19,236.31 468.08,237.25 C468.97,238.2 469.86,239.74 470.75,240.7 C471.64,241.66 472.53,242.18 473.42,243.02 C474.31,243.85 475.2,244.74 476.09,245.7 C476.98,246.65 477.87,247.74 478.76,248.75 C479.65,249.76 480.54,250.93 481.43,251.76 C482.32,252.59 483.21,253.32 484.1,253.72 C484.99,254.12 485.88,254.09 486.77,254.15 C487.66,254.22 488.55,254.4 489.44,254.1 C490.33,253.8 491.22,253.35 492.11,252.36 C493,251.37 493.89,249.57 494.78,248.14 C495.67,246.72 496.56,244.61 497.45,243.81 C498.34,243 499.23,243.27 500.12,243.3 C501.01,243.34 501.9,243.48 502.79,244.04 C503.68,244.59 504.57,246.07 505.46,246.63 C506.35,247.19 507.24,247.19 508.13,247.37 C509.02,247.54 509.91,247.58 510.8,247.67 C511.69,247.75 512.58,247.77 513.47,247.88 C514.36,247.99 515.25,248.36 516.14,248.33 C517.03,248.29 517.92,247.58 518.81,247.67 C519.7,247.75 520.59,248.68 521.48,248.83 C522.37,248.98 523.26,248.13 524.15,248.57 C525.04,249.01 525.93,250.84 526.82,251.46 C527.71,252.08 528.6,252.58 529.49,252.28 C530.38,251.99 531.27,250.48 532.16,249.7 C533.05,248.92 533.94,247.91 534.83,247.62 C535.72,247.34 536.61,248 537.5,248.01 C538.39,248.01 539.28,247.72 540.17,247.66 C541.06,247.6 541.95,247.64 542.84,247.64 C543.73,247.65 544.62,247.73 545.51,247.7 C546.4,247.68 547.29,247.51 548.18,247.48 C549.07,247.44 549.96,247.76 550.85,247.49 C551.74,247.22 552.63,246.65 553.52,245.86 C554.41,245.06 555.3,244.32 556.19,242.72 C557.08,241.12 557.97,238.1 558.86,236.24 C559.75,234.38 560.64,233.28 561.53,231.55 C562.42,229.82 563.31,227.83 564.2,225.84 C565.09,223.85 565.98,221.43 566.87,219.63 C567.76,217.82 568.65,216.61 569.54,215 C570.43,213.39 571.32,210.32 572.21,209.97 C573.1,209.61 573.99,211.74 574.88,212.84 C575.77,213.95 576.66,215.22 577.55,216.61 C578.44,218 579.33,219.78 580.22,221.18 C581.11,222.58 582,223.83 582.89,225.03 C583.78,226.22 584.67,227.29 585.56,228.35 C586.45,229.41 587.34,230.74 588.23,231.4 C589.12,232.05 590.01,231.67 590.9,232.28 C591.79,232.89 592.68,234.47 593.57,235.05 C594.46,235.62 595.35,235.5 596.24,235.73 C597.13,235.96 598.02,236.38 598.91,236.41 C599.8,236.45 600.69,236 601.58,235.96 C602.47,235.92 603.36,235.97 604.25,236.19 C605.14,236.4 606.03,236.86 606.92,237.25 C607.81,237.63 608.7,238.37 609.59,238.49 C610.48,238.61 611.37,238.68 612.26,237.97 C613.15,237.25 614.04,235.28 614.93,234.19 C615.82,233.1 616.71,232.03 617.6,231.42 C618.49,230.8 619.38,230.62 620.27,230.5 C621.16,230.39 622.05,231.3 622.94,230.72 C623.83,230.13 624.72,226.36 625.61,226.99 C626.5,227.62 627.39,231.5 628.28,234.5 C629.17,237.49 630.06,240.6 630.95,244.95 C631.84,249.3 632.73,256.3 633.62,260.6 C634.51,264.91 635.4,267.61 636.29,270.79 C637.18,273.97 638.07,277.26 638.96,279.68 C639.85,282.1 640.74,284.37 641.63,285.32 C642.52,286.27 643.41,284.59 644.3,285.38 C645.19,286.17 646.08,288.78 646.97,290.03 C647.86,291.29 648.75,292.29 649.64,292.9 C650.53,293.51 651.42,293.54 652.31,293.67 C653.2,293.81 654.53,293.7 654.98,293.71" fill="none" stroke="#f0f0f0" stroke-width="0.7" />
<path d="M377.3,426.79 C377.75,424.74 379.08,419.5 379.97,414.51 C380.86,409.51 381.75,403.35 382.64,396.83 C383.53,390.32 384.42,381.22 385.31,375.43 C386.2,369.65 387.09,366.76 387.98,362.12 C388.87,357.49 389.76,352.85 390.65,347.61 C391.54,342.36 392.43,336.93 393.32,330.65 C394.21,324.37 395.1,316.3 395.99,309.93 C396.88,303.56 397.77,295.88 398.66,292.44 C399.55,288.99 400.44,290.7 401.33,289.26 C402.22,287.82 403.11,285.18 404,283.8 C404.89,282.42 405.78,282.74 406.67,281 C407.56,279.25 408.45,275.15 409.34,273.33 C410.23,271.5 411.12,271.12 412.01,270.04 C412.9,268.97 413.79,268.36 414.68,266.89 C415.57,265.42 416.46,262.98 417.35,261.22 C418.24,259.47 419.13,257.93 420.02,256.34 C420.91,254.74 421.8,252.76 422.69,251.67 C423.58,250.57 424.47,249.81 425.36,249.78 C426.25,249.76 427.14,251.15 428.03,251.51 C428.92,251.88 429.81,251.65 430.7,252 C431.59,252.34 432.48,253.1 433.37,253.58 C434.26,254.05 435.15,254.7 436.04,254.86 C436.93,255.02 437.82,254.93 438.71,254.54 C439.6,254.15 440.49,252.51 441.38,252.5 C442.27,252.5 443.16,254.67 444.05,254.5 C444.94,254.33 445.83,251.99 446.72,251.48 C447.61,250.96 448.5,251.62 449.39,251.4 C450.28,251.17 451.17,250.34 452.06,250.13 C452.95,249.91 453.84,249.99 454.73,250.13 C455.62,250.26 456.51,250.56 457.4,250.91 C458.29,251.26 459.18,252.01 460.07,252.22 C460.96,252.43 461.85,252.43 462.74,252.17 C463.63,251.91 464.52,250.44 465.41,250.66 C466.3,250.88 467.19,252.28 468.08,253.5 C468.97,254.72 469.86,256.77 470.75,257.97 C471.64,259.17 472.53,259.65 473.42,260.7 C474.31,261.76 475.2,262.99 476.09,264.27 C476.98,265.55 477.87,267.09 478.76,268.37 C479.65,269.64 480.54,270.96 481.43,271.93 C482.32,272.89 483.21,273.79 484.1,274.18 C484.99,274.57 485.88,274.33 486.77,274.26 C487.66,274.2 488.55,274.43 489.44,273.78 C490.33,273.13 491.22,272.16 492.11,270.37 C493,268.59 493.89,265.45 494.78,263.07 C495.67,260.69 496.56,257.44 497.45,256.08 C498.34,254.72 499.23,254.97 500.12,254.91 C501.01,254.85 501.9,255.03 502.79,255.7 C503.68,256.37 504.57,258.26 505.46,258.93 C506.35,259.6 507.24,259.53 508.13,259.72 C509.02,259.91 509.91,259.99 510.8,260.09 C511.69,260.2 512.58,260.29 513.47,260.36 C514.36,260.43 515.25,260.71 516.14,260.51 C517.03,260.31 517.92,259 518.81,259.16 C519.7,259.33 520.59,261.06 521.48,261.5 C522.37,261.95 523.26,260.86 524.15,261.82 C525.04,262.78 525.93,265.93 526.82,267.27 C527.71,268.61 528.6,269.9 529.49,269.87 C530.38,269.84 531.27,267.88 532.16,267.07 C533.05,266.27 533.94,265.05 534.83,265.05 C535.72,265.06 536.61,266.69 537.5,267.09 C538.39,267.48 539.28,267.25 540.17,267.43 C541.06,267.6 541.95,267.86 542.84,268.13 C543.73,268.4 544.62,268.82 545.51,269.05 C546.4,269.28 547.29,269.43 548.18,269.51 C549.07,269.6 549.96,269.86 550.85,269.57 C551.74,269.28 552.63,268.73 553.52,267.78 C554.41,266.83 555.3,265.9 556.19,263.86 C557.08,261.82 557.97,257.89 558.86,255.55 C559.75,253.2 560.64,252.01 561.53,249.79 C562.42,247.56 563.31,244.9 564.2,242.21 C565.09,239.52 565.98,236.18 566.87,233.66 C567.76,231.15 568.65,229.37 569.54,227.12 C570.43,224.87 571.32,220.67 572.21,220.17 C573.1,219.68 573.99,222.61 574.88,224.15 C575.77,225.68 576.66,227.52 577.55,229.37 C578.44,231.22 579.33,233.49 580.22,235.27 C581.11,237.04 582,238.51 582.89,240.03 C583.78,241.55 584.67,243.02 585.56,244.39 C586.45,245.76 587.34,247.56 588.23,248.23 C589.12,248.91 590.01,247.89 590.9,248.45 C591.79,249.02 592.68,251.03 593.57,251.6 C594.46,252.17 595.35,251.82 596.24,251.86 C597.13,251.91 598.02,252.12 598.91,251.85 C599.8,251.58 600.69,250.57 601.58,250.25 C602.47,249.94 603.36,249.87 604.25,249.96 C605.14,250.05 606.03,250.46 606.92,250.79 C607.81,251.13 608.7,252.07 609.59,251.96 C610.48,251.85 611.37,251.56 612.26,250.14 C613.15,248.72 614.04,245.35 614.93,243.45 C615.82,241.55 616.71,239.87 617.6,238.77 C618.49,237.66 619.38,237.12 620.27,236.83 C621.16,236.53 622.05,238.01 622.94,237.01 C623.83,236 624.72,230.07 625.61,230.77 C626.5,231.48 627.39,237.06 628.28,241.24 C629.17,245.43 630.06,249.81 630.95,255.9 C631.84,261.99 632.73,271.85 633.62,277.8 C634.51,283.74 635.4,287.33 636.29,291.59 C637.18,295.85 638.07,300.23 638.96,303.38 C639.85,306.54 640.74,309.37 641.63,310.5 C642.52,311.64 643.41,309.29 644.3,310.2 C645.19,311.11 646.08,314.51 646.97,315.97 C647.86,317.42 648.75,318.36 649.64,318.92 C650.53,319.48 651.42,319.37 652.31,319.32 C653.2,319.27 654.53,318.72 654.98,318.6" fill="none" stroke="#f6ecec" stroke-width="0.7" />
<rect x="375.1" y="161" width="0.8" height="1.3" fill="#d3eed9"/>
<rect x="375.9" y="161" width="0.59" height="1.3" fill="#fbd5d8"/>
<rect x="375.1" y="162.8" width="2.24" height="1.3" fill="#d3eed9"/>
<rect x="377.34" y="162.8" width="1.54" height="1.3" fill="#fbd5d8"/>
<rect x="375.1" y="164.6" width="3.68" height="1.3" fill="#d3eed9"/>
<rect x="378.78" y="164.6" width="3.05" height="1.3" fill="#fbd5d8"/>
<rect x="375.1" y="166.4" width="5.4" height="1.3" fill="#d3eed9"/>
<rect x="380.5" y="166.4" width="3.12" height="1.3" fill="#fbd5d8"/>
<rect x="375.1" y="168.2" width="7.2" height="1.3" fill="#d3eed9"/>
<rect x="382.3" y="168.2" width="5.75" height="1.3" fill="#fbd5d8"/>
<rect x="375.1" y="170" width="9" height="1.3" fill="#d3eed9"/>
<rect x="384.1" y="170" width="7.83" height="1.3" fill="#fbd5d8"/>
<rect x="375.1" y="171.8" width="11.31" height="1.3" fill="#d3eed9"/>
<rect x="386.41" y="171.8" width="8.68" height="1.3" fill="#fbd5d8"/>
<rect x="375.1" y="173.6" width="13.63" height="1.3" fill="#d3eed9"/>
<rect x="388.73" y="173.6" width="13.2" height="1.3" fill="#fbd5d8"/>
<rect x="375.1" y="175.4" width="15.94" height="1.3" fill="#d3eed9"/>
<rect x="391.04" y="175.4" width="13.87" height="1.3" fill="#fbd5d8"/>
<rect x="375.1" y="177.2" width="18.06" height="1.3" fill="#d3eed9"/>
<rect x="393.16" y="177.2" width="18.52" height="1.3" fill="#fbd5d8"/>
<rect x="375.1" y="179" width="18.57" height="1.3" fill="#d3eed9"/>
<rect x="393.67" y="179" width="15.62" height="1.3" fill="#fbd5d8"/>
<rect x="375.1" y="180.8" width="19.09" height="1.3" fill="#d3eed9"/>
<rect x="394.19" y="180.8" width="14.98" height="1.3" fill="#fbd5d8"/>
<rect x="375.1" y="182.6" width="19.6" height="1.3" fill="#d3eed9"/>
<rect x="394.7" y="182.6" width="16.16" height="1.3" fill="#fbd5d8"/>
<rect x="375.1" y="184.4" width="20.07" height="1.3" fill="#d3eed9"/>
<rect x="395.17" y="184.4" width="17.14" height="1.3" fill="#fbd5d8"/>
<rect x="375.1" y="186.2" width="20.37" height="1.3" fill="#d3eed9"/>
<rect x="395.47" y="186.2" width="10.16" height="1.3" fill="#fbd5d8"/>
<rect x="375.1" y="188" width="20.67" height="1.3" fill="#86cb92"/>
<rect x="395.77" y="188" width="7.62" height="1.3" fill="#f59393"/>
<rect x="375.1" y="189.8" width="20.97" height="1.3" fill="#86cb92"/>
<rect x="396.07" y="189.8" width="5.97" height="1.3" fill="#f59393"/>
<rect x="375.1" y="191.6" width="19.55" height="1.3" fill="#86cb92"/>
<rect x="394.65" y="191.6" width="4.89" height="1.3" fill="#f59393"/>
<rect x="375.1" y="193.4" width="16.52" height="1.3" fill="#86cb92"/>
<rect x="391.62" y="193.4" width="4.13" height="1.3" fill="#f59393"/>
<rect x="375.1" y="195.2" width="17.47" height="1.3" fill="#86cb92"/>
<rect x="392.57" y="195.2" width="4.37" height="1.3" fill="#f59393"/>
<rect x="375.1" y="197" width="18" height="1.3" fill="#86cb92"/>
<rect x="393.1" y="197" width="7.83" height="1.3" fill="#f59393"/>
<rect x="375.1" y="198.8" width="16.2" height="1.3" fill="#86cb92"/>
<rect x="391.3" y="198.8" width="7.31" height="1.3" fill="#f59393"/>
<rect x="375.1" y="200.6" width="14.4" height="1.3" fill="#86cb92"/>
<rect x="389.5" y="200.6" width="13.83" height="1.3" fill="#f59393"/>
<rect x="375.1" y="202.4" width="18.2" height="1.3" fill="#86cb92"/>
<rect x="393.3" y="202.4" width="10.33" height="1.3" fill="#f59393"/>
<rect x="375.1" y="204.2" width="24.2" height="1.3" fill="#86cb92"/>
<rect x="399.3" y="204.2" width="6.7" height="1.3" fill="#f59393"/>
<rect x="375.1" y="206" width="27.04" height="1.3" fill="#86cb92"/>
<rect x="402.14" y="206" width="6.76" height="1.3" fill="#f59393"/>
<rect x="375.1" y="207.8" width="32.11" height="1.3" fill="#86cb92"/>
<rect x="407.21" y="207.8" width="8.03" height="1.3" fill="#f59393"/>
<rect x="375.1" y="209.6" width="34.29" height="1.3" fill="#86cb92"/>
<rect x="409.39" y="209.6" width="14.88" height="1.3" fill="#f59393"/>
<rect x="375.1" y="211.4" width="34.49" height="1.3" fill="#86cb92"/>
<rect x="409.59" y="211.4" width="18.76" height="1.3" fill="#f59393"/>
<rect x="375.1" y="213.2" width="34.69" height="1.3" fill="#86cb92"/>
<rect x="409.79" y="213.2" width="32.74" height="1.3" fill="#f59393"/>
<rect x="375.1" y="215" width="34.89" height="1.3" fill="#86cb92"/>
<rect x="409.99" y="215" width="43.82" height="1.3" fill="#f59393"/>
<rect x="375.1" y="216.8" width="34.33" height="1.3" fill="#86cb92"/>
<rect x="409.43" y="216.8" width="44.97" height="1.3" fill="#f59393"/>
<rect x="375.1" y="218.6" width="32.83" height="1.3" fill="#86cb92"/>
<rect x="407.93" y="218.6" width="52.74" height="1.3" fill="#f59393"/>
<rect x="375.1" y="220.4" width="31.33" height="1.3" fill="#86cb92"/>
<rect x="406.43" y="220.4" width="51.4" height="1.3" fill="#f59393"/>
<rect x="375.1" y="222.2" width="29.83" height="1.3" fill="#86cb92"/>
<rect x="404.93" y="222.2" width="56.87" height="1.3" fill="#f59393"/>
<rect x="375.1" y="224" width="28.33" height="1.3" fill="#86cb92"/>
<rect x="403.43" y="224" width="64.67" height="1.3" fill="#f59393"/>
<rect x="375.1" y="225.8" width="26.83" height="1.3" fill="#86cb92"/>
<rect x="401.93" y="225.8" width="71.94" height="1.3" fill="#f59393"/>
<rect x="375.1" y="227.6" width="25.33" height="1.3" fill="#86cb92"/>
<rect x="400.43" y="227.6" width="60.66" height="1.3" fill="#f59393"/>
<rect x="375.1" y="229.4" width="23.6" height="1.3" fill="#86cb92"/>
<rect x="398.7" y="229.4" width="47.33" height="1.3" fill="#f59393"/>
<rect x="375.1" y="231.2" width="21.8" height="1.3" fill="#86cb92"/>
<rect x="396.9" y="231.2" width="39.83" height="1.3" fill="#f59393"/>
<rect x="375.1" y="233" width="20" height="1.3" fill="#86cb92"/>
<rect x="395.1" y="233" width="29.63" height="1.3" fill="#f59393"/>
<rect x="375.1" y="234.8" width="18.2" height="1.3" fill="#86cb92"/>
<rect x="393.3" y="234.8" width="19.74" height="1.3" fill="#f59393"/>
<rect x="375.1" y="236.6" width="16.72" height="1.3" fill="#86cb92"/>
<rect x="391.82" y="236.6" width="19.38" height="1.3" fill="#f59393"/>
<rect x="375.1" y="238.4" width="15.28" height="1.3" fill="#86cb92"/>
<rect x="390.38" y="238.4" width="16.21" height="1.3" fill="#f59393"/>
<rect x="375.1" y="240.2" width="13.83" height="1.3" fill="#d3eed9"/>
<rect x="388.93" y="240.2" width="11.71" height="1.3" fill="#fbd5d8"/>
<rect x="375.1" y="242" width="12.29" height="1.3" fill="#d3eed9"/>
<rect x="387.39" y="242" width="11.28" height="1.3" fill="#fbd5d8"/>
<rect x="375.1" y="243.8" width="10.74" height="1.3" fill="#d3eed9"/>
<rect x="385.84" y="243.8" width="9.28" height="1.3" fill="#fbd5d8"/>
<rect x="375.1" y="245.6" width="9.2" height="1.3" fill="#d3eed9"/>
<rect x="384.3" y="245.6" width="8.4" height="1.3" fill="#fbd5d8"/>
<rect x="375.1" y="247.4" width="7.84" height="1.3" fill="#d3eed9"/>
<rect x="382.94" y="247.4" width="6.51" height="1.3" fill="#fbd5d8"/>
<rect x="375.1" y="249.2" width="7.12" height="1.3" fill="#d3eed9"/>
<rect x="382.22" y="249.2" width="5.55" height="1.3" fill="#fbd5d8"/>
<rect x="375.1" y="251" width="6.4" height="1.3" fill="#d3eed9"/>
<rect x="381.5" y="251" width="6.95" height="1.3" fill="#fbd5d8"/>
<rect x="375.1" y="252.8" width="5.9" height="1.3" fill="#d3eed9"/>
<rect x="381" y="252.8" width="5.18" height="1.3" fill="#fbd5d8"/>
<rect x="375.1" y="254.6" width="5.67" height="1.3" fill="#d3eed9"/>
<rect x="380.77" y="254.6" width="5.53" height="1.3" fill="#fbd5d8"/>
<rect x="375.1" y="256.4" width="5.45" height="1.3" fill="#d3eed9"/>
<rect x="380.55" y="256.4" width="5.9" height="1.3" fill="#fbd5d8"/>
<rect x="375.1" y="258.2" width="5.22" height="1.3" fill="#d3eed9"/>
<rect x="380.32" y="258.2" width="4.64" height="1.3" fill="#fbd5d8"/>
<rect x="375.1" y="260" width="5" height="1.3" fill="#d3eed9"/>
<rect x="380.1" y="260" width="4.98" height="1.3" fill="#fbd5d8"/>
<rect x="375.1" y="261.8" width="4.9" height="1.3" fill="#d3eed9"/>
<rect x="380" y="261.8" width="4.17" height="1.3" fill="#fbd5d8"/>
<rect x="375.1" y="263.6" width="4.79" height="1.3" fill="#d3eed9"/>
<rect x="379.89" y="263.6" width="5.05" height="1.3" fill="#fbd5d8"/>
<rect x="375.1" y="265.4" width="4.69" height="1.3" fill="#d3eed9"/>
<rect x="379.79" y="265.4" width="5.09" height="1.3" fill="#fbd5d8"/>
<rect x="375.1" y="267.2" width="4.58" height="1.3" fill="#d3eed9"/>
<rect x="379.68" y="267.2" width="4.69" height="1.3" fill="#fbd5d8"/>
<rect x="375.1" y="269" width="4.48" height="1.3" fill="#d3eed9"/>
<rect x="379.58" y="269" width="5.02" height="1.3" fill="#fbd5d8"/>
<rect x="375.1" y="270.8" width="4.38" height="1.3" fill="#d3eed9"/>
<rect x="379.48" y="270.8" width="4.12" height="1.3" fill="#fbd5d8"/>
<rect x="375.1" y="272.6" width="4.27" height="1.3" fill="#d3eed9"/>
<rect x="379.37" y="272.6" width="4.54" height="1.3" fill="#fbd5d8"/>
<rect x="375.1" y="274.4" width="4.17" height="1.3" fill="#d3eed9"/>
<rect x="379.27" y="274.4" width="4.3" height="1.3" fill="#fbd5d8"/>
<rect x="375.1" y="276.2" width="4.07" height="1.3" fill="#d3eed9"/>
<rect x="379.17" y="276.2" width="4.17" height="1.3" fill="#fbd5d8"/>
<rect x="375.1" y="278" width="3.96" height="1.3" fill="#d3eed9"/>
<rect x="379.06" y="278" width="3.91" height="1.3" fill="#fbd5d8"/>
<rect x="375.1" y="279.8" width="3.86" height="1.3" fill="#d3eed9"/>
<rect x="378.96" y="279.8" width="4.28" height="1.3" fill="#fbd5d8"/>
<rect x="375.1" y="281.6" width="3.75" height="1.3" fill="#d3eed9"/>
<rect x="378.85" y="281.6" width="4.29" height="1.3" fill="#fbd5d8"/>
<rect x="375.1" y="283.4" width="3.65" height="1.3" fill="#d3eed9"/>
<rect x="378.75" y="283.4" width="3.62" height="1.3" fill="#fbd5d8"/>
<rect x="375.1" y="285.2" width="3.55" height="1.3" fill="#d3eed9"/>
<rect x="378.65" y="285.2" width="3.73" height="1.3" fill="#fbd5d8"/>
<rect x="375.1" y="287" width="3.42" height="1.3" fill="#d3eed9"/>
<rect x="378.52" y="287" width="2.94" height="1.3" fill="#fbd5d8"/>
<rect x="375.1" y="288.8" width="3.27" height="1.3" fill="#d3eed9"/>
<rect x="378.37" y="288.8" width="3.48" height="1.3" fill="#fbd5d8"/>
<rect x="375.1" y="290.6" width="3.12" height="1.3" fill="#d3eed9"/>
<rect x="378.22" y="290.6" width="3.26" height="1.3" fill="#fbd5d8"/>
<rect x="375.1" y="292.4" width="2.97" height="1.3" fill="#d3eed9"/>
<rect x="378.07" y="292.4" width="3.43" height="1.3" fill="#fbd5d8"/>
<rect x="375.1" y="294.2" width="2.82" height="1.3" fill="#d3eed9"/>
<rect x="377.92" y="294.2" width="3.11" height="1.3" fill="#fbd5d8"/>
<rect x="375.1" y="296" width="2.67" height="1.3" fill="#d3eed9"/>
<rect x="377.77" y="296" width="2.48" height="1.3" fill="#fbd5d8"/>
<rect x="375.1" y="297.8" width="2.52" height="1.3" fill="#d3eed9"/>
<rect x="377.62" y="297.8" width="2.42" height="1.3" fill="#fbd5d8"/>
<rect x="375.1" y="299.6" width="2.37" height="1.3" fill="#d3eed9"/>
<rect x="377.47" y="299.6" width="2.49" height="1.3" fill="#fbd5d8"/>
<rect x="375.1" y="301.4" width="2.22" height="1.3" fill="#d3eed9"/>
<rect x="377.32" y="301.4" width="1.88" height="1.3" fill="#fbd5d8"/>
<rect x="375.1" y="303.2" width="2.07" height="1.3" fill="#d3eed9"/>
<rect x="377.17" y="303.2" width="2.04" height="1.3" fill="#fbd5d8"/>
<rect x="375.1" y="305" width="1.95" height="1.3" fill="#d3eed9"/>
<rect x="377.05" y="305" width="1.74" height="1.3" fill="#fbd5d8"/>
<rect x="375.1" y="306.8" width="1.85" height="1.3" fill="#d3eed9"/>
<rect x="376.95" y="306.8" width="1.62" height="1.3" fill="#fbd5d8"/>
<rect x="375.1" y="308.6" width="1.75" height="1.3" fill="#d3eed9"/>
<rect x="376.85" y="308.6" width="1.5" height="1.3" fill="#fbd5d8"/>
<rect x="375.1" y="310.4" width="1.65" height="1.3" fill="#d3eed9"/>
<rect x="376.75" y="310.4" width="1.8" height="1.3" fill="#fbd5d8"/>
<rect x="375.1" y="312.2" width="1.56" height="1.3" fill="#d3eed9"/>
<rect x="376.66" y="312.2" width="1.37" height="1.3" fill="#fbd5d8"/>
<rect x="375.1" y="314" width="1.46" height="1.3" fill="#d3eed9"/>
<rect x="376.56" y="314" width="1.34" height="1.3" fill="#fbd5d8"/>
<rect x="375.1" y="315.8" width="1.36" height="1.3" fill="#d3eed9"/>
<rect x="376.46" y="315.8" width="1.31" height="1.3" fill="#fbd5d8"/>
<rect x="375.1" y="317.6" width="1.26" height="1.3" fill="#d3eed9"/>
<rect x="376.36" y="317.6" width="1.41" height="1.3" fill="#fbd5d8"/>
<rect x="375.1" y="319.4" width="1.17" height="1.3" fill="#d3eed9"/>
<rect x="376.27" y="319.4" width="1.01" height="1.3" fill="#fbd5d8"/>
<rect x="375.1" y="321.2" width="1.07" height="1.3" fill="#d3eed9"/>
<rect x="376.17" y="321.2" width="1.05" height="1.3" fill="#fbd5d8"/>
<rect x="375.1" y="323" width="0.97" height="1.3" fill="#d3eed9"/>
<rect x="376.07" y="323" width="0.99" height="1.3" fill="#fbd5d8"/>
<rect x="375.1" y="324.8" width="0.87" height="1.3" fill="#d3eed9"/>
<rect x="375.97" y="324.8" width="0.98" height="1.3" fill="#fbd5d8"/>
<rect x="375.1" y="326.6" width="0.78" height="1.3" fill="#d3eed9"/>
<rect x="375.88" y="326.6" width="0.86" height="1.3" fill="#fbd5d8"/>
<rect x="375.1" y="328.4" width="0.63" height="1.3" fill="#d3eed9"/>
<rect x="375.73" y="328.4" width="0.7" height="1.3" fill="#fbd5d8"/>
<rect x="375.1" y="330.2" width="0.31" height="1.3" fill="#d3eed9"/>
<rect x="375.41" y="330.2" width="0.29" height="1.3" fill="#fbd5d8"/>
<line x1="535" y1="156" x2="684.7" y2="241.33" stroke="#dedede" stroke-width="0.8" />
<line x1="535" y1="206" x2="684.7" y2="291.33" stroke="#dedede" stroke-width="0.8" />
<line x1="535" y1="255" x2="684.7" y2="340.33" stroke="#dedede" stroke-width="0.8" />
<line x1="375.1" y1="187.5" x2="684.7" y2="187.5" stroke="#ee6b6b" stroke-width="0.9" stroke-dasharray="1 1.9"/>
<rect x="375.1" y="192.8" width="309.6" height="4" fill="#e1f2e3"/>
<line x1="375.1" y1="194.8" x2="684.7" y2="194.8" stroke="#56b15e" stroke-width="1.7" />
<rect x="375.1" y="221.6" width="309.6" height="4" fill="#fcdede"/>
<line x1="375.1" y1="223.5" x2="684.7" y2="223.5" stroke="#ee3b3b" stroke-width="1.2" />
<line x1="620.5" y1="226.3" x2="684.7" y2="226.3" stroke="#f6a3a3" stroke-width="1.4" />
<line x1="375.1" y1="237.5" x2="684.7" y2="237.5" stroke="#a9a9a9" stroke-width="0.9" stroke-dasharray="1 1.9"/>
<line x1="375.1" y1="246.5" x2="684.7" y2="246.5" stroke="#c9dccb" stroke-width="0.8" stroke-dasharray="1 1.5"/>
<line x1="643" y1="84.5" x2="684.7" y2="84.5" stroke="#bdbdbd" stroke-width="0.6" />
<text x="636" y="86.96" font-size="6" fill="#b7b7b7" font-weight="normal" text-anchor="end" >R3 (123,208)</text>
<line x1="643" y1="136.5" x2="684.7" y2="136.5" stroke="#bdbdbd" stroke-width="0.6" />
<text x="636" y="138.92" font-size="6" fill="#b7b7b7" font-weight="normal" text-anchor="end" >R2 (112,981)</text>
<line x1="656.5" y1="209.5" x2="684.7" y2="209.5" stroke="#bdbdbd" stroke-width="0.6" />
<text x="636" y="211.71" font-size="6" fill="#b7b7b7" font-weight="normal" text-anchor="end" >R1 (98,651)</text>
<line x1="622" y1="261.5" x2="684.7" y2="261.5" stroke="#bdbdbd" stroke-width="0.6" />
<text x="636" y="263.67" font-size="6" fill="#b7b7b7" font-weight="normal" text-anchor="end" >P (88,424)</text>
<line x1="643" y1="334.5" x2="684.7" y2="334.5" stroke="#bdbdbd" stroke-width="0.6" />
<text x="636" y="336.46" font-size="6" fill="#b7b7b7" font-weight="normal" text-anchor="end" >S1 (74,094)</text>
<line x1="643" y1="386.5" x2="684.7" y2="386.5" stroke="#bdbdbd" stroke-width="0.6" />
<text x="636" y="388.42" font-size="6" fill="#b7b7b7" font-weight="normal" text-anchor="end" >S2 (63,867)</text>
<polygon points="655.2,203 652.5,204.5 645,211 637,217 630,221 630,224 633,228 633.5,252 636,262 640,272 645,282 650,289 650,313 655.2,313.5" fill="#e8e8e8" opacity="0.85"/>
<line x1="620" y1="321.5" x2="684.7" y2="321.5" stroke="#c9c9c9" stroke-width="0.8" />
<line x1="620" y1="347.5" x2="684.7" y2="347.5" stroke="#bdbdbd" stroke-width="0.9" />
<line x1="620" y1="381.5" x2="684.7" y2="381.5" stroke="#6dbb75" stroke-width="1.2" />
<line x1="620" y1="428.5" x2="684.7" y2="428.5" stroke="#4fae58" stroke-width="1.8" />
<line x1="377.3" y1="204.79" x2="377.3" y2="217.49" stroke="#727272" stroke-width="0.6" />
<rect x="376.3" y="207.84" width="2" height="3.56" fill="#1d8a1f"/>
<line x1="379.97" y1="207.84" x2="379.97" y2="217.49" stroke="#727272" stroke-width="0.6" />
<rect x="378.97" y="207.84" width="2" height="6.6" fill="#1d8a1f"/>
<line x1="382.64" y1="209.87" x2="382.64" y2="224.6" stroke="#727272" stroke-width="0.6" />
<rect x="381.64" y="212.92" width="2" height="1.52" fill="#1d8a1f"/>
<line x1="385.31" y1="208.35" x2="385.31" y2="240.35" stroke="#727272" stroke-width="0.6" />
<rect x="384.31" y="212.92" width="2" height="25.4" fill="#ee2a2a"/>
<line x1="387.98" y1="228.67" x2="387.98" y2="249.5" stroke="#727272" stroke-width="0.6" />
<rect x="386.98" y="238.32" width="2" height="5.59" fill="#ee2a2a"/>
<line x1="390.65" y1="216.98" x2="390.65" y2="244.42" stroke="#727272" stroke-width="0.6" />
<rect x="389.65" y="223.59" width="2" height="20.32" fill="#1d8a1f"/>
<line x1="393.32" y1="220.03" x2="393.32" y2="230.19" stroke="#727272" stroke-width="0.6" />
<rect x="392.32" y="223.59" width="2" height="1.52" fill="#1d8a1f"/>
<line x1="395.99" y1="209.87" x2="395.99" y2="226.13" stroke="#727272" stroke-width="0.6" />
<rect x="394.99" y="215.97" width="2" height="9.14" fill="#1d8a1f"/>
<line x1="398.66" y1="215.46" x2="398.66" y2="222.57" stroke="#727272" stroke-width="0.6" />
<rect x="397.66" y="215.97" width="2" height="5.08" fill="#1d8a1f"/>
<line x1="401.33" y1="213.43" x2="401.33" y2="224.6" stroke="#727272" stroke-width="0.6" />
<rect x="400.33" y="216.98" width="2" height="4.06" fill="#1d8a1f"/>
<line x1="404" y1="212.41" x2="404" y2="231.21" stroke="#727272" stroke-width="0.6" />
<rect x="403" y="216.98" width="2" height="7.11" fill="#ee2a2a"/>
<line x1="406.67" y1="221.56" x2="406.67" y2="235.27" stroke="#727272" stroke-width="0.6" />
<rect x="405.67" y="223.59" width="2" height="0.6" fill="#ee2a2a"/>
<line x1="409.34" y1="207.84" x2="409.34" y2="230.19" stroke="#727272" stroke-width="0.6" />
<rect x="408.34" y="209.87" width="2" height="13.72" fill="#1d8a1f"/>
<line x1="412.01" y1="182.44" x2="412.01" y2="251.02" stroke="#727272" stroke-width="0.6" />
<rect x="411.01" y="209.87" width="2" height="8.13" fill="#1d8a1f"/>
<line x1="414.68" y1="192.6" x2="414.68" y2="221.05" stroke="#727272" stroke-width="0.6" />
<rect x="413.68" y="204.28" width="2" height="13.72" fill="#1d8a1f"/>
<line x1="417.35" y1="200.73" x2="417.35" y2="207.84" stroke="#727272" stroke-width="0.6" />
<rect x="416.35" y="203.78" width="2" height="0.6" fill="#1d8a1f"/>
<line x1="420.02" y1="196.16" x2="420.02" y2="209.36" stroke="#727272" stroke-width="0.6" />
<rect x="419.02" y="197.17" width="2" height="6.6" fill="#1d8a1f"/>
<line x1="422.69" y1="196.66" x2="422.69" y2="232.22" stroke="#727272" stroke-width="0.6" />
<rect x="421.69" y="197.17" width="2" height="19.3" fill="#ee2a2a"/>
<line x1="425.36" y1="211.4" x2="425.36" y2="231.72" stroke="#727272" stroke-width="0.6" />
<rect x="424.36" y="216.48" width="2" height="3.56" fill="#ee2a2a"/>
<line x1="428.03" y1="193.11" x2="428.03" y2="224.6" stroke="#727272" stroke-width="0.6" />
<rect x="427.03" y="197.17" width="2" height="22.86" fill="#1d8a1f"/>
<line x1="430.7" y1="190.06" x2="430.7" y2="206.32" stroke="#727272" stroke-width="0.6" />
<rect x="429.7" y="197.17" width="2" height="5.59" fill="#1d8a1f"/>
<line x1="433.37" y1="193.11" x2="433.37" y2="206.82" stroke="#727272" stroke-width="0.6" />
<rect x="432.37" y="195.65" width="2" height="7.11" fill="#1d8a1f"/>
<line x1="436.04" y1="189.55" x2="436.04" y2="199.71" stroke="#727272" stroke-width="0.6" />
<rect x="435.04" y="195.65" width="2" height="0.6" fill="#1d8a1f"/>
<line x1="438.71" y1="176.85" x2="438.71" y2="196.66" stroke="#727272" stroke-width="0.6" />
<rect x="437.71" y="179.9" width="2" height="15.75" fill="#1d8a1f"/>
<line x1="441.38" y1="163.14" x2="441.38" y2="186" stroke="#727272" stroke-width="0.6" />
<rect x="440.38" y="171.77" width="2" height="8.13" fill="#1d8a1f"/>
<line x1="444.05" y1="160.09" x2="444.05" y2="175.84" stroke="#727272" stroke-width="0.6" />
<rect x="443.05" y="171.77" width="2" height="0.6" fill="#1d8a1f"/>
<line x1="446.72" y1="169.74" x2="446.72" y2="202.76" stroke="#727272" stroke-width="0.6" />
<rect x="445.72" y="171.77" width="2" height="29.97" fill="#ee2a2a"/>
<line x1="449.39" y1="188.54" x2="449.39" y2="224.6" stroke="#727272" stroke-width="0.6" />
<rect x="448.39" y="201.74" width="2" height="13.72" fill="#ee2a2a"/>
<line x1="452.06" y1="211.9" x2="452.06" y2="242.38" stroke="#727272" stroke-width="0.6" />
<rect x="451.06" y="213.94" width="2" height="1.52" fill="#ee2a2a"/>
<line x1="454.73" y1="205.3" x2="454.73" y2="221.05" stroke="#727272" stroke-width="0.6" />
<rect x="453.73" y="213.94" width="2" height="3.05" fill="#ee2a2a"/>
<line x1="457.4" y1="215.97" x2="457.4" y2="232.22" stroke="#727272" stroke-width="0.6" />
<rect x="456.4" y="216.98" width="2" height="10.16" fill="#ee2a2a"/>
<line x1="460.07" y1="220.54" x2="460.07" y2="240.86" stroke="#727272" stroke-width="0.6" />
<rect x="459.07" y="227.14" width="2" height="1.52" fill="#ee2a2a"/>
<line x1="462.74" y1="205.3" x2="462.74" y2="235.78" stroke="#727272" stroke-width="0.6" />
<rect x="461.74" y="209.36" width="2" height="19.3" fill="#1d8a1f"/>
<line x1="465.41" y1="204.79" x2="465.41" y2="214.95" stroke="#727272" stroke-width="0.6" />
<rect x="464.41" y="205.81" width="2" height="3.56" fill="#1d8a1f"/>
<line x1="468.08" y1="203.27" x2="468.08" y2="227.14" stroke="#727272" stroke-width="0.6" />
<rect x="467.08" y="205.81" width="2" height="18.29" fill="#ee2a2a"/>
<line x1="470.75" y1="215.46" x2="470.75" y2="235.78" stroke="#727272" stroke-width="0.6" />
<rect x="469.75" y="224.1" width="2" height="7.62" fill="#ee2a2a"/>
<line x1="473.42" y1="224.6" x2="473.42" y2="232.73" stroke="#727272" stroke-width="0.6" />
<rect x="472.42" y="226.64" width="2" height="5.08" fill="#ee2a2a"/>
<line x1="476.09" y1="226.64" x2="476.09" y2="238.32" stroke="#727272" stroke-width="0.6" />
<rect x="475.09" y="226.64" width="2" height="8.13" fill="#ee2a2a"/>
<line x1="478.76" y1="228.16" x2="478.76" y2="245.94" stroke="#727272" stroke-width="0.6" />
<rect x="477.76" y="234.76" width="2" height="4.57" fill="#ee2a2a"/>
<line x1="481.43" y1="221.56" x2="481.43" y2="243.4" stroke="#727272" stroke-width="0.6" />
<rect x="480.43" y="235.27" width="2" height="4.06" fill="#ee2a2a"/>
<line x1="484.1" y1="227.14" x2="484.1" y2="238.83" stroke="#727272" stroke-width="0.6" />
<rect x="483.1" y="230.19" width="2" height="5.08" fill="#1d8a1f"/>
<line x1="486.77" y1="213.94" x2="486.77" y2="232.22" stroke="#727272" stroke-width="0.6" />
<rect x="485.77" y="218.51" width="2" height="11.68" fill="#1d8a1f"/>
<line x1="489.44" y1="208.35" x2="489.44" y2="222.57" stroke="#727272" stroke-width="0.6" />
<rect x="488.44" y="211.9" width="2" height="6.6" fill="#1d8a1f"/>
<line x1="492.11" y1="208.86" x2="492.11" y2="215.46" stroke="#727272" stroke-width="0.6" />
<rect x="491.11" y="211.65" width="2" height="0.6" fill="#1d8a1f"/>
<line x1="494.78" y1="208.35" x2="494.78" y2="216.48" stroke="#727272" stroke-width="0.6" />
<rect x="493.78" y="210.89" width="2" height="0.76" fill="#1d8a1f"/>
<line x1="497.45" y1="190.06" x2="497.45" y2="213.43" stroke="#727272" stroke-width="0.6" />
<rect x="496.45" y="191.08" width="2" height="19.81" fill="#1d8a1f"/>
<line x1="500.12" y1="189.04" x2="500.12" y2="222.57" stroke="#727272" stroke-width="0.6" />
<rect x="499.12" y="191.08" width="2" height="27.43" fill="#ee2a2a"/>
<line x1="502.79" y1="216.48" x2="502.79" y2="240.86" stroke="#727272" stroke-width="0.6" />
<rect x="501.79" y="218.51" width="2" height="9.14" fill="#ee2a2a"/>
<line x1="505.46" y1="226.13" x2="505.46" y2="247.46" stroke="#727272" stroke-width="0.6" />
<rect x="504.46" y="227.65" width="2" height="12.7" fill="#ee2a2a"/>
<line x1="508.13" y1="223.59" x2="508.13" y2="242.38" stroke="#727272" stroke-width="0.6" />
<rect x="507.13" y="229.68" width="2" height="10.67" fill="#ee2a2a"/>
<line x1="510.8" y1="228.16" x2="510.8" y2="234.26" stroke="#727272" stroke-width="0.6" />
<rect x="509.8" y="229.68" width="2" height="0.6" fill="#ee2a2a"/>
<line x1="513.47" y1="226.13" x2="513.47" y2="234.76" stroke="#727272" stroke-width="0.6" />
<rect x="512.47" y="230.19" width="2" height="0.6" fill="#1d8a1f"/>
<line x1="516.14" y1="223.59" x2="516.14" y2="257.62" stroke="#727272" stroke-width="0.6" />
<rect x="515.14" y="230.45" width="2" height="0.6" fill="#1d8a1f"/>
<line x1="518.81" y1="215.97" x2="518.81" y2="231.72" stroke="#727272" stroke-width="0.6" />
<rect x="517.81" y="220.03" width="2" height="10.41" fill="#1d8a1f"/>
<line x1="521.48" y1="199.2" x2="521.48" y2="220.54" stroke="#727272" stroke-width="0.6" />
<rect x="520.48" y="200.22" width="2" height="19.81" fill="#1d8a1f"/>
<line x1="524.15" y1="198.19" x2="524.15" y2="216.48" stroke="#727272" stroke-width="0.6" />
<rect x="523.15" y="200.22" width="2" height="3.05" fill="#1d8a1f"/>
<line x1="526.82" y1="172.79" x2="526.82" y2="203.27" stroke="#727272" stroke-width="0.6" />
<rect x="525.82" y="181.93" width="2" height="21.34" fill="#1d8a1f"/>
<line x1="529.49" y1="177.87" x2="529.49" y2="191.58" stroke="#727272" stroke-width="0.6" />
<rect x="528.49" y="180.41" width="2" height="1.52" fill="#1d8a1f"/>
<line x1="532.16" y1="170.25" x2="532.16" y2="204.79" stroke="#727272" stroke-width="0.6" />
<rect x="531.16" y="180.41" width="2" height="15.75" fill="#ee2a2a"/>
<line x1="534.83" y1="153.99" x2="534.83" y2="205.3" stroke="#727272" stroke-width="0.6" />
<rect x="533.83" y="191.58" width="2" height="4.57" fill="#ee2a2a"/>
<line x1="537.5" y1="166.18" x2="537.5" y2="202.25" stroke="#727272" stroke-width="0.6" />
<rect x="536.5" y="171.77" width="2" height="19.81" fill="#1d8a1f"/>
<line x1="540.17" y1="170.25" x2="540.17" y2="186" stroke="#727272" stroke-width="0.6" />
<rect x="539.17" y="171.77" width="2" height="12.19" fill="#1d8a1f"/>
<line x1="542.84" y1="168.22" x2="542.84" y2="196.66" stroke="#727272" stroke-width="0.6" />
<rect x="541.84" y="182.95" width="2" height="1.02" fill="#1d8a1f"/>
<line x1="545.51" y1="166.69" x2="545.51" y2="189.04" stroke="#727272" stroke-width="0.6" />
<rect x="544.51" y="178.38" width="2" height="4.57" fill="#1d8a1f"/>
<line x1="548.18" y1="175.84" x2="548.18" y2="181.93" stroke="#727272" stroke-width="0.6" />
<rect x="547.18" y="178.38" width="2" height="0.6" fill="#1d8a1f"/>
<line x1="550.85" y1="174.82" x2="550.85" y2="190.06" stroke="#727272" stroke-width="0.6" />
<rect x="549.85" y="178.88" width="2" height="10.67" fill="#ee2a2a"/>
<line x1="553.52" y1="186.5" x2="553.52" y2="213.94" stroke="#727272" stroke-width="0.6" />
<rect x="552.52" y="189.55" width="2" height="2.54" fill="#ee2a2a"/>
<line x1="556.19" y1="183.46" x2="556.19" y2="201.74" stroke="#727272" stroke-width="0.6" />
<rect x="555.19" y="192.09" width="2" height="4.06" fill="#ee2a2a"/>
<line x1="558.86" y1="178.38" x2="558.86" y2="196.16" stroke="#727272" stroke-width="0.6" />
<rect x="557.86" y="183.96" width="2" height="12.19" fill="#1d8a1f"/>
<line x1="561.53" y1="170.25" x2="561.53" y2="186" stroke="#727272" stroke-width="0.6" />
<rect x="560.53" y="178.88" width="2" height="5.08" fill="#1d8a1f"/>
<line x1="564.2" y1="172.28" x2="564.2" y2="195.14" stroke="#727272" stroke-width="0.6" />
<rect x="563.2" y="178.88" width="2" height="11.68" fill="#ee2a2a"/>
<line x1="566.87" y1="188.54" x2="566.87" y2="201.24" stroke="#727272" stroke-width="0.6" />
<rect x="565.87" y="190.57" width="2" height="9.14" fill="#ee2a2a"/>
<line x1="569.54" y1="195.65" x2="569.54" y2="222.06" stroke="#727272" stroke-width="0.6" />
<rect x="568.54" y="199.71" width="2" height="14.73" fill="#ee2a2a"/>
<line x1="572.21" y1="190.06" x2="572.21" y2="247.46" stroke="#727272" stroke-width="0.6" />
<rect x="571.21" y="196.16" width="2" height="18.29" fill="#1d8a1f"/>
<line x1="574.88" y1="194.12" x2="574.88" y2="222.06" stroke="#727272" stroke-width="0.6" />
<rect x="573.88" y="196.16" width="2" height="17.78" fill="#ee2a2a"/>
<line x1="577.55" y1="207.33" x2="577.55" y2="222.06" stroke="#727272" stroke-width="0.6" />
<rect x="576.55" y="213.94" width="2" height="6.1" fill="#ee2a2a"/>
<line x1="580.22" y1="207.33" x2="580.22" y2="224.6" stroke="#727272" stroke-width="0.6" />
<rect x="579.22" y="220.03" width="2" height="0.6" fill="#ee2a2a"/>
<line x1="582.89" y1="202.25" x2="582.89" y2="225.11" stroke="#727272" stroke-width="0.6" />
<rect x="581.89" y="220.54" width="2" height="0.6" fill="#ee2a2a"/>
<line x1="585.56" y1="218.51" x2="585.56" y2="224.6" stroke="#727272" stroke-width="0.6" />
<rect x="584.56" y="220.79" width="2" height="0.6" fill="#ee2a2a"/>
<line x1="588.23" y1="216.48" x2="588.23" y2="229.68" stroke="#727272" stroke-width="0.6" />
<rect x="587.23" y="220.54" width="2" height="0.6" fill="#1d8a1f"/>
<line x1="590.9" y1="211.4" x2="590.9" y2="226.64" stroke="#727272" stroke-width="0.6" />
<rect x="589.9" y="215.97" width="2" height="4.57" fill="#1d8a1f"/>
<line x1="593.57" y1="210.38" x2="593.57" y2="228.67" stroke="#727272" stroke-width="0.6" />
<rect x="592.57" y="215.97" width="2" height="8.13" fill="#ee2a2a"/>
<line x1="596.24" y1="212.41" x2="596.24" y2="232.73" stroke="#727272" stroke-width="0.6" />
<rect x="595.24" y="213.43" width="2" height="10.67" fill="#1d8a1f"/>
<line x1="598.91" y1="212.41" x2="598.91" y2="227.14" stroke="#727272" stroke-width="0.6" />
<rect x="597.91" y="213.43" width="2" height="6.6" fill="#ee2a2a"/>
<line x1="601.58" y1="208.86" x2="601.58" y2="221.56" stroke="#727272" stroke-width="0.6" />
<rect x="600.58" y="215.46" width="2" height="4.57" fill="#1d8a1f"/>
<line x1="604.25" y1="213.43" x2="604.25" y2="216.98" stroke="#727272" stroke-width="0.6" />
<rect x="603.25" y="214.95" width="2" height="0.6" fill="#1d8a1f"/>
<line x1="606.92" y1="214.44" x2="606.92" y2="223.08" stroke="#727272" stroke-width="0.6" />
<rect x="605.92" y="214.95" width="2" height="7.62" fill="#ee2a2a"/>
<line x1="609.59" y1="218" x2="609.59" y2="227.14" stroke="#727272" stroke-width="0.6" />
<rect x="608.59" y="222.57" width="2" height="1.52" fill="#ee2a2a"/>
<line x1="612.26" y1="219.52" x2="612.26" y2="236.29" stroke="#727272" stroke-width="0.6" />
<rect x="611.26" y="224.1" width="2" height="1.02" fill="#ee2a2a"/>
<line x1="614.93" y1="218.51" x2="614.93" y2="228.16" stroke="#727272" stroke-width="0.6" />
<rect x="613.93" y="220.03" width="2" height="5.08" fill="#1d8a1f"/>
<line x1="617.6" y1="208.86" x2="617.6" y2="221.05" stroke="#727272" stroke-width="0.6" />
<rect x="616.6" y="211.4" width="2" height="8.64" fill="#1d8a1f"/>
<line x1="620.27" y1="205.3" x2="620.27" y2="228.67" stroke="#727272" stroke-width="0.6" />
<rect x="619.27" y="211.4" width="2" height="11.18" fill="#ee2a2a"/>
<line x1="622.94" y1="218.51" x2="622.94" y2="224.1" stroke="#727272" stroke-width="0.6" />
<rect x="621.94" y="220.03" width="2" height="2.54" fill="#ee2a2a"/>
<line x1="625.61" y1="219.52" x2="625.61" y2="226.64" stroke="#727272" stroke-width="0.6" />
<rect x="624.61" y="220.03" width="2" height="1.52" fill="#ee2a2a"/>
<line x1="628.28" y1="220.54" x2="628.28" y2="246.96" stroke="#727272" stroke-width="0.6" />
<rect x="627.28" y="221.56" width="2" height="24.38" fill="#ee2a2a"/>
<line x1="630.95" y1="240.86" x2="630.95" y2="273.88" stroke="#727272" stroke-width="0.6" />
<rect x="629.95" y="245.94" width="2" height="14.73" fill="#ee2a2a"/>
<line x1="633.62" y1="256.61" x2="633.62" y2="293.18" stroke="#727272" stroke-width="0.6" />
<rect x="632.62" y="260.67" width="2" height="23.37" fill="#ee2a2a"/>
<line x1="636.29" y1="268.29" x2="636.29" y2="290.64" stroke="#727272" stroke-width="0.6" />
<rect x="635.29" y="280.48" width="2" height="3.56" fill="#ee2a2a"/>
<line x1="638.96" y1="278.45" x2="638.96" y2="313.5" stroke="#727272" stroke-width="0.6" />
<rect x="637.96" y="280.48" width="2" height="2.03" fill="#ee2a2a"/>
<line x1="641.63" y1="270.83" x2="641.63" y2="285.06" stroke="#727272" stroke-width="0.6" />
<rect x="640.63" y="273.88" width="2" height="8.64" fill="#1d8a1f"/>
<line x1="644.3" y1="228.16" x2="644.3" y2="278.96" stroke="#727272" stroke-width="0.6" />
<rect x="643.3" y="231.72" width="2" height="42.16" fill="#1d8a1f"/>
<line x1="646.97" y1="231.21" x2="646.97" y2="278.96" stroke="#727272" stroke-width="0.6" />
<rect x="645.97" y="231.72" width="2" height="41.15" fill="#ee2a2a"/>
<line x1="649.64" y1="258.64" x2="649.64" y2="296.74" stroke="#727272" stroke-width="0.6" />
<rect x="648.64" y="267.28" width="2" height="5.59" fill="#ee2a2a"/>
<line x1="652.31" y1="248.48" x2="652.31" y2="272.36" stroke="#727272" stroke-width="0.6" />
<rect x="651.31" y="250.51" width="2" height="16.76" fill="#1d8a1f"/>
<line x1="654.98" y1="239.34" x2="654.98" y2="252.54" stroke="#727272" stroke-width="0.6" />
<rect x="653.98" y="246.14" width="2" height="4.37" fill="#1d8a1f"/>
<line x1="656.5" y1="218.5" x2="659.5" y2="218.5" stroke="#e33" stroke-width="1" />
<line x1="656.5" y1="236.5" x2="659.5" y2="236.5" stroke="#f59a9a" stroke-width="1" />
<line x1="656.5" y1="265.5" x2="659.5" y2="265.5" stroke="#7cc585" stroke-width="1" />
<line x1="656.5" y1="284.5" x2="659.5" y2="284.5" stroke="#e33" stroke-width="1" />
<circle cx="449" cy="146" r="1.7" fill="#f7a3a3"/>
<circle cx="572" cy="151" r="1.7" fill="#f7a3a3"/>
<circle cx="526" cy="246" r="1.7" fill="#8fce97"/>
<circle cx="644.6" cy="316.4" r="1.7" fill="#8fce97"/>
<g transform="translate(655.5,451.5)"><circle r="4.1" fill="none" stroke="#a032d8" stroke-width="0.75"/><path d="M0.7,-2.5 L-1.5,0.5 L-0.1,0.5 L-0.7,2.5 L1.5,-0.5 L0.1,-0.5 Z" fill="#a032d8"/><circle cx="3.1" cy="-3.2" r="0.9" fill="#f0334a"/><circle cx="-4.2" cy="1.3" r="1" fill="#7a4de8"/></g>
</g>
<text x="690" y="20.4" font-size="5.4" fill="#444" font-weight="normal" text-anchor="start" >USD</text>
<line x1="686.5" y1="24.5" x2="714.5" y2="24.5" stroke="#ececec" stroke-width="0.8" />
<text x="688.6" y="448.7" font-size="6" fill="#666" font-weight="normal" text-anchor="start" >52,000</text>
<text x="688.6" y="428.38" font-size="6" fill="#666" font-weight="normal" text-anchor="start" >56,000</text>
<text x="688.6" y="408.06" font-size="6" fill="#666" font-weight="normal" text-anchor="start" >60,000</text>
<text x="688.6" y="387.74" font-size="6" fill="#666" font-weight="normal" text-anchor="start" >64,000</text>
<text x="688.6" y="367.42" font-size="6" fill="#666" font-weight="normal" text-anchor="start" >68,000</text>
<text x="688.6" y="347.1" font-size="6" fill="#666" font-weight="normal" text-anchor="start" >72,000</text>
<text x="688.6" y="326.78" font-size="6" fill="#666" font-weight="normal" text-anchor="start" >76,000</text>
<text x="688.6" y="306.46" font-size="6" fill="#666" font-weight="normal" text-anchor="start" >80,000</text>
<text x="688.6" y="286.14" font-size="6" fill="#666" font-weight="normal" text-anchor="start" >84,000</text>
<text x="688.6" y="265.82" font-size="6" fill="#666" font-weight="normal" text-anchor="start" >88,000</text>
<text x="688.6" y="245.5" font-size="6" fill="#666" font-weight="normal" text-anchor="start" >92,000</text>
<text x="688.6" y="225.18" font-size="6" fill="#666" font-weight="normal" text-anchor="start" >96,000</text>
<text x="688.6" y="204.86" font-size="6" fill="#666" font-weight="normal" text-anchor="start" >100,000</text>
<text x="688.6" y="184.54" font-size="6" fill="#666" font-weight="normal" text-anchor="start" >104,000</text>
<text x="688.6" y="164.22" font-size="6" fill="#666" font-weight="normal" text-anchor="start" >108,000</text>
<text x="688.6" y="143.9" font-size="6" fill="#666" font-weight="normal" text-anchor="start" >112,000</text>
<text x="688.6" y="123.58" font-size="6" fill="#666" font-weight="normal" text-anchor="start" >116,000</text>
<text x="688.6" y="103.26" font-size="6" fill="#666" font-weight="normal" text-anchor="start" >120,000</text>
<text x="688.6" y="82.94" font-size="6" fill="#666" font-weight="normal" text-anchor="start" >124,000</text>
<text x="688.6" y="62.62" font-size="6" fill="#666" font-weight="normal" text-anchor="start" >128,000</text>
<text x="688.6" y="42.3" font-size="6" fill="#666" font-weight="normal" text-anchor="start" >132,000</text>
<rect x="684.2" y="191.5" width="26" height="6.8" fill="#4caf50"/>
<text x="688.4" y="197.2" font-size="6" fill="#fff" font-weight="bold" text-anchor="start" >101,683</text>
<rect x="684.2" y="220.2" width="25" height="7.4" fill="#f23030"/>
<text x="688.4" y="226.2" font-size="6" fill="#fff" font-weight="bold" text-anchor="start" >95,973</text>
<rect x="684.2" y="243.8" width="29.5" height="13" fill="#158a1b"/>
<text x="688.4" y="249.6" font-size="6" fill="#fff" font-weight="bold" text-anchor="start" >91,460</text>
<text x="688.4" y="255.8" font-size="6" fill="#fff" font-weight="bold" text-anchor="start" >16:10:29</text>
<line x1="3.5" y1="459.5" x2="373" y2="459.5" stroke="#a6a6a6" stroke-width="0.7" />
<line x1="3.5" y1="500.5" x2="373" y2="500.5" stroke="#a6a6a6" stroke-width="0.7" />
<line x1="3.5" y1="530.5" x2="373" y2="530.5" stroke="#a6a6a6" stroke-width="0.7" />
<line x1="313.5" y1="10.75" x2="313.5" y2="542" stroke="#a8a8a8" stroke-width="0.7" />
<line x1="344.5" y1="10.75" x2="344.5" y2="542" stroke="#a8a8a8" stroke-width="0.7" />
<clipPath id="c3"><rect x="3.5" y="459.0" width="310.1" height="71.0"/></clipPath>
<g clip-path="url(#c3)">
<rect x="5.8" y="478.7" width="2" height="21.3" fill="#f7a1a1"/>
<rect x="8.47" y="465.4" width="2" height="34.6" fill="#8fd197"/>
<rect x="11.15" y="478" width="2" height="22" fill="#f7a1a1"/>
<rect x="13.82" y="486.7" width="2" height="13.3" fill="#8fd197"/>
<rect x="16.5" y="491.4" width="2" height="8.6" fill="#8fd197"/>
<rect x="19.18" y="486.7" width="2" height="13.3" fill="#8fd197"/>
<rect x="21.85" y="484" width="2" height="16" fill="#f7a1a1"/>
<rect x="24.52" y="480.7" width="2" height="19.3" fill="#8fd197"/>
<rect x="27.2" y="485.4" width="2" height="14.6" fill="#f7a1a1"/>
<rect x="29.88" y="483.4" width="2" height="16.6" fill="#f7a1a1"/>
<rect x="32.55" y="488" width="2" height="12" fill="#f7a1a1"/>
<rect x="35.22" y="489.4" width="2" height="10.6" fill="#8fd197"/>
<rect x="37.9" y="488" width="2" height="12" fill="#f7a1a1"/>
<rect x="40.57" y="484" width="2" height="16" fill="#f7a1a1"/>
<rect x="43.25" y="483.4" width="2" height="16.6" fill="#8fd197"/>
<rect x="45.92" y="478" width="2" height="22" fill="#8fd197"/>
<rect x="48.6" y="484" width="2" height="16" fill="#8fd197"/>
<rect x="51.27" y="489.4" width="2" height="10.6" fill="#f7a1a1"/>
<rect x="53.95" y="486" width="2" height="14" fill="#8fd197"/>
<rect x="56.62" y="490" width="2" height="10" fill="#f7a1a1"/>
<rect x="59.3" y="490" width="2" height="10" fill="#f7a1a1"/>
<rect x="61.97" y="490" width="2" height="10" fill="#f7a1a1"/>
<rect x="64.65" y="491.4" width="2" height="8.6" fill="#8fd197"/>
<rect x="67.33" y="486" width="2" height="14" fill="#f7a1a1"/>
<rect x="70" y="490" width="2" height="10" fill="#f7a1a1"/>
<rect x="72.67" y="485.4" width="2" height="14.6" fill="#f7a1a1"/>
<rect x="75.35" y="489.4" width="2" height="10.6" fill="#f7a1a1"/>
<rect x="78.02" y="490" width="2" height="10" fill="#8fd197"/>
<rect x="80.7" y="489.4" width="2" height="10.6" fill="#f7a1a1"/>
<rect x="83.37" y="489.4" width="2" height="10.6" fill="#8fd197"/>
<rect x="86.05" y="486.7" width="2" height="13.3" fill="#f7a1a1"/>
<rect x="88.72" y="492" width="2" height="8" fill="#f7a1a1"/>
<rect x="91.4" y="485.4" width="2" height="14.6" fill="#8fd197"/>
<rect x="94.07" y="482" width="2" height="18" fill="#8fd197"/>
<rect x="96.75" y="489.4" width="2" height="10.6" fill="#8fd197"/>
<rect x="99.42" y="489.4" width="2" height="10.6" fill="#8fd197"/>
<rect x="102.1" y="488" width="2" height="12" fill="#8fd197"/>
<rect x="104.77" y="488" width="2" height="12" fill="#8fd197"/>
<rect x="107.45" y="488" width="2" height="12" fill="#8fd197"/>
<rect x="110.12" y="486.7" width="2" height="13.3" fill="#8fd197"/>
<rect x="112.8" y="484.7" width="2" height="15.3" fill="#f7a1a1"/>
<rect x="115.47" y="486.7" width="2" height="13.3" fill="#8fd197"/>
<rect x="118.15" y="486.7" width="2" height="13.3" fill="#f7a1a1"/>
<rect x="120.82" y="480" width="2" height="20" fill="#8fd197"/>
<rect x="123.5" y="474.7" width="2" height="25.3" fill="#f7a1a1"/>
<rect x="126.17" y="488.7" width="2" height="11.3" fill="#f7a1a1"/>
<rect x="128.85" y="482.7" width="2" height="17.3" fill="#8fd197"/>
<rect x="131.53" y="486.7" width="2" height="13.3" fill="#8fd197"/>
<rect x="134.2" y="486" width="2" height="14" fill="#8fd197"/>
<rect x="136.88" y="486" width="2" height="14" fill="#8fd197"/>
<rect x="139.55" y="488" width="2" height="12" fill="#f7a1a1"/>
<rect x="142.22" y="477.4" width="2" height="22.6" fill="#8fd197"/>
<rect x="144.9" y="472" width="2" height="28" fill="#8fd197"/>
<rect x="147.57" y="472" width="2" height="28" fill="#f7a1a1"/>
<rect x="150.25" y="477.4" width="2" height="22.6" fill="#f7a1a1"/>
<rect x="152.93" y="486.7" width="2" height="13.3" fill="#8fd197"/>
<rect x="155.6" y="485.4" width="2" height="14.6" fill="#f7a1a1"/>
<rect x="158.28" y="480.7" width="2" height="19.3" fill="#f7a1a1"/>
<rect x="160.95" y="482" width="2" height="18" fill="#f7a1a1"/>
<rect x="163.62" y="489.4" width="2" height="10.6" fill="#f7a1a1"/>
<rect x="166.3" y="485.4" width="2" height="14.6" fill="#8fd197"/>
<rect x="168.97" y="490" width="2" height="10" fill="#f7a1a1"/>
<rect x="171.65" y="486.7" width="2" height="13.3" fill="#8fd197"/>
<rect x="174.32" y="488.7" width="2" height="11.3" fill="#8fd197"/>
<rect x="177" y="490" width="2" height="10" fill="#f7a1a1"/>
<rect x="179.68" y="486" width="2" height="14" fill="#8fd197"/>
<rect x="182.35" y="486.7" width="2" height="13.3" fill="#f7a1a1"/>
<rect x="185.03" y="486.7" width="2" height="13.3" fill="#f7a1a1"/>
<rect x="187.7" y="486" width="2" height="14" fill="#f7a1a1"/>
<rect x="190.38" y="486.7" width="2" height="13.3" fill="#f7a1a1"/>
<rect x="193.05" y="484.7" width="2" height="15.3" fill="#8fd197"/>
<rect x="195.72" y="482.7" width="2" height="17.3" fill="#8fd197"/>
<rect x="198.4" y="486.7" width="2" height="13.3" fill="#8fd197"/>
<rect x="201.07" y="482.7" width="2" height="17.3" fill="#f7a1a1"/>
<rect x="203.75" y="473.4" width="2" height="26.6" fill="#8fd197"/>
<rect x="206.43" y="480.7" width="2" height="19.3" fill="#f7a1a1"/>
<rect x="209.1" y="484" width="2" height="16" fill="#8fd197"/>
<rect x="211.78" y="485.4" width="2" height="14.6" fill="#f7a1a1"/>
<rect x="214.45" y="489.4" width="2" height="10.6" fill="#f7a1a1"/>
<rect x="217.12" y="484.7" width="2" height="15.3" fill="#8fd197"/>
<rect x="219.8" y="486.7" width="2" height="13.3" fill="#8fd197"/>
<rect x="222.47" y="491.4" width="2" height="8.6" fill="#8fd197"/>
<rect x="225.15" y="488" width="2" height="12" fill="#f7a1a1"/>
<rect x="227.82" y="490" width="2" height="10" fill="#8fd197"/>
<rect x="230.5" y="488" width="2" height="12" fill="#8fd197"/>
<rect x="233.17" y="487.4" width="2" height="12.6" fill="#f7a1a1"/>
<rect x="235.85" y="484.7" width="2" height="15.3" fill="#8fd197"/>
<rect x="238.53" y="482" width="2" height="18" fill="#8fd197"/>
<rect x="241.2" y="464" width="2" height="36" fill="#8fd197"/>
<rect x="243.88" y="464.8" width="2" height="35.2" fill="#8fd197"/>
<rect x="246.55" y="482.7" width="2" height="17.3" fill="#f7a1a1"/>
<rect x="249.22" y="476" width="2" height="24" fill="#8fd197"/>
<rect x="251.9" y="488" width="2" height="12" fill="#8fd197"/>
<rect x="254.57" y="482.7" width="2" height="17.3" fill="#f7a1a1"/>
<rect x="257.25" y="488.7" width="2" height="11.3" fill="#f7a1a1"/>
<rect x="259.92" y="492" width="2" height="8" fill="#8fd197"/>
<rect x="262.6" y="489.4" width="2" height="10.6" fill="#f7a1a1"/>
<rect x="265.27" y="485.4" width="2" height="14.6" fill="#8fd197"/>
<rect x="267.95" y="483.4" width="2" height="16.6" fill="#8fd197"/>
<rect x="270.62" y="486" width="2" height="14" fill="#f7a1a1"/>
<rect x="273.3" y="486" width="2" height="14" fill="#f7a1a1"/>
<rect x="275.97" y="492.7" width="2" height="7.3" fill="#f7a1a1"/>
<rect x="278.65" y="490" width="2" height="10" fill="#8fd197"/>
<rect x="281.32" y="478.7" width="2" height="21.3" fill="#f7a1a1"/>
<rect x="284" y="489.4" width="2" height="10.6" fill="#f7a1a1"/>
<line x1="3.5" y1="486.5" x2="286" y2="486.5" stroke="#555" stroke-width="0.7" />
<polyline points="4.3,475.6 8.5,472.6 12.8,471.3 20.2,469.8 24.5,475 32,481 35,478 39.4,482 42.5,481 46.4,476.9 50,482 56.4,483 56.54,483.2" fill="none" stroke="#62ad68" stroke-width="1.4" stroke-linejoin="round" stroke-linecap="round" />
<polyline points="56.54,483.2 59.6,487.5 62.8,483.7 68,490 73.4,486 77.7,490 83.82,483.2" fill="none" stroke="#ea5a52" stroke-width="1.4" stroke-linejoin="round" stroke-linecap="round" />
<polyline points="83.82,483.2 84,483 84.07,483.2" fill="none" stroke="#62ad68" stroke-width="1.4" stroke-linejoin="round" stroke-linecap="round" />
<polyline points="84.07,483.2 88.3,495.4 90.4,493.9 93.49,483.2" fill="none" stroke="#ea5a52" stroke-width="1.4" stroke-linejoin="round" stroke-linecap="round" />
<polyline points="93.49,483.2 94.7,479 100,473.4 105.3,472 108.5,464 110.6,463.7 113.8,467.7 120.2,467.7 124.5,472 129.8,470.5 134,472 138.3,469.8 141.5,470.9 146.8,466.6 150,469.2 153.2,466.2 157.4,469.8 161.7,472.6 167,472 170.2,474.7 172.3,473.4 177.7,476.9 180.9,475.6 183.49,483.2" fill="none" stroke="#62ad68" stroke-width="1.4" stroke-linejoin="round" stroke-linecap="round" />
<polyline points="183.49,483.2 184,484.7 188.3,491 191.5,494.3 195.7,489 199,483.7 202.1,489 206.4,489 209.6,484.7 214.9,492.6 219.1,489.6 224.5,486.2 227.7,485.8 229.41,483.2" fill="none" stroke="#ea5a52" stroke-width="1.4" stroke-linejoin="round" stroke-linecap="round" />
<polyline points="229.41,483.2 231.9,479.4 234.98,483.2" fill="none" stroke="#62ad68" stroke-width="1.4" stroke-linejoin="round" stroke-linecap="round" />
<polyline points="234.98,483.2 236.2,484.7 236.86,483.2" fill="none" stroke="#ea5a52" stroke-width="1.4" stroke-linejoin="round" stroke-linecap="round" />
<polyline points="236.86,483.2 240.4,475.1 243.6,470.5 250,470.9 253.2,465.6 256.4,470.5 260.6,472.6 263.8,474.7 267,471.3 272.3,475.6 277.7,476.2 281.9,482.6 282.16,483.2" fill="none" stroke="#62ad68" stroke-width="1.4" stroke-linejoin="round" stroke-linecap="round" />
<polyline points="282.16,483.2 285.1,490" fill="none" stroke="#ea5a52" stroke-width="1.4" stroke-linejoin="round" stroke-linecap="round" />
<line x1="3.5" y1="507.6" x2="313.6" y2="507.6" stroke="#f9d0d0" stroke-width="1.5" />
<line x1="3.5" y1="514.5" x2="313.6" y2="514.5" stroke="#6e6e6e" stroke-width="0.65" />
<line x1="3.5" y1="516.5" x2="313.6" y2="516.5" stroke="#cfcfcf" stroke-width="0.7" stroke-dasharray="2 1.5"/>
<line x1="3.5" y1="522.5" x2="313.6" y2="522.5" stroke="#78b496" stroke-width="0.7" />
<path d="M4.3,523.5 C7.13,522.62 16.35,519.78 21.3,518.2 C26.25,516.62 29.75,515.53 34,514 C38.25,512.47 42.18,510.17 46.8,509 C51.42,507.83 55.33,507.23 61.7,507 C68.07,506.77 78.62,507.5 85,507.6 C91.38,507.7 94.33,507.78 100,507.6 C105.67,507.42 112.67,506.68 119,506.5 C125.33,506.32 132.83,506.85 138,506.5 C143.17,506.15 144.45,504.48 150,504.4 C155.55,504.32 164.2,505.3 171.3,506 C178.4,506.7 185.52,507.63 192.6,508.6 C199.68,509.57 208.13,510.73 213.8,511.8 C219.47,512.87 223.07,514.18 226.6,515 C230.13,515.82 232.17,516.53 235,516.7 C237.83,516.87 240.77,516.62 243.6,516 C246.43,515.38 248.8,514.05 252,513 C255.2,511.95 259.23,510.37 262.8,509.7 C266.37,509.03 269.87,508.75 273.4,509 C276.93,509.25 282.23,510.83 284,511.2" fill="none" stroke="#ec7f6e" stroke-width="0.55" />
<path d="M4.3,520.3 C5.72,519.58 9.27,517.3 12.8,516 C16.33,514.7 20.53,513.73 25.5,512.5 C30.47,511.27 36.92,509.6 42.6,508.6 C48.28,507.6 52.53,506.77 59.6,506.5 C66.67,506.23 75.1,507.08 85,507 C94.9,506.92 108.17,506.37 119,506 C129.83,505.63 140.58,504.72 150,504.8 C159.42,504.88 166.67,505.58 175.5,506.5 C184.33,507.42 195.58,509.17 203,510.3 C210.42,511.43 212.5,512.35 220,513.3 C227.5,514.25 241.93,515.65 248,516 C254.07,516.35 252.9,515.98 256.4,515.4 C259.9,514.82 265.45,513.35 269,512.5 C272.55,511.65 275.2,510.67 277.7,510.3 C280.2,509.93 282.95,510.3 284,510.3" fill="none" stroke="#7dbb85" stroke-width="0.55" />
<path d="M5.8,507.2 C6.68,507.3 9.15,508.3 11.1,507.8 C13.05,507.3 15.73,504.8 17.5,504.2 C19.27,503.6 20.12,503.07 21.7,504.2 C23.28,505.33 25.03,508.83 27,511 C28.97,513.17 31.37,515.62 33.5,517.2 C35.63,518.78 37.87,519.23 39.8,520.5 C41.73,521.77 43.32,525.15 45.1,524.8 C46.88,524.45 48.55,520.35 50.5,518.4 C52.45,516.45 54.68,513.98 56.8,513.1 C58.92,512.22 61.25,512.22 63.2,513.1 C65.15,513.98 66.55,516.45 68.5,518.4 C70.45,520.35 72.95,523.5 74.9,524.8 C76.85,526.1 78.27,526.73 80.2,526.2 C82.13,525.67 84.37,523.78 86.5,521.6 C88.63,519.42 90.85,515.77 93,513.1 C95.15,510.43 97.65,507.13 99.4,505.6 C101.15,504.07 101.02,504.07 103.5,503.9 C105.98,503.73 111.47,503.95 114.3,504.6 C117.13,505.25 118.55,506.73 120.5,507.8 C122.45,508.87 124.2,509.05 126,511 C127.8,512.95 129.88,517.55 131.3,519.5 C132.72,521.45 133.08,523.25 134.5,522.7 C135.92,522.15 137.85,518.95 139.8,516.2 C141.75,513.45 144.25,508.13 146.2,506.2 C148.15,504.27 149.55,504.52 151.5,504.6 C153.45,504.68 156.13,504.93 157.9,506.7 C159.67,508.47 160.68,512.45 162.1,515.2 C163.52,517.95 164.8,521.42 166.4,523.2 C168,524.98 169.93,525.82 171.7,525.9 C173.47,525.98 175.22,524.48 177,523.7 C178.78,522.92 180.62,521.28 182.4,521.2 C184.18,521.12 185.93,522.37 187.7,523.2 C189.47,524.03 191.42,526.12 193,526.2 C194.58,526.28 195.78,525.2 197.2,523.7 C198.62,522.2 200.07,518.08 201.5,517.2 C202.93,516.32 204.38,517.48 205.8,518.4 C207.22,519.32 208.42,521.9 210,522.7 C211.58,523.5 213.72,522.95 215.3,523.2 C216.88,523.45 218.08,524.82 219.5,524.2 C220.92,523.58 222.37,521.17 223.8,519.5 C225.23,517.83 226.5,515.55 228.1,514.2 C229.7,512.85 231.63,512.65 233.4,511.4 C235.17,510.15 236.92,507.95 238.7,506.7 C240.48,505.45 241.8,504.43 244.1,503.9 C246.4,503.37 250.38,503.22 252.5,503.5 C254.62,503.78 255.37,504.35 256.8,505.6 C258.23,506.85 259.68,509.57 261.1,511 C262.52,512.43 263.9,513.57 265.3,514.2 C266.7,514.83 267.9,514.1 269.5,514.8 C271.1,515.5 273.28,516.92 274.9,518.4 C276.52,519.88 277.6,522.35 279.2,523.7 C280.8,525.05 283.62,526.03 284.5,526.5" fill="none" stroke="#e86a5a" stroke-width="0.55" />
<path d="M4.3,507 C5.18,507.1 7.65,508.1 9.6,507.6 C11.55,507.1 14.23,504.6 16,504 C17.77,503.4 18.62,502.87 20.2,504 C21.78,505.13 23.53,508.63 25.5,510.8 C27.47,512.97 29.87,515.42 32,517 C34.13,518.58 36.37,519.03 38.3,520.3 C40.23,521.57 41.82,524.95 43.6,524.6 C45.38,524.25 47.05,520.15 49,518.2 C50.95,516.25 53.18,513.78 55.3,512.9 C57.42,512.02 59.75,512.02 61.7,512.9 C63.65,513.78 65.05,516.25 67,518.2 C68.95,520.15 71.45,523.3 73.4,524.6 C75.35,525.9 76.77,526.53 78.7,526 C80.63,525.47 82.87,523.58 85,521.4 C87.13,519.22 89.35,515.57 91.5,512.9 C93.65,510.23 96.15,506.93 97.9,505.4 C99.65,503.87 99.52,503.87 102,503.7 C104.48,503.53 109.97,503.75 112.8,504.4 C115.63,505.05 117.05,506.53 119,507.6 C120.95,508.67 122.7,508.85 124.5,510.8 C126.3,512.75 128.38,517.35 129.8,519.3 C131.22,521.25 131.58,523.05 133,522.5 C134.42,521.95 136.35,518.75 138.3,516 C140.25,513.25 142.75,507.93 144.7,506 C146.65,504.07 148.05,504.32 150,504.4 C151.95,504.48 154.63,504.73 156.4,506.5 C158.17,508.27 159.18,512.25 160.6,515 C162.02,517.75 163.3,521.22 164.9,523 C166.5,524.78 168.43,525.62 170.2,525.7 C171.97,525.78 173.72,524.28 175.5,523.5 C177.28,522.72 179.12,521.08 180.9,521 C182.68,520.92 184.43,522.17 186.2,523 C187.97,523.83 189.92,525.92 191.5,526 C193.08,526.08 194.28,525 195.7,523.5 C197.12,522 198.57,517.88 200,517 C201.43,516.12 202.88,517.28 204.3,518.2 C205.72,519.12 206.92,521.7 208.5,522.5 C210.08,523.3 212.22,522.75 213.8,523 C215.38,523.25 216.58,524.62 218,524 C219.42,523.38 220.87,520.97 222.3,519.3 C223.73,517.63 225,515.35 226.6,514 C228.2,512.65 230.13,512.45 231.9,511.2 C233.67,509.95 235.42,507.75 237.2,506.5 C238.98,505.25 240.3,504.23 242.6,503.7 C244.9,503.17 248.88,503.02 251,503.3 C253.12,503.58 253.87,504.15 255.3,505.4 C256.73,506.65 258.18,509.37 259.6,510.8 C261.02,512.23 262.4,513.37 263.8,514 C265.2,514.63 266.4,513.9 268,514.6 C269.6,515.3 271.78,516.72 273.4,518.2 C275.02,519.68 276.1,522.15 277.7,523.5 C279.3,524.85 282.12,525.83 283,526.3" fill="none" stroke="#58a878" stroke-width="0.55" />
</g>
<clipPath id="c3t"><rect x="313.6" y="459.3" width="59.39999999999998" height="90"/></clipPath>
<g clip-path="url(#c3t)">
<text x="317.6" y="461.6" font-size="6" fill="#666" font-weight="normal" text-anchor="start" >100</text>
<text x="317.6" y="488" font-size="6" fill="#666" font-weight="normal" text-anchor="start" >0</text>
<text x="348.6" y="480.4" font-size="6" fill="#666" font-weight="normal" text-anchor="start" >20 K</text>
<text x="317.8" y="505.6" font-size="6" fill="#666" font-weight="normal" text-anchor="start" >100.00</text>
<text x="320" y="529" font-size="6" fill="#666" font-weight="normal" text-anchor="start" >0.00</text>
</g>
<text x="6.5" y="538.4" font-size="6" fill="#777" font-weight="normal" text-anchor="middle" >Mar</text>
<text x="52.2" y="538.4" font-size="6" fill="#777" font-weight="normal" text-anchor="middle" >Jul</text>
<text x="76" y="538.4" font-size="6" fill="#777" font-weight="normal" text-anchor="middle" >Sep</text>
<text x="122" y="538.4" font-size="6" fill="#333" font-weight="bold" text-anchor="middle" >2024</text>
<text x="146" y="538.4" font-size="6" fill="#777" font-weight="normal" text-anchor="middle" >Mar</text>
<text x="191" y="538.4" font-size="6" fill="#777" font-weight="normal" text-anchor="middle" >Jul</text>
<text x="215" y="538.4" font-size="6" fill="#777" font-weight="normal" text-anchor="middle" >Sep</text>
<text x="239" y="538.4" font-size="6" fill="#777" font-weight="normal" text-anchor="middle" >Nov</text>
<text x="263" y="538.4" font-size="6" fill="#333" font-weight="bold" text-anchor="middle" >2025</text>
<text x="308.5" y="538.4" font-size="6" fill="#777" font-weight="normal" text-anchor="middle" >May</text>
<line x1="375.1" y1="457.5" x2="744.6" y2="457.5" stroke="#a6a6a6" stroke-width="0.7" />
<line x1="375.1" y1="500.5" x2="744.6" y2="500.5" stroke="#a6a6a6" stroke-width="0.7" />
<line x1="375.1" y1="530.5" x2="744.6" y2="530.5" stroke="#a6a6a6" stroke-width="0.7" />
<line x1="684.5" y1="10.75" x2="684.5" y2="542" stroke="#a8a8a8" stroke-width="0.7" />
<line x1="715.5" y1="10.75" x2="715.5" y2="542" stroke="#a8a8a8" stroke-width="0.7" />
<clipPath id="c375"><rect x="375.1" y="457.6" width="309.6" height="72.39999999999998"/></clipPath>
<g clip-path="url(#c375)">
<rect x="376.3" y="476.6" width="2" height="23.4" fill="#8fd197"/>
<rect x="378.97" y="491.5" width="2" height="8.5" fill="#f7a1a1"/>
<rect x="381.64" y="490.4" width="2" height="9.6" fill="#8fd197"/>
<rect x="384.31" y="484" width="2" height="16" fill="#f7a1a1"/>
<rect x="386.98" y="481.5" width="2" height="18.5" fill="#f7a1a1"/>
<rect x="389.65" y="484" width="2" height="16" fill="#8fd197"/>
<rect x="392.32" y="489.4" width="2" height="10.6" fill="#f7a1a1"/>
<rect x="394.99" y="487.2" width="2" height="12.8" fill="#8fd197"/>
<rect x="397.66" y="495.7" width="2" height="4.3" fill="#f7a1a1"/>
<rect x="400.33" y="494.7" width="2" height="5.3" fill="#8fd197"/>
<rect x="403" y="483.6" width="2" height="16.4" fill="#f7a1a1"/>
<rect x="405.67" y="483" width="2" height="17" fill="#8fd197"/>
<rect x="408.34" y="477.7" width="2" height="22.3" fill="#8fd197"/>
<rect x="411.01" y="462.3" width="2" height="37.7" fill="#f7a1a1"/>
<rect x="413.68" y="486.2" width="2" height="13.8" fill="#8fd197"/>
<rect x="416.35" y="495.7" width="2" height="4.3" fill="#8fd197"/>
<rect x="419.02" y="494.3" width="2" height="5.7" fill="#8fd197"/>
<rect x="421.69" y="486.8" width="2" height="13.2" fill="#f7a1a1"/>
<rect x="424.36" y="488.7" width="2" height="11.3" fill="#f7a1a1"/>
<rect x="427.03" y="488.7" width="2" height="11.3" fill="#8fd197"/>
<rect x="429.7" y="492.1" width="2" height="7.9" fill="#f7a1a1"/>
<rect x="432.37" y="494.7" width="2" height="5.3" fill="#8fd197"/>
<rect x="435.04" y="496.4" width="2" height="3.6" fill="#8fd197"/>
<rect x="437.71" y="492.6" width="2" height="7.4" fill="#8fd197"/>
<rect x="440.38" y="488.7" width="2" height="11.3" fill="#8fd197"/>
<rect x="443.05" y="492.1" width="2" height="7.9" fill="#8fd197"/>
<rect x="445.72" y="487.2" width="2" height="12.8" fill="#f7a1a1"/>
<rect x="448.39" y="481.5" width="2" height="18.5" fill="#f7a1a1"/>
<rect x="451.06" y="486.2" width="2" height="13.8" fill="#8fd197"/>
<rect x="453.73" y="490.4" width="2" height="9.6" fill="#f7a1a1"/>
<rect x="456.4" y="489.4" width="2" height="10.6" fill="#f7a1a1"/>
<rect x="459.07" y="487.2" width="2" height="12.8" fill="#f7a1a1"/>
<rect x="461.74" y="492.6" width="2" height="7.4" fill="#8fd197"/>
<rect x="464.41" y="494.3" width="2" height="5.7" fill="#8fd197"/>
<rect x="467.08" y="491.5" width="2" height="8.5" fill="#f7a1a1"/>
<rect x="469.75" y="487.2" width="2" height="12.8" fill="#f7a1a1"/>
<rect x="472.42" y="495.3" width="2" height="4.7" fill="#8fd197"/>
<rect x="475.09" y="495.3" width="2" height="4.7" fill="#f7a1a1"/>
<rect x="477.76" y="492.6" width="2" height="7.4" fill="#f7a1a1"/>
<rect x="480.43" y="494.3" width="2" height="5.7" fill="#8fd197"/>
<rect x="483.1" y="495.7" width="2" height="4.3" fill="#8fd197"/>
<rect x="485.77" y="493.6" width="2" height="6.4" fill="#8fd197"/>
<rect x="488.44" y="493.6" width="2" height="6.4" fill="#8fd197"/>
<rect x="491.11" y="497.2" width="2" height="2.8" fill="#8fd197"/>
<rect x="493.78" y="497.2" width="2" height="2.8" fill="#8fd197"/>
<rect x="496.45" y="492.1" width="2" height="7.9" fill="#8fd197"/>
<rect x="499.12" y="492.6" width="2" height="7.4" fill="#f7a1a1"/>
<rect x="501.79" y="489.4" width="2" height="10.6" fill="#f7a1a1"/>
<rect x="504.46" y="490.4" width="2" height="9.6" fill="#f7a1a1"/>
<rect x="507.13" y="490.9" width="2" height="9.1" fill="#8fd197"/>
<rect x="509.8" y="496.4" width="2" height="3.6" fill="#f7a1a1"/>
<rect x="512.47" y="496.4" width="2" height="3.6" fill="#f7a1a1"/>
<rect x="515.14" y="490.4" width="2" height="9.6" fill="#8fd197"/>
<rect x="517.81" y="492.1" width="2" height="7.9" fill="#8fd197"/>
<rect x="520.48" y="491.5" width="2" height="8.5" fill="#8fd197"/>
<rect x="523.15" y="490.9" width="2" height="9.1" fill="#f7a1a1"/>
<rect x="525.82" y="484" width="2" height="16" fill="#8fd197"/>
<rect x="528.49" y="491.5" width="2" height="8.5" fill="#8fd197"/>
<rect x="531.16" y="486.5" width="2" height="13.5" fill="#f7a1a1"/>
<rect x="533.83" y="480.3" width="2" height="19.7" fill="#8fd197"/>
<rect x="536.5" y="484" width="2" height="16" fill="#8fd197"/>
<rect x="539.17" y="491" width="2" height="9" fill="#f7a1a1"/>
<rect x="541.84" y="481" width="2" height="19" fill="#8fd197"/>
<rect x="544.51" y="491" width="2" height="9" fill="#8fd197"/>
<rect x="547.18" y="496.4" width="2" height="3.6" fill="#f7a1a1"/>
<rect x="549.85" y="495.5" width="2" height="4.5" fill="#f7a1a1"/>
<rect x="552.52" y="483.3" width="2" height="16.7" fill="#f7a1a1"/>
<rect x="555.19" y="491" width="2" height="9" fill="#f7a1a1"/>
<rect x="557.86" y="492" width="2" height="8" fill="#8fd197"/>
<rect x="560.53" y="492" width="2" height="8" fill="#8fd197"/>
<rect x="563.2" y="489.2" width="2" height="10.8" fill="#f7a1a1"/>
<rect x="565.87" y="495.5" width="2" height="4.5" fill="#f7a1a1"/>
<rect x="568.54" y="491" width="2" height="9" fill="#f7a1a1"/>
<rect x="571.21" y="482" width="2" height="18" fill="#8fd197"/>
<rect x="573.88" y="489.2" width="2" height="10.8" fill="#f7a1a1"/>
<rect x="576.55" y="490.5" width="2" height="9.5" fill="#f7a1a1"/>
<rect x="579.22" y="490.1" width="2" height="9.9" fill="#f7a1a1"/>
<rect x="581.89" y="489.2" width="2" height="10.8" fill="#f7a1a1"/>
<rect x="584.56" y="497.3" width="2" height="2.7" fill="#f7a1a1"/>
<rect x="587.23" y="494.6" width="2" height="5.4" fill="#8fd197"/>
<rect x="589.9" y="494.6" width="2" height="5.4" fill="#8fd197"/>
<rect x="592.57" y="493.7" width="2" height="6.3" fill="#f7a1a1"/>
<rect x="595.24" y="492" width="2" height="8" fill="#8fd197"/>
<rect x="597.91" y="494.6" width="2" height="5.4" fill="#f7a1a1"/>
<rect x="600.58" y="493.4" width="2" height="6.6" fill="#8fd197"/>
<rect x="603.25" y="497.3" width="2" height="2.7" fill="#8fd197"/>
<rect x="605.92" y="497.7" width="2" height="2.3" fill="#f7a1a1"/>
<rect x="608.59" y="496.4" width="2" height="3.6" fill="#f7a1a1"/>
<rect x="611.26" y="488.3" width="2" height="11.7" fill="#f7a1a1"/>
<rect x="613.93" y="492.8" width="2" height="7.2" fill="#8fd197"/>
<rect x="616.6" y="491" width="2" height="9" fill="#8fd197"/>
<rect x="619.27" y="485.6" width="2" height="14.4" fill="#f7a1a1"/>
<rect x="621.94" y="495.5" width="2" height="4.5" fill="#8fd197"/>
<rect x="624.61" y="497" width="2" height="3" fill="#f7a1a1"/>
<rect x="627.28" y="491" width="2" height="9" fill="#f7a1a1"/>
<rect x="629.95" y="478" width="2" height="22" fill="#f7a1a1"/>
<rect x="632.62" y="484" width="2" height="16" fill="#f7a1a1"/>
<rect x="635.29" y="486.5" width="2" height="13.5" fill="#8fd197"/>
<rect x="637.96" y="481.1" width="2" height="18.9" fill="#f7a1a1"/>
<rect x="640.63" y="492" width="2" height="8" fill="#8fd197"/>
<rect x="643.3" y="483" width="2" height="17" fill="#8fd197"/>
<rect x="645.97" y="488.3" width="2" height="11.7" fill="#f7a1a1"/>
<rect x="648.64" y="485.6" width="2" height="14.4" fill="#8fd197"/>
<rect x="651.31" y="490.1" width="2" height="9.9" fill="#8fd197"/>
<rect x="653.98" y="497.3" width="2" height="2.7" fill="#8fd197"/>
<line x1="375.1" y1="480.5" x2="655.98" y2="480.5" stroke="#555" stroke-width="0.7" />
<polyline points="376,461.3 382.5,463.4 386.8,477.3 390,473.4 392,474.7 395.3,470.5 398.5,474 402.7,473 409,473.4 412.3,477.3 412.81,477.5" fill="none" stroke="#62ad68" stroke-width="1.4" stroke-linejoin="round" stroke-linecap="round" />
<polyline points="412.81,477.5 416.6,479 418.54,477.5" fill="none" stroke="#ea5a52" stroke-width="1.4" stroke-linejoin="round" stroke-linecap="round" />
<polyline points="418.54,477.5 419.7,476.6 420.35,477.5" fill="none" stroke="#62ad68" stroke-width="1.4" stroke-linejoin="round" stroke-linecap="round" />
<polyline points="420.35,477.5 422.5,480.5 423.97,477.5" fill="none" stroke="#ea5a52" stroke-width="1.4" stroke-linejoin="round" stroke-linecap="round" />
<polyline points="423.97,477.5 427.2,470.9 430.4,474.7 433.6,475.6 437.8,472 443,469.2 447.4,477.3 447.51,477.5" fill="none" stroke="#62ad68" stroke-width="1.4" stroke-linejoin="round" stroke-linecap="round" />
<polyline points="447.51,477.5 449.5,481 451.7,479.4 455.9,483.2 460,485.8 464.3,477.5" fill="none" stroke="#ea5a52" stroke-width="1.4" stroke-linejoin="round" stroke-linecap="round" />
<polyline points="464.3,477.5 464.4,477.3 464.51,477.5" fill="none" stroke="#62ad68" stroke-width="1.4" stroke-linejoin="round" stroke-linecap="round" />
<polyline points="464.51,477.5 468.7,485.4 474,486.9 479.3,492.6 482.5,491.7 486.8,482.6 490,479 493,479 493.94,477.5" fill="none" stroke="#ea5a52" stroke-width="1.4" stroke-linejoin="round" stroke-linecap="round" />
<polyline points="493.94,477.5 497.4,472 500.18,477.5" fill="none" stroke="#62ad68" stroke-width="1.4" stroke-linejoin="round" stroke-linecap="round" />
<polyline points="500.18,477.5 501.7,480.5 506,486.2 510,479.4 513.4,481 517.37,477.5" fill="none" stroke="#ea5a52" stroke-width="1.4" stroke-linejoin="round" stroke-linecap="round" />
<polyline points="517.37,477.5 517.6,477.3 521.9,473 527.2,473.4 532.5,477.3 537.8,476.2 542,470.9 545.3,466.6 549.5,469.8 553.8,472.6 558,472.6 563.4,476.9 563.74,477.5" fill="none" stroke="#62ad68" stroke-width="1.4" stroke-linejoin="round" stroke-linecap="round" />
<polyline points="563.74,477.5 566.6,482.6 569.7,487.5 572.5,479.8 577.2,489 581.4,487.9 586.8,489.6 592,485.8 596.3,483.7 600.6,489 605.9,485.8 610.2,482.6 613,491 617.2,477.5" fill="none" stroke="#ea5a52" stroke-width="1.4" stroke-linejoin="round" stroke-linecap="round" />
<polyline points="617.2,477.5 617.6,476.2 618.47,477.5" fill="none" stroke="#62ad68" stroke-width="1.4" stroke-linejoin="round" stroke-linecap="round" />
<polyline points="618.47,477.5 620.8,481 625,479.4 629.3,486.9 633.6,492.6 637.8,495.4 641,494.3 644.2,483.7 647.4,487.5 651.7,483.7 656,482.6" fill="none" stroke="#ea5a52" stroke-width="1.4" stroke-linejoin="round" stroke-linecap="round" />
<line x1="375.1" y1="507.6" x2="684.7" y2="507.6" stroke="#f9d0d0" stroke-width="1.5" />
<line x1="375.1" y1="514.5" x2="684.7" y2="514.5" stroke="#6e6e6e" stroke-width="0.65" />
<line x1="375.1" y1="516.5" x2="684.7" y2="516.5" stroke="#cfcfcf" stroke-width="0.7" stroke-dasharray="2 1.5"/>
<line x1="375.1" y1="522.5" x2="684.7" y2="522.5" stroke="#78b496" stroke-width="0.7" />
<path d="M376,504.4 C379.22,504.57 388.53,504.87 395.3,505.4 C402.07,505.93 409.52,506.88 416.6,507.6 C423.68,508.32 430.73,508.82 437.8,509.7 C444.87,510.58 452.63,511.73 459,512.9 C465.37,514.07 471,515.47 476,516.7 C481,517.93 484.72,519.33 489,520.3 C493.28,521.27 495.87,522.13 501.7,522.5 C507.53,522.87 518.15,522.68 524,522.5 C529.85,522.32 532.55,522 536.8,521.4 C541.05,520.8 544.53,519.25 549.5,518.9 C554.47,518.55 560.92,518.95 566.6,519.3 C572.28,519.65 578.28,520.3 583.6,521 C588.92,521.7 593.53,522.8 598.5,523.5 C603.47,524.2 607.38,524.83 613.4,525.2 C619.42,525.57 627.87,525.8 634.6,525.7 C641.33,525.6 650.6,524.78 653.8,524.6" fill="none" stroke="#ec7f6e" stroke-width="0.55" />
<path d="M376,504.4 C381,504.75 395.7,505.52 406,506.5 C416.3,507.48 428.97,508.95 437.8,510.3 C446.63,511.65 452.63,513.1 459,514.6 C465.37,516.1 471,518.1 476,519.3 C481,520.5 484,521.1 489,521.8 C494,522.5 500.17,523.3 506,523.5 C511.83,523.7 518.17,523.7 524,523 C529.83,522.3 536.03,520.1 541,519.3 C545.97,518.5 548.83,518.03 553.8,518.2 C558.77,518.37 565.13,519.5 570.8,520.3 C576.47,521.1 582.12,522.38 587.8,523 C593.48,523.62 599.22,523.83 604.9,524 C610.58,524.17 615.55,523.8 621.9,524 C628.25,524.2 637.68,525.1 643,525.2 C648.32,525.3 652,524.7 653.8,524.6" fill="none" stroke="#7dbb85" stroke-width="0.55" />
<path d="M377.5,510.5 C378.23,510.87 380.47,511.03 381.9,512.7 C383.33,514.37 384.5,518.58 386.1,520.5 C387.7,522.42 389.72,524.08 391.5,524.2 C393.28,524.32 395.03,521.82 396.8,521.2 C398.57,520.58 400.32,520.25 402.1,520.5 C403.88,520.75 405.73,522.25 407.5,522.7 C409.27,523.15 410.93,523.57 412.7,523.2 C414.47,522.83 416.5,521.9 418.1,520.5 C419.7,519.1 420.73,514.97 422.3,514.8 C423.87,514.63 425.73,518.78 427.5,519.5 C429.27,520.22 430.93,520.23 432.9,519.1 C434.87,517.97 437.37,515.18 439.3,512.7 C441.23,510.22 442.9,504.67 444.5,504.2 C446.1,503.73 447.45,506.47 448.9,509.9 C450.35,513.33 451.6,522.08 453.2,524.8 C454.8,527.52 456.73,526.2 458.5,526.2 C460.27,526.2 462.03,525.63 463.8,524.8 C465.57,523.97 467.32,521.3 469.1,521.2 C470.88,521.1 472.55,523.37 474.5,524.2 C476.45,525.03 478.87,526.28 480.8,526.2 C482.73,526.12 484.5,525.88 486.1,523.7 C487.7,521.52 489,516.35 490.4,513.1 C491.8,509.85 492.9,505.8 494.5,504.2 C496.1,502.6 498.38,502.37 500,503.5 C501.62,504.63 502.78,507.98 504.2,511 C505.62,514.02 506.9,519.65 508.5,521.6 C510.1,523.55 511.85,522.88 513.8,522.7 C515.75,522.52 518.42,522.1 520.2,520.5 C521.98,518.9 523.08,515.22 524.5,513.1 C525.92,510.98 527.47,509.05 528.7,507.8 C529.93,506.55 530.3,505.6 531.9,505.6 C533.5,505.6 535.82,507.43 538.3,507.8 C540.78,508.17 544.32,507.27 546.8,507.8 C549.28,508.33 551.25,509.05 553.2,511 C555.15,512.95 556.73,518.08 558.5,519.5 C560.27,520.92 561.85,518.62 563.8,519.5 C565.75,520.38 568.08,524.27 570.2,524.8 C572.32,525.33 574.38,522.52 576.5,522.7 C578.62,522.88 580.4,525.37 582.9,525.9 C585.4,526.43 588.83,526.43 591.5,525.9 C594.17,525.37 596.95,524.05 598.9,522.7 C600.85,521.35 601.77,518.98 603.2,517.8 C604.63,516.62 605.73,515.15 607.5,515.6 C609.27,516.05 611.87,520.92 613.8,520.5 C615.73,520.08 617.5,514.62 619.1,513.1 C620.7,511.58 622,511.05 623.4,511.4 C624.8,511.75 626.08,513.32 627.5,515.2 C628.92,517.08 630.47,520.92 631.9,522.7 C633.33,524.48 634.5,525.45 636.1,525.9 C637.7,526.35 639.9,526.85 641.5,525.4 C643.1,523.95 644.28,519.68 645.7,517.2 C647.12,514.72 648.4,511.97 650,510.5 C651.6,509.03 654.42,508.75 655.3,508.4" fill="none" stroke="#e86a5a" stroke-width="0.55" />
<path d="M376,510.3 C376.73,510.67 378.97,510.83 380.4,512.5 C381.83,514.17 383,518.38 384.6,520.3 C386.2,522.22 388.22,523.88 390,524 C391.78,524.12 393.53,521.62 395.3,521 C397.07,520.38 398.82,520.05 400.6,520.3 C402.38,520.55 404.23,522.05 406,522.5 C407.77,522.95 409.43,523.37 411.2,523 C412.97,522.63 415,521.7 416.6,520.3 C418.2,518.9 419.23,514.77 420.8,514.6 C422.37,514.43 424.23,518.58 426,519.3 C427.77,520.02 429.43,520.03 431.4,518.9 C433.37,517.77 435.87,514.98 437.8,512.5 C439.73,510.02 441.4,504.47 443,504 C444.6,503.53 445.95,506.27 447.4,509.7 C448.85,513.13 450.1,521.88 451.7,524.6 C453.3,527.32 455.23,526 457,526 C458.77,526 460.53,525.43 462.3,524.6 C464.07,523.77 465.82,521.1 467.6,521 C469.38,520.9 471.05,523.17 473,524 C474.95,524.83 477.37,526.08 479.3,526 C481.23,525.92 483,525.68 484.6,523.5 C486.2,521.32 487.5,516.15 488.9,512.9 C490.3,509.65 491.4,505.6 493,504 C494.6,502.4 496.88,502.17 498.5,503.3 C500.12,504.43 501.28,507.78 502.7,510.8 C504.12,513.82 505.4,519.45 507,521.4 C508.6,523.35 510.35,522.68 512.3,522.5 C514.25,522.32 516.92,521.9 518.7,520.3 C520.48,518.7 521.58,515.02 523,512.9 C524.42,510.78 525.97,508.85 527.2,507.6 C528.43,506.35 528.8,505.4 530.4,505.4 C532,505.4 534.32,507.23 536.8,507.6 C539.28,507.97 542.82,507.07 545.3,507.6 C547.78,508.13 549.75,508.85 551.7,510.8 C553.65,512.75 555.23,517.88 557,519.3 C558.77,520.72 560.35,518.42 562.3,519.3 C564.25,520.18 566.58,524.07 568.7,524.6 C570.82,525.13 572.88,522.32 575,522.5 C577.12,522.68 578.9,525.17 581.4,525.7 C583.9,526.23 587.33,526.23 590,525.7 C592.67,525.17 595.45,523.85 597.4,522.5 C599.35,521.15 600.27,518.78 601.7,517.6 C603.13,516.42 604.23,514.95 606,515.4 C607.77,515.85 610.37,520.72 612.3,520.3 C614.23,519.88 616,514.42 617.6,512.9 C619.2,511.38 620.5,510.85 621.9,511.2 C623.3,511.55 624.58,513.12 626,515 C627.42,516.88 628.97,520.72 630.4,522.5 C631.83,524.28 633,525.25 634.6,525.7 C636.2,526.15 638.4,526.65 640,525.2 C641.6,523.75 642.78,519.48 644.2,517 C645.62,514.52 646.9,511.77 648.5,510.3 C650.1,508.83 652.92,508.55 653.8,508.2" fill="none" stroke="#58a878" stroke-width="0.55" />
</g>
<clipPath id="c375t"><rect x="684.7" y="457.90000000000003" width="59.89999999999998" height="90"/></clipPath>
<g clip-path="url(#c375t)">
<text x="688.6" y="468.8" font-size="6" fill="#666" font-weight="normal" text-anchor="start" >50</text>
<text x="688.6" y="495.6" font-size="6" fill="#666" font-weight="normal" text-anchor="start" >−50</text>
<text x="720.3" y="461" font-size="6" fill="#666" font-weight="normal" text-anchor="start" >8 K</text>
<text x="720.3" y="480.7" font-size="6" fill="#666" font-weight="normal" text-anchor="start" >4 K</text>
<text x="688.6" y="504.7" font-size="6" fill="#666" font-weight="normal" text-anchor="start" >100.00</text>
<text x="688.8" y="529" font-size="6" fill="#666" font-weight="normal" text-anchor="start" >0.00</text>
</g>
<text x="401" y="538.4" font-size="6" fill="#777" font-weight="normal" text-anchor="middle" >Dec</text>
<text x="483.5" y="538.4" font-size="6" fill="#333" font-weight="bold" text-anchor="middle" >2025</text>
<text x="566" y="538.4" font-size="6" fill="#777" font-weight="normal" text-anchor="middle" >Feb</text>
<text x="642" y="538.4" font-size="6" fill="#777" font-weight="normal" text-anchor="middle" >Mar</text>
<rect x="325.40000000000003" y="532.6" width="6.8" height="7.2" rx="1.4" fill="#f4f4f4"/>
<text x="328.8" y="538" font-size="4.6" fill="#666" font-weight="bold" text-anchor="middle" >A</text>
<rect x="355.20000000000005" y="532.6" width="6.8" height="7.2" rx="1.4" fill="#f4f4f4"/>
<text x="358.6" y="538" font-size="4.6" fill="#666" font-weight="bold" text-anchor="middle" >$</text>
<rect x="696.6" y="532.6" width="6.8" height="7.2" rx="1.4" fill="#f4f4f4"/>
<text x="700" y="538" font-size="4.6" fill="#666" font-weight="bold" text-anchor="middle" >A</text>
<rect x="726.6" y="532.6" width="6.8" height="7.2" rx="1.4" fill="#f4f4f4"/>
<text x="730" y="538" font-size="4.6" fill="#666" font-weight="bold" text-anchor="middle" >$</text>
<rect x="0" y="542" width="752" height="14" fill="#212121"/>
<rect x="2.0" y="542" width="744.5" height="1.8" fill="#060606"/>
<g fill="#fff"><path d="M3.6,547.4 h3.9 v5.6 h-2 v-3.6 h-1.9 z"/><circle cx="8.9" cy="548.4" r="1"/><path d="M9.6,553 l1.9,-5.6 h2.2 l-2,5.6 z"/></g>
<text x="14.3" y="553" font-size="6.3" fill="#fff" font-weight="bold" text-anchor="start" textLength="33" lengthAdjust="spacingAndGlyphs">TradingView</text>
</svg></body></html>
